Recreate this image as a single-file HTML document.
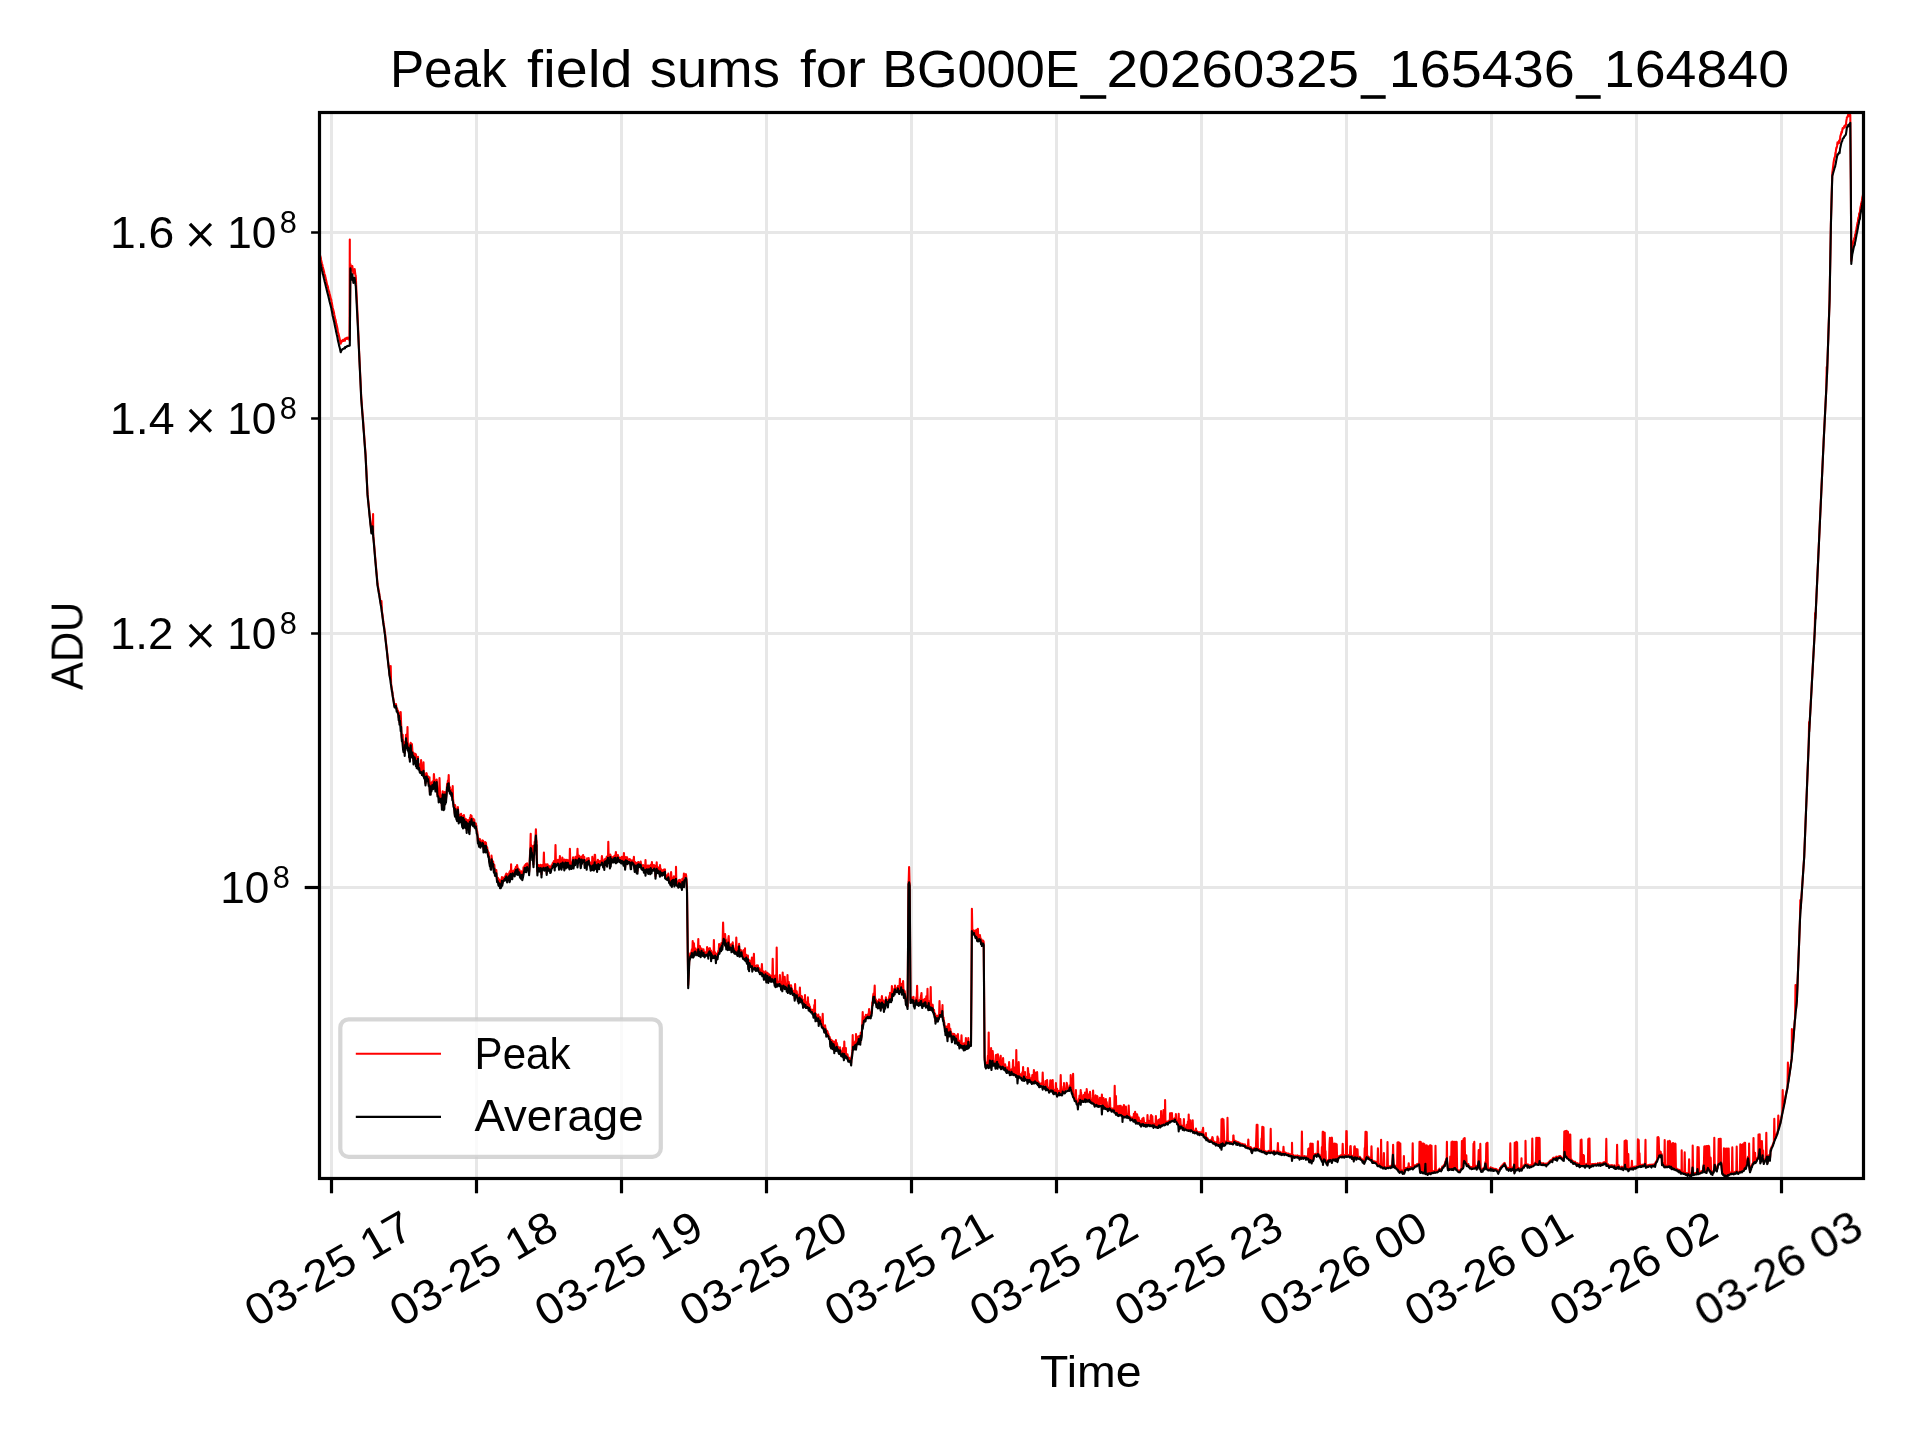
<!DOCTYPE html>
<html><head><meta charset="utf-8"><title>Peak field sums</title>
<style>html,body{margin:0;padding:0;background:#fff;}body{width:1920px;height:1440px;overflow:hidden;font-family:"Liberation Sans",sans-serif;}svg{display:block;}text{font-family:"Liberation Sans",sans-serif;fill:#000;}</style>
</head><body>
<svg width="1920" height="1440" viewBox="0 0 1920 1440">
<rect x="0" y="0" width="1920" height="1440" fill="#ffffff"/>
<defs><clipPath id="ax"><rect x="319.5" y="112.5" width="1544.0" height="1066.0"/></clipPath></defs>
<g stroke="#e7e7e7" stroke-width="3" fill="none" shape-rendering="crispEdges">
<line x1="331.5" y1="112.5" x2="331.5" y2="1178.5"/>
<line x1="476.5" y1="112.5" x2="476.5" y2="1178.5"/>
<line x1="621.5" y1="112.5" x2="621.5" y2="1178.5"/>
<line x1="766.5" y1="112.5" x2="766.5" y2="1178.5"/>
<line x1="911.5" y1="112.5" x2="911.5" y2="1178.5"/>
<line x1="1056.5" y1="112.5" x2="1056.5" y2="1178.5"/>
<line x1="1201.5" y1="112.5" x2="1201.5" y2="1178.5"/>
<line x1="1346.5" y1="112.5" x2="1346.5" y2="1178.5"/>
<line x1="1491.5" y1="112.5" x2="1491.5" y2="1178.5"/>
<line x1="1636.5" y1="112.5" x2="1636.5" y2="1178.5"/>
<line x1="1781.5" y1="112.5" x2="1781.5" y2="1178.5"/>
<line x1="319.5" y1="232.5" x2="1863.5" y2="232.5"/>
<line x1="319.5" y1="418.5" x2="1863.5" y2="418.5"/>
<line x1="319.5" y1="633.5" x2="1863.5" y2="633.5"/>
<line x1="319.5" y1="887.5" x2="1863.5" y2="887.5"/>
</g>
<g clip-path="url(#ax)" fill="none" stroke-linejoin="round" stroke-linecap="butt">
<path stroke="#ff0000" stroke-width="2.1" d="M319.5 254.4L319.9 254.7L320.3 256.2L320.7 257.6L321.1 260.0L321.5 261.7L321.9 263.5L322.3 264.7L322.7 266.8L323.1 268.1L323.5 269.9L323.9 271.0L324.3 273.2L324.7 274.5L325.0 276.2L325.1 275.4L325.5 277.8L325.9 279.3L326.3 280.9L326.7 282.9L327.1 284.9L327.5 285.5L327.9 286.8L328.3 289.0L328.7 290.9L329.1 291.4L329.5 293.9L329.9 294.7L330.3 296.4L330.7 298.5L331.1 299.4L331.2 299.4L331.5 301.4L331.9 303.2L332.3 305.6L332.7 308.0L333.1 309.4L333.5 310.8L333.9 312.2L334.3 314.7L334.7 316.4L335.1 318.8L335.5 319.5L335.9 321.7L336.0 323.1L336.3 323.6L336.7 325.3L337.1 327.1L337.5 329.0L337.9 332.3L338.3 333.1L338.7 334.6L339.1 336.4L339.5 338.1L339.9 339.9L340.3 342.2L340.7 343.8L341.1 342.2L341.5 340.8L341.9 340.7L342.0 341.2L342.3 341.5L342.7 341.2L343.1 339.8L343.5 340.9L343.9 340.1L344.3 340.3L344.7 339.0L345.0 340.8L345.1 338.6L345.5 339.2L345.9 338.4L346.3 338.7L346.7 337.9L347.1 339.0L347.5 337.7L347.9 338.0L348.3 337.8L348.7 338.4L349.1 338.1L349.5 340.2L349.8 239.5L349.9 328.9L350.3 278.0L350.4 264.1L350.7 265.7L351.1 269.7L351.3 270.5L351.5 270.0L351.9 268.3L352.3 266.0L352.7 269.0L353.1 271.4L353.4 273.4L353.5 273.0L353.9 271.2L354.3 270.0L354.6 269.0L354.7 269.0L355.1 272.6L355.5 275.3L355.8 276.8L355.9 278.4L356.3 288.5L356.7 296.9L357.1 305.5L357.5 314.0L357.9 323.1L358.0 325.5L358.3 332.6L358.7 341.8L359.1 351.0L359.5 360.0L359.9 368.2L360.3 376.9L360.7 385.3L361.1 394.3L361.2 396.4L361.5 400.4L361.9 405.6L362.3 411.0L362.7 415.7L363.1 420.6L363.5 426.6L363.9 431.5L364.3 437.3L364.7 442.6L365.1 448.1L365.5 453.1L365.9 461.1L366.3 469.0L366.7 477.1L367.1 484.6L367.5 492.8L367.9 497.1L368.3 501.0L368.7 505.2L369.1 509.1L369.5 513.4L369.9 517.1L370.3 521.1L370.5 522.9L370.7 524.5L371.1 528.3L371.4 531.8L371.5 530.6L371.9 528.3L372.3 526.2L372.6 524.5L372.7 526.0L373.1 514.0L373.2 534.5L373.5 537.8L373.9 542.0L374.3 546.8L374.7 551.4L375.1 556.3L375.5 561.0L375.9 565.3L376.3 570.0L376.7 574.2L377.1 579.0L377.5 583.5L377.9 585.8L378.3 588.1L378.7 590.9L379.1 592.3L379.5 595.4L379.9 597.9L380.3 600.4L380.7 602.8L381.1 604.7L381.2 605.9L381.5 601.0L381.9 611.0L382.3 613.5L382.7 616.8L383.1 619.7L383.5 623.0L383.9 625.3L384.3 628.0L384.7 631.8L385.0 633.1L385.1 634.2L385.5 638.1L385.9 641.6L386.3 644.9L386.7 648.5L387.1 651.8L387.5 655.6L387.9 659.5L388.3 662.9L388.7 666.5L389.1 669.7L389.5 674.1L389.9 675.8L390.3 678.3L390.7 666.0L391.1 684.0L391.5 686.6L391.9 689.8L392.3 691.2L392.7 694.9L393.1 697.2L393.5 699.5L393.9 701.9L394.3 704.8L394.5 705.5L394.7 706.1L395.1 705.6L395.5 705.2L395.9 705.9L396.0 704.1L396.3 706.7L396.7 709.3L397.1 708.4L397.5 710.4L397.9 710.7L398.3 711.7L398.7 717.4L399.1 713.1L399.5 722.1L399.9 720.7L400.0 718.2L400.3 722.3L400.7 712.0L401.1 722.9L401.5 733.8L401.9 738.1L402.3 736.4L402.7 734.8L403.1 746.8L403.5 744.9L403.7 747.2L403.9 747.8L404.3 744.7L404.7 753.1L405.1 741.6L405.5 745.5L405.9 738.9L406.0 734.7L406.3 739.8L406.7 740.1L407.1 741.3L407.5 727.0L407.9 747.6L408.3 743.8L408.7 750.2L409.0 750.5L409.1 753.8L409.5 753.3L409.9 759.7L410.3 747.1L410.7 742.8L411.1 749.2L411.5 754.5L411.9 744.0L412.3 749.0L412.5 754.8L412.7 752.9L413.1 752.3L413.5 761.0L413.9 756.0L414.3 757.5L414.7 753.5L415.1 756.5L415.5 758.5L415.9 754.3L416.3 758.5L416.7 764.9L417.1 758.0L417.5 758.8L417.9 760.4L418.0 756.9L418.3 766.9L418.7 766.5L419.1 764.3L419.5 768.2L419.9 770.4L420.3 770.8L420.7 770.0L421.1 760.0L421.5 768.8L421.9 771.8L422.3 771.9L422.7 770.0L423.1 773.4L423.5 762.4L423.9 775.4L424.3 776.6L424.7 774.3L425.0 777.6L425.1 779.0L425.5 783.2L425.9 779.6L426.3 773.1L426.7 773.5L427.1 777.0L427.5 778.4L427.9 776.2L428.3 778.4L428.7 783.8L429.1 781.7L429.5 777.3L429.9 792.2L430.3 782.5L430.7 791.0L431.0 784.2L431.1 784.3L431.5 789.5L431.9 785.1L432.3 781.5L432.7 783.4L433.1 786.5L433.5 785.5L433.9 774.0L434.3 779.1L434.7 780.4L435.1 785.8L435.5 787.9L435.9 783.4L436.3 788.6L436.7 779.5L437.1 786.6L437.5 794.4L437.9 793.2L438.3 793.8L438.7 795.2L439.1 797.8L439.5 778.0L439.9 789.7L440.3 796.2L440.7 799.1L441.1 799.6L441.5 795.9L441.9 806.3L442.3 804.1L442.7 791.3L443.1 797.9L443.5 801.6L443.7 807.8L443.9 799.2L444.3 805.4L444.7 792.0L445.1 802.4L445.5 800.1L445.9 796.1L446.0 799.6L446.3 795.6L446.7 789.8L447.1 783.9L447.5 784.1L447.9 780.5L448.3 783.0L448.7 775.0L449.1 789.0L449.5 786.5L449.9 791.4L450.0 787.6L450.3 788.8L450.7 790.1L451.1 791.8L451.5 794.1L451.9 791.3L452.3 797.1L452.7 786.0L453.1 799.7L453.5 803.8L453.9 804.8L454.3 807.4L454.7 812.8L455.0 814.4L455.1 805.1L455.5 807.5L455.9 809.3L456.3 816.1L456.7 816.5L457.1 818.3L457.5 817.4L457.9 807.0L458.3 813.5L458.5 816.5L458.7 819.5L459.1 815.7L459.5 816.4L459.9 814.9L460.3 818.6L460.7 817.0L461.1 813.7L461.5 817.6L461.9 822.2L462.3 824.1L462.7 822.7L463.0 823.1L463.1 815.8L463.5 819.3L463.9 815.0L464.3 817.4L464.7 820.0L465.1 825.0L465.5 823.6L465.9 819.1L466.3 823.1L466.7 829.9L467.1 820.6L467.5 822.6L467.9 820.0L468.3 823.4L468.7 820.4L469.1 830.9L469.5 831.2L469.9 817.9L470.0 823.1L470.3 819.0L470.7 815.0L471.1 820.5L471.5 815.7L471.9 819.7L472.3 820.8L472.7 819.5L473.1 824.1L473.5 818.9L473.9 820.3L474.3 820.0L474.6 825.8L474.7 824.2L475.1 823.4L475.5 824.8L475.9 823.5L476.0 826.0L476.3 825.4L476.7 830.6L477.1 831.0L477.5 833.5L477.9 841.4L478.3 838.1L478.7 841.9L479.1 844.7L479.5 841.2L479.9 839.1L480.3 842.6L480.4 844.4L480.7 841.7L481.1 842.0L481.5 842.8L481.9 842.7L482.3 840.3L482.7 841.7L483.1 840.7L483.5 848.9L483.9 843.2L484.3 845.1L484.7 844.0L485.1 842.1L485.5 850.0L485.9 842.5L486.3 846.4L486.7 847.9L487.1 847.1L487.5 849.9L487.9 852.0L488.3 854.6L488.7 852.6L489.1 858.8L489.5 860.0L489.9 863.5L490.3 861.1L490.7 866.5L491.1 867.4L491.5 855.5L491.9 858.9L492.3 863.0L492.7 862.1L493.1 861.4L493.5 866.2L493.9 869.4L494.3 864.9L494.7 869.3L495.0 872.7L495.1 871.4L495.5 873.1L495.9 873.1L496.3 870.1L496.7 876.3L497.1 879.3L497.5 877.7L497.9 877.7L498.3 882.0L498.7 883.3L499.1 880.7L499.5 879.6L499.9 883.0L500.0 884.0L500.3 884.5L500.7 885.4L501.1 885.2L501.5 883.6L501.9 877.1L502.0 877.1L502.3 883.7L502.7 881.0L503.1 878.0L503.5 877.9L503.9 878.2L504.3 877.8L504.7 876.9L505.0 877.0L505.1 878.4L505.5 875.4L505.9 874.8L506.3 873.5L506.7 874.4L507.1 878.7L507.5 874.3L507.9 875.2L508.3 874.4L508.7 874.4L509.1 873.7L509.5 872.1L509.9 874.5L510.3 870.6L510.7 870.4L511.0 874.0L511.1 864.3L511.5 876.3L511.9 875.2L512.3 876.9L512.7 871.2L513.1 871.2L513.5 870.5L513.9 871.4L514.3 872.5L514.7 874.0L515.1 868.8L515.5 869.1L515.9 866.7L516.3 868.1L516.7 872.0L517.1 865.0L517.5 867.4L517.9 871.1L518.0 869.2L518.3 868.6L518.7 870.0L519.1 869.5L519.5 870.1L519.9 874.6L520.3 874.6L520.7 873.9L521.1 876.0L521.5 871.4L521.9 872.1L522.3 877.6L522.7 875.6L523.1 874.6L523.5 867.2L523.9 869.7L524.3 866.9L524.7 865.4L525.0 868.6L525.1 868.5L525.5 868.8L525.9 864.0L526.3 868.9L526.7 867.9L527.1 863.4L527.5 864.9L527.9 866.4L528.3 866.7L528.7 868.5L529.1 872.2L529.5 865.7L529.9 856.3L530.2 851.1L530.3 848.3L530.7 833.7L530.8 849.4L531.1 844.5L531.5 848.9L531.9 850.0L532.0 850.8L532.3 857.6L532.7 854.2L533.1 846.0L533.5 864.5L533.7 858.8L533.9 852.7L534.3 851.5L534.7 841.7L534.8 845.3L535.1 846.6L535.5 838.1L535.9 829.3L536.3 840.2L536.6 841.8L536.7 854.3L537.1 863.8L537.4 871.5L537.5 871.1L537.9 866.0L538.2 865.4L538.3 867.0L538.7 865.1L539.1 867.9L539.5 869.2L539.9 868.7L540.3 867.1L540.7 864.8L541.1 865.5L541.5 874.3L541.9 867.0L542.3 867.4L542.7 864.8L543.1 867.1L543.5 864.2L543.9 852.5L544.3 868.3L544.7 865.5L545.0 864.4L545.1 868.1L545.5 866.6L545.9 864.2L546.3 866.7L546.7 872.9L547.1 866.0L547.5 864.3L547.9 867.0L548.3 865.6L548.7 865.8L549.1 868.3L549.5 867.2L549.9 866.6L550.3 870.3L550.7 870.8L551.1 867.9L551.5 865.4L551.9 866.3L552.3 865.2L552.7 863.1L553.1 862.6L553.5 862.6L553.9 861.1L554.3 863.9L554.7 866.9L555.0 861.7L555.1 862.2L555.5 845.0L555.9 861.9L556.3 862.8L556.7 862.0L557.1 862.6L557.5 861.3L557.9 859.8L558.3 861.8L558.7 863.1L559.1 866.9L559.5 865.7L559.9 856.0L560.3 864.5L560.7 862.1L561.1 859.7L561.5 865.8L561.9 865.2L562.3 857.5L562.7 859.0L563.1 864.7L563.5 860.3L563.9 860.8L564.3 867.3L564.7 859.6L565.0 861.3L565.1 860.1L565.5 860.0L565.9 864.7L566.3 860.8L566.7 859.8L567.1 862.1L567.5 863.6L567.9 860.2L568.3 860.4L568.7 861.3L569.1 865.7L569.5 866.7L569.9 848.7L570.3 863.0L570.7 862.8L571.1 863.8L571.5 867.0L571.9 862.5L572.3 862.4L572.7 860.8L573.1 857.2L573.5 865.6L573.9 862.4L574.3 859.7L574.7 862.8L575.1 861.2L575.5 856.9L575.9 860.5L576.3 859.2L576.7 860.9L577.1 858.4L577.5 848.7L577.9 860.2L578.3 859.2L578.7 857.0L579.1 855.7L579.5 856.9L579.9 858.7L580.3 859.2L580.7 866.0L581.1 862.6L581.5 856.6L581.9 861.4L582.3 857.2L582.7 858.5L583.1 855.0L583.5 858.2L583.9 858.7L584.3 857.0L584.7 865.1L585.1 860.4L585.5 860.4L585.9 862.6L586.3 861.3L586.7 865.9L587.1 858.4L587.5 860.0L587.9 861.5L588.3 861.9L588.7 858.1L589.1 861.6L589.5 862.0L589.9 863.0L590.0 862.2L590.3 865.1L590.7 866.7L591.1 863.9L591.5 863.4L591.9 867.6L592.3 856.9L592.7 862.4L593.1 862.3L593.5 865.2L593.9 867.5L594.3 863.0L594.7 854.8L595.1 855.0L595.5 864.6L595.9 862.9L596.3 862.0L596.7 863.6L597.1 869.1L597.5 862.0L597.9 859.8L598.3 861.7L598.7 862.6L599.1 866.1L599.5 862.1L599.9 861.1L600.3 861.6L600.7 862.4L601.1 860.8L601.5 861.6L601.9 856.0L602.3 859.3L602.7 860.5L603.1 865.4L603.5 862.2L603.9 862.8L604.3 866.6L604.7 859.4L605.1 860.4L605.5 858.9L605.9 862.7L606.3 860.8L606.7 856.9L607.1 863.6L607.5 858.9L607.9 855.0L608.0 857.7L608.3 841.7L608.7 859.5L609.1 858.6L609.5 856.9L609.9 864.7L610.3 854.5L610.7 864.0L611.1 856.4L611.5 856.6L611.9 857.2L612.3 859.0L612.7 859.7L613.1 858.8L613.5 858.8L613.9 856.7L614.3 856.1L614.7 855.5L615.1 860.1L615.5 855.2L615.9 852.0L616.3 856.4L616.7 859.0L617.1 859.7L617.5 856.8L617.9 855.0L618.3 856.7L618.7 858.0L619.1 859.3L619.5 859.3L619.9 857.5L620.3 859.0L620.7 859.6L621.1 861.4L621.5 859.6L621.9 856.8L622.3 859.1L622.7 859.4L623.1 861.0L623.5 861.9L623.9 853.0L624.3 858.8L624.7 858.5L625.1 867.5L625.5 862.9L625.9 857.1L626.3 860.3L626.7 860.7L627.1 857.3L627.5 861.4L627.9 859.2L628.3 859.6L628.7 859.7L629.1 859.3L629.5 859.0L629.9 860.3L630.0 859.2L630.3 862.2L630.7 865.6L631.1 866.8L631.5 860.7L631.9 860.3L632.3 860.6L632.7 862.2L633.1 860.5L633.5 861.1L633.9 856.8L634.3 865.6L634.7 869.1L635.1 862.1L635.5 863.7L635.9 863.1L636.3 864.2L636.7 871.5L637.1 862.8L637.5 871.0L637.9 863.4L638.3 862.1L638.7 863.9L639.1 862.8L639.5 863.5L639.9 863.9L640.0 862.6L640.3 863.3L640.7 861.6L641.1 864.2L641.5 866.9L641.9 866.3L642.3 867.4L642.7 868.0L643.1 865.0L643.5 868.0L643.9 869.3L644.3 867.9L644.7 867.5L645.0 866.3L645.1 868.0L645.5 860.0L645.9 869.1L646.3 869.2L646.7 866.2L647.1 868.0L647.5 865.6L647.9 869.8L648.3 871.2L648.7 865.6L649.1 866.7L649.5 867.2L649.9 866.0L650.3 871.8L650.7 864.9L651.1 865.0L651.5 870.6L651.9 862.0L652.3 867.2L652.7 866.8L653.1 867.3L653.5 867.8L653.9 865.1L654.3 865.2L654.7 865.9L655.1 867.7L655.5 876.1L655.9 871.1L656.3 867.9L656.7 862.2L657.1 871.1L657.5 868.8L657.9 867.2L658.3 870.3L658.7 869.7L659.1 870.4L659.5 871.0L659.9 874.5L660.0 865.0L660.3 868.8L660.7 868.7L661.1 869.6L661.5 871.6L661.9 870.1L662.3 871.7L662.7 872.3L663.1 871.6L663.5 872.6L663.9 869.6L664.3 872.4L664.7 870.2L665.0 869.4L665.1 875.6L665.5 875.2L665.9 877.0L666.3 875.9L666.7 875.4L667.1 877.1L667.5 877.5L667.9 875.7L668.3 873.6L668.7 877.5L669.1 880.8L669.5 879.8L669.9 881.2L670.0 879.9L670.3 882.8L670.7 882.8L671.1 872.0L671.5 877.6L671.9 883.7L672.3 878.4L672.7 878.1L673.1 879.3L673.5 879.7L673.9 876.2L674.3 883.5L674.7 881.7L675.1 877.0L675.5 881.6L675.9 880.1L676.0 866.8L676.3 881.3L676.7 881.3L677.1 881.9L677.5 883.2L677.9 882.8L678.3 885.4L678.7 880.4L679.1 880.1L679.5 882.3L679.9 879.8L680.0 882.5L680.3 884.8L680.7 884.8L681.1 882.2L681.5 882.7L681.9 886.9L682.3 878.7L682.7 880.0L683.1 881.4L683.5 879.9L683.9 873.5L684.0 876.5L684.3 876.8L684.7 876.6L685.1 877.0L685.5 875.0L685.9 874.1L686.2 876.0L686.3 877.3L686.7 883.2L687.0 888.8L687.1 897.1L687.5 928.9L687.9 961.4L688.2 985.3L688.3 982.5L688.7 973.1L689.1 963.7L689.3 958.9L689.5 957.5L689.9 956.4L690.3 953.2L690.5 953.7L690.7 953.7L691.1 954.3L691.5 951.8L691.9 949.3L692.3 952.2L692.7 941.0L693.1 954.9L693.5 953.2L693.9 943.4L694.3 948.4L694.7 951.7L695.1 949.2L695.5 948.5L695.9 951.5L696.3 949.7L696.7 952.1L697.0 952.2L697.1 951.4L697.5 951.3L697.9 951.7L698.3 939.1L698.7 953.5L699.1 947.8L699.5 952.6L699.9 946.0L700.3 949.8L700.7 953.6L701.1 950.9L701.5 948.5L701.9 950.6L702.3 951.0L702.7 952.4L703.1 952.9L703.5 949.3L703.9 952.0L704.3 953.1L704.7 954.6L705.0 952.9L705.1 952.2L705.5 953.4L705.9 953.0L706.3 952.4L706.7 953.0L707.1 947.0L707.5 953.5L707.9 948.2L708.3 954.8L708.7 950.3L709.1 950.8L709.5 949.2L709.9 948.2L710.3 950.9L710.7 953.9L711.0 950.5L711.1 959.2L711.5 952.1L711.9 952.4L712.3 954.8L712.7 953.9L713.1 953.8L713.5 956.1L713.9 940.0L714.3 954.6L714.7 954.4L715.1 952.4L715.5 953.3L715.9 960.0L716.3 953.7L716.7 955.7L717.1 955.4L717.5 957.1L717.9 953.2L718.3 950.8L718.7 951.0L719.1 944.0L719.5 950.2L719.9 949.2L720.3 944.9L720.7 948.2L721.0 947.8L721.1 948.5L721.5 942.9L721.9 942.8L722.3 947.5L722.7 939.6L723.1 922.5L723.5 936.9L723.7 936.8L723.9 938.8L724.3 938.2L724.7 936.6L725.1 934.0L725.5 939.8L725.9 939.5L726.3 947.1L726.7 944.4L727.0 943.4L727.1 945.7L727.5 945.0L727.9 948.0L728.3 938.8L728.7 936.0L729.1 944.7L729.5 946.7L729.9 945.3L730.3 946.4L730.7 947.3L731.1 944.2L731.5 948.6L731.9 947.5L732.3 946.3L732.7 942.3L733.0 944.7L733.1 945.1L733.5 948.1L733.9 949.3L734.3 948.7L734.7 951.3L735.1 949.9L735.5 950.5L735.9 949.4L736.3 937.5L736.7 952.1L737.1 950.6L737.5 952.3L737.9 950.5L738.3 947.1L738.7 949.0L739.1 943.9L739.5 954.4L739.9 951.5L740.0 949.5L740.3 953.4L740.7 951.9L741.1 953.5L741.5 950.2L741.9 953.1L742.3 953.3L742.7 954.6L743.1 956.9L743.5 956.0L743.9 950.0L744.3 956.9L744.7 956.8L745.0 948.2L745.1 957.0L745.5 959.3L745.9 958.6L746.3 954.9L746.7 960.5L747.1 959.8L747.5 958.3L747.9 955.6L748.3 966.7L748.7 961.2L749.1 967.7L749.5 960.2L749.9 963.0L750.0 963.5L750.3 963.1L750.7 964.6L751.1 963.6L751.5 963.9L751.9 957.6L752.3 968.1L752.7 967.2L753.1 966.1L753.5 966.5L753.9 953.7L754.3 965.6L754.7 965.9L755.1 965.9L755.5 966.8L755.9 967.4L756.3 966.0L756.7 965.3L757.1 967.5L757.5 965.7L757.9 965.4L758.0 967.8L758.3 967.5L758.7 967.7L759.1 968.4L759.5 969.0L759.9 970.7L760.3 970.4L760.7 969.5L761.1 971.3L761.5 970.2L761.9 964.0L762.3 972.5L762.7 972.8L763.1 971.2L763.5 972.7L763.9 976.3L764.3 973.8L764.7 974.4L765.1 973.1L765.5 971.2L765.9 974.9L766.3 980.1L766.7 977.8L767.1 972.9L767.5 972.9L767.9 973.9L768.3 979.5L768.7 977.2L769.1 974.2L769.5 975.3L769.9 975.1L770.3 978.0L770.7 975.8L771.1 978.1L771.5 978.2L771.9 977.4L772.3 977.3L772.7 958.7L773.1 977.9L773.5 979.9L773.9 979.6L774.3 980.3L774.7 983.0L775.1 975.5L775.5 984.9L775.9 984.1L776.3 980.4L776.7 947.5L777.1 983.6L777.5 984.0L777.9 983.1L778.0 982.2L778.3 981.8L778.7 981.9L779.1 981.8L779.5 981.1L779.9 975.1L780.3 981.3L780.7 982.2L781.1 987.3L781.5 984.3L781.9 982.9L782.3 988.0L782.7 972.5L783.1 983.1L783.5 982.7L783.9 983.1L784.3 985.8L784.7 976.8L785.1 983.3L785.5 983.8L785.9 985.1L786.3 985.0L786.7 987.8L787.1 988.0L787.5 975.0L787.9 989.4L788.3 986.8L788.7 981.7L789.1 984.5L789.5 984.9L789.9 987.7L790.0 989.4L790.3 991.3L790.7 988.4L791.1 985.4L791.5 988.7L791.9 988.6L792.3 991.0L792.7 992.7L793.1 991.2L793.5 991.8L793.9 990.8L794.3 990.9L794.7 998.7L795.1 984.0L795.5 991.7L795.9 993.5L796.3 993.3L796.7 991.3L797.0 993.9L797.1 993.6L797.5 996.0L797.9 998.7L798.3 995.4L798.7 999.9L799.1 998.2L799.5 994.7L799.9 987.5L800.3 997.9L800.7 999.8L801.1 995.7L801.5 998.5L801.9 996.4L802.3 1000.8L802.7 999.6L803.1 1005.5L803.5 1000.2L803.9 1000.0L804.3 1002.5L804.7 1004.0L805.0 995.0L805.1 1003.8L805.5 1001.5L805.9 1005.4L806.3 1005.8L806.7 1003.4L807.1 1004.2L807.5 1004.0L807.9 997.2L808.3 1004.7L808.7 1006.8L809.1 1004.3L809.5 1008.1L809.9 1006.4L810.3 1009.6L810.7 1010.3L811.1 1010.5L811.5 1009.8L811.9 1009.6L812.3 1009.9L812.7 1011.7L813.1 1011.4L813.5 1014.6L813.9 1014.0L814.3 1005.1L814.7 1011.7L815.0 1000.0L815.1 1012.7L815.5 1017.6L815.9 1013.9L816.3 1016.8L816.7 1015.3L817.1 1016.2L817.5 1018.2L817.9 1016.4L818.3 1014.6L818.7 1022.5L819.1 1017.5L819.5 1016.9L819.9 1017.0L820.3 1019.7L820.7 1020.4L821.1 1020.1L821.5 1023.9L821.9 1024.3L822.3 1024.0L822.7 1013.7L823.1 1026.1L823.5 1026.0L823.9 1027.9L824.3 1029.4L824.7 1029.6L825.0 1028.6L825.1 1025.4L825.5 1029.2L825.9 1028.9L826.3 1034.1L826.7 1034.1L827.1 1030.9L827.5 1031.5L827.9 1034.6L828.3 1033.8L828.7 1035.6L829.1 1037.2L829.5 1036.7L829.9 1037.8L830.3 1044.0L830.7 1040.3L831.1 1046.2L831.5 1039.9L831.9 1041.9L832.3 1040.9L832.5 1042.6L832.7 1046.1L833.1 1042.6L833.5 1041.6L833.9 1041.6L834.3 1050.4L834.7 1044.0L835.1 1045.2L835.5 1047.3L835.9 1040.0L836.3 1048.7L836.7 1042.9L837.1 1044.4L837.5 1047.0L837.9 1046.7L838.3 1048.6L838.7 1049.8L839.1 1051.1L839.5 1049.2L839.9 1048.9L840.0 1047.2L840.3 1050.4L840.7 1051.0L841.1 1053.6L841.5 1051.9L841.9 1052.9L842.3 1053.5L842.7 1050.7L843.1 1048.0L843.5 1053.7L843.9 1057.0L844.3 1041.6L844.7 1053.9L845.1 1054.3L845.5 1053.3L845.9 1048.0L846.0 1054.2L846.3 1055.3L846.7 1054.3L847.1 1054.5L847.5 1054.4L847.9 1057.1L848.3 1057.9L848.7 1059.2L849.1 1057.8L849.5 1058.9L849.9 1058.4L850.3 1058.8L850.7 1059.4L851.1 1063.4L851.2 1062.9L851.5 1056.5L851.9 1055.3L852.3 1051.4L852.7 1035.0L853.0 1047.5L853.1 1043.6L853.5 1043.9L853.9 1047.8L854.3 1046.2L854.7 1043.2L855.1 1041.6L855.5 1041.1L855.9 1045.1L856.0 1034.0L856.3 1045.0L856.7 1036.3L857.1 1041.5L857.5 1040.7L857.9 1038.4L858.3 1040.4L858.7 1036.3L859.1 1037.5L859.5 1037.2L859.9 1035.6L860.3 1042.2L860.7 1032.7L861.0 1035.7L861.1 1037.7L861.5 1036.2L861.9 1030.2L862.3 1023.1L862.7 1012.0L863.1 1023.1L863.5 1021.4L863.9 1018.6L864.3 1018.9L864.7 1018.1L865.1 1016.6L865.5 1018.7L865.9 1014.7L866.3 1016.1L866.7 1015.0L867.1 1015.1L867.5 1015.6L867.9 1014.4L868.0 1014.8L868.3 1014.5L868.7 1014.2L869.1 1009.0L869.5 1015.5L869.9 1013.6L870.3 1014.7L870.7 1016.0L871.1 1012.3L871.5 1013.3L871.9 1008.6L872.3 1002.4L872.7 1003.3L873.1 995.9L873.5 993.6L873.9 994.7L874.3 993.5L874.7 985.5L875.0 997.0L875.1 998.6L875.5 999.2L875.9 999.6L876.3 1002.4L876.5 1004.2L876.7 1004.9L877.1 1001.3L877.5 1002.6L877.9 1005.8L878.3 1003.7L878.7 1000.5L879.1 999.4L879.5 1002.8L879.9 1005.6L880.0 1001.4L880.3 1000.1L880.7 1008.9L881.1 1003.0L881.5 1000.3L881.9 996.0L882.3 1000.5L882.7 1002.8L883.1 1004.3L883.5 1000.5L883.9 1009.2L884.3 1006.8L884.7 1002.6L885.0 1006.0L885.1 1005.9L885.5 1004.0L885.9 997.4L886.3 999.4L886.7 1001.4L887.1 1001.5L887.5 1000.0L887.9 1004.9L888.3 1000.5L888.7 999.7L889.1 997.5L889.5 995.7L889.9 999.3L890.0 992.7L890.3 998.5L890.7 997.0L891.1 999.0L891.5 998.4L891.9 986.0L892.3 991.3L892.7 993.0L893.1 992.4L893.5 993.4L893.9 991.3L894.3 988.9L894.7 992.3L895.0 985.6L895.1 990.0L895.5 988.0L895.9 988.4L896.3 988.7L896.7 988.6L897.1 989.1L897.5 988.1L897.9 986.0L898.3 988.8L898.7 988.0L899.1 990.3L899.5 987.9L899.9 978.7L900.3 989.4L900.7 989.4L901.0 986.8L901.1 983.8L901.5 989.1L901.9 991.9L902.3 987.7L902.7 986.5L903.1 981.0L903.5 990.6L903.9 995.0L904.0 990.0L904.3 991.1L904.7 991.1L905.1 994.8L905.5 997.2L905.9 1001.8L906.3 1000.1L906.7 1002.4L907.1 1003.7L907.5 1005.5L907.6 1006.2L907.9 965.0L908.3 909.1L908.5 881.5L908.7 880.8L909.1 867.0L909.5 882.1L909.7 883.4L909.9 912.2L910.3 970.5L910.5 1000.1L910.7 999.8L911.1 1000.3L911.5 998.2L911.9 997.5L912.3 1000.4L912.7 998.1L913.1 997.8L913.5 996.9L913.9 1004.7L914.3 1002.7L914.7 1006.0L915.0 1001.8L915.1 1002.8L915.5 1000.9L915.9 1000.4L916.3 997.3L916.7 999.8L917.1 985.7L917.5 999.6L917.9 1001.5L918.3 1001.2L918.7 1003.5L919.1 1000.9L919.5 1000.1L919.9 1002.5L920.0 1001.9L920.3 1001.6L920.7 997.8L921.1 995.8L921.5 993.0L921.9 1004.1L922.3 1005.1L922.7 1002.4L923.1 1003.6L923.5 999.8L923.9 1004.1L924.3 1002.2L924.7 999.1L925.0 1000.4L925.1 1001.2L925.5 998.6L925.9 1005.7L926.3 996.4L926.7 998.0L927.1 1003.5L927.5 988.7L927.9 1005.4L928.3 1006.7L928.7 1001.0L929.1 1006.7L929.5 1008.0L929.9 1006.9L930.0 1007.3L930.3 1004.5L930.7 987.0L931.1 1007.0L931.5 1004.3L931.9 1007.2L932.3 1008.7L932.7 1004.8L933.1 1009.8L933.5 1009.6L933.9 1012.5L934.0 1009.7L934.3 1013.2L934.7 1015.7L935.1 1013.6L935.5 1021.2L935.9 1018.6L936.3 1018.3L936.7 1016.3L937.1 1015.7L937.5 1018.6L937.9 1018.2L938.3 1015.7L938.7 1016.0L939.1 1014.9L939.5 1001.0L939.9 1013.4L940.0 1013.1L940.3 1013.0L940.7 1012.4L941.1 1013.2L941.5 1014.2L941.9 1012.9L942.3 1009.1L942.5 1005.0L942.7 1015.4L943.1 1018.6L943.5 1017.4L943.9 1022.5L944.3 1022.3L944.7 1026.1L945.0 1028.6L945.1 1027.5L945.5 1032.2L945.9 1029.7L946.3 1029.5L946.7 1026.5L947.1 1033.3L947.5 1037.6L947.9 1031.2L948.3 1024.1L948.7 1031.0L949.1 1024.0L949.5 1033.7L949.9 1029.0L950.0 1031.6L950.3 1028.7L950.7 1031.8L951.1 1031.9L951.5 1034.3L951.9 1039.8L952.3 1037.1L952.7 1034.9L953.1 1033.8L953.5 1036.8L953.9 1035.2L954.3 1034.1L954.7 1036.1L955.0 1041.0L955.1 1040.4L955.5 1039.3L955.9 1035.6L956.3 1036.8L956.7 1041.2L957.1 1038.6L957.5 1042.0L957.9 1034.0L958.3 1041.6L958.7 1040.2L959.1 1043.4L959.5 1046.1L959.9 1041.5L960.0 1042.9L960.3 1045.5L960.7 1042.6L961.1 1043.8L961.5 1035.4L961.9 1045.2L962.3 1046.1L962.7 1044.9L963.1 1044.0L963.5 1044.8L963.7 1048.3L963.9 1043.3L964.3 1043.3L964.7 1043.5L965.1 1046.4L965.5 1046.8L965.9 1038.0L966.3 1044.6L966.7 1043.9L967.0 1043.4L967.1 1046.1L967.5 1044.8L967.9 1045.2L968.3 1038.0L968.7 1045.1L969.1 1044.0L969.5 1043.4L969.9 1042.4L970.3 1043.4L970.7 1043.9L971.0 1043.5L971.1 1029.9L971.5 978.6L971.9 908.7L972.3 929.3L972.7 929.9L973.1 931.9L973.2 931.0L973.5 930.6L973.9 930.5L974.3 932.2L974.7 931.8L975.1 931.0L975.5 935.8L975.9 936.3L976.3 929.9L976.7 934.8L977.1 937.9L977.5 939.2L977.9 928.8L978.3 937.7L978.7 938.6L979.1 936.7L979.5 938.3L979.9 935.0L980.3 937.7L980.7 938.6L981.0 941.9L981.1 940.8L981.5 939.6L981.9 942.5L982.3 941.0L982.7 940.9L983.1 940.5L983.5 941.5L983.7 942.0L983.9 966.7L984.3 1018.6L984.6 1057.2L984.7 1057.7L985.1 1062.1L985.3 1064.3L985.5 1063.5L985.9 1064.7L986.3 1062.8L986.7 1063.7L987.1 1062.4L987.5 1062.7L987.9 1055.9L988.0 1065.1L988.3 1059.0L988.7 1032.5L989.1 1064.6L989.5 1062.6L989.9 1058.5L990.3 1058.8L990.7 1064.6L991.1 1048.0L991.5 1060.4L991.9 1061.4L992.3 1061.3L992.5 1057.5L992.7 1051.0L993.1 1056.4L993.5 1063.5L993.9 1062.5L994.3 1061.6L994.7 1061.6L995.1 1062.7L995.5 1065.9L995.9 1055.0L996.3 1062.5L996.7 1054.9L997.1 1058.4L997.5 1059.7L997.9 1054.3L998.3 1062.6L998.7 1062.7L999.1 1063.6L999.5 1063.7L999.9 1064.9L1000.0 1064.7L1000.3 1057.4L1000.7 1055.7L1001.1 1067.1L1001.5 1061.3L1001.9 1064.3L1002.3 1063.9L1002.7 1063.3L1003.1 1058.0L1003.5 1066.4L1003.9 1066.4L1004.3 1067.0L1004.7 1067.5L1005.1 1064.3L1005.5 1066.5L1005.9 1068.4L1006.3 1070.5L1006.7 1070.7L1007.1 1067.2L1007.5 1067.8L1007.9 1070.5L1008.3 1070.2L1008.7 1070.1L1009.1 1062.0L1009.5 1069.6L1009.9 1072.9L1010.3 1070.3L1010.7 1072.0L1011.1 1071.6L1011.5 1069.2L1011.9 1072.4L1012.3 1070.1L1012.7 1068.1L1013.1 1060.0L1013.5 1073.3L1013.9 1067.1L1014.3 1071.5L1014.7 1071.3L1015.1 1072.1L1015.5 1073.8L1015.9 1073.2L1016.0 1074.2L1016.3 1050.0L1016.7 1074.3L1017.1 1073.5L1017.5 1074.6L1017.9 1075.2L1018.3 1076.0L1018.7 1062.0L1019.1 1073.8L1019.5 1074.0L1019.9 1074.1L1020.3 1074.3L1020.7 1075.8L1021.1 1075.9L1021.5 1076.0L1021.9 1077.4L1022.3 1072.3L1022.7 1078.3L1023.1 1067.0L1023.5 1078.9L1023.9 1074.3L1024.3 1079.0L1024.7 1076.6L1025.0 1072.0L1025.1 1076.4L1025.5 1076.8L1025.9 1077.1L1026.3 1077.0L1026.7 1076.9L1027.1 1077.5L1027.5 1081.1L1027.9 1068.0L1028.3 1072.2L1028.7 1079.5L1029.1 1074.0L1029.5 1077.7L1029.9 1078.6L1030.3 1078.8L1030.7 1078.4L1031.1 1080.6L1031.5 1079.8L1031.9 1081.7L1032.3 1075.1L1032.7 1079.6L1033.1 1081.5L1033.5 1079.5L1033.9 1070.0L1034.3 1080.2L1034.7 1080.5L1035.0 1079.0L1035.1 1072.5L1035.5 1080.3L1035.9 1081.3L1036.3 1079.6L1036.7 1075.9L1037.1 1072.0L1037.5 1080.2L1037.9 1083.5L1038.3 1082.4L1038.7 1082.2L1039.1 1084.4L1039.5 1084.7L1039.9 1083.7L1040.3 1084.3L1040.7 1083.7L1041.1 1083.3L1041.5 1083.3L1041.9 1084.4L1042.3 1084.7L1042.7 1072.5L1043.1 1084.4L1043.5 1084.8L1043.9 1085.1L1044.3 1084.9L1044.7 1086.3L1045.0 1085.7L1045.1 1086.4L1045.5 1081.1L1045.9 1088.1L1046.3 1087.1L1046.7 1086.9L1047.1 1080.0L1047.5 1087.1L1047.9 1087.3L1048.3 1088.3L1048.7 1089.3L1049.1 1090.3L1049.5 1089.5L1049.9 1089.0L1050.3 1080.4L1050.7 1087.5L1051.1 1087.8L1051.5 1080.9L1051.9 1088.5L1052.3 1089.2L1052.7 1080.0L1053.1 1091.0L1053.5 1089.4L1053.9 1092.2L1054.3 1090.3L1054.7 1089.8L1055.1 1090.4L1055.5 1091.6L1055.9 1083.0L1056.3 1092.0L1056.7 1093.1L1057.1 1088.8L1057.5 1094.3L1057.9 1093.0L1058.3 1092.3L1058.7 1092.2L1059.1 1090.8L1059.5 1092.4L1059.9 1093.2L1060.3 1092.2L1060.7 1075.0L1061.1 1088.9L1061.5 1092.8L1061.9 1092.7L1062.3 1092.0L1062.7 1089.5L1063.1 1090.8L1063.5 1086.5L1063.9 1090.2L1064.0 1083.0L1064.3 1091.1L1064.7 1090.8L1065.1 1090.9L1065.5 1089.6L1065.9 1088.7L1066.3 1089.0L1066.7 1082.9L1067.1 1084.0L1067.5 1088.7L1067.9 1088.6L1068.3 1087.6L1068.7 1088.3L1069.1 1088.2L1069.5 1086.8L1069.9 1085.2L1070.3 1085.7L1070.6 1087.2L1070.7 1075.0L1071.1 1080.8L1071.5 1090.3L1071.9 1087.9L1072.0 1087.5L1072.3 1091.6L1072.7 1093.8L1073.1 1073.7L1073.5 1094.7L1073.9 1095.9L1074.3 1096.7L1074.7 1098.5L1075.1 1099.5L1075.5 1098.6L1075.9 1090.0L1076.3 1100.4L1076.7 1101.6L1077.1 1103.2L1077.5 1102.2L1077.9 1102.7L1078.3 1102.4L1078.7 1099.1L1079.1 1100.1L1079.5 1095.5L1079.9 1098.9L1080.3 1098.2L1080.7 1090.0L1081.0 1099.2L1081.1 1092.6L1081.5 1098.8L1081.9 1099.9L1082.3 1098.2L1082.7 1099.4L1083.1 1099.8L1083.5 1095.0L1083.9 1100.1L1084.3 1099.5L1084.7 1098.8L1085.0 1092.5L1085.1 1098.9L1085.5 1098.8L1085.9 1093.0L1086.3 1099.2L1086.7 1089.0L1087.1 1092.8L1087.5 1098.9L1087.9 1099.9L1088.3 1099.2L1088.7 1099.3L1089.1 1094.3L1089.5 1098.4L1089.9 1099.7L1090.0 1091.8L1090.3 1099.3L1090.7 1101.1L1091.1 1100.5L1091.5 1101.3L1091.9 1100.2L1092.3 1101.1L1092.7 1096.9L1093.1 1090.5L1093.5 1101.2L1093.9 1102.6L1094.3 1103.5L1094.7 1105.2L1095.0 1103.1L1095.1 1104.0L1095.5 1095.3L1095.9 1103.2L1096.3 1103.1L1096.7 1103.2L1097.1 1096.0L1097.5 1096.8L1097.9 1104.8L1098.3 1105.4L1098.7 1103.5L1099.1 1104.6L1099.5 1100.4L1099.9 1097.9L1100.3 1103.6L1100.7 1099.7L1101.1 1098.7L1101.5 1103.6L1101.9 1094.5L1102.3 1105.1L1102.5 1099.4L1102.7 1103.4L1103.1 1104.3L1103.5 1098.1L1103.9 1099.6L1104.3 1106.5L1104.7 1105.5L1105.1 1106.0L1105.5 1106.7L1105.9 1099.0L1106.3 1107.2L1106.7 1102.0L1107.1 1106.8L1107.5 1107.2L1107.9 1106.6L1108.3 1107.0L1108.7 1108.6L1109.0 1107.0L1109.1 1107.5L1109.5 1100.9L1109.9 1098.0L1110.3 1107.1L1110.7 1108.2L1111.1 1108.7L1111.5 1109.8L1111.9 1108.7L1112.3 1109.2L1112.5 1108.7L1112.7 1109.3L1113.1 1108.5L1113.5 1110.0L1113.9 1108.3L1114.3 1110.3L1114.7 1085.7L1115.1 1110.5L1115.5 1102.6L1115.9 1096.0L1116.3 1111.4L1116.7 1111.0L1117.1 1106.0L1117.5 1113.1L1117.9 1113.2L1118.3 1114.5L1118.7 1114.0L1119.1 1105.8L1119.5 1108.7L1119.9 1112.7L1120.3 1113.1L1120.7 1105.7L1121.1 1113.3L1121.5 1113.9L1121.9 1114.6L1122.3 1107.3L1122.5 1114.7L1122.7 1114.9L1123.1 1116.4L1123.5 1107.7L1123.9 1105.0L1124.3 1108.8L1124.7 1115.3L1125.1 1115.4L1125.5 1115.0L1125.9 1106.6L1126.3 1115.5L1126.7 1115.8L1127.1 1114.3L1127.5 1115.8L1127.9 1115.9L1128.3 1116.4L1128.7 1105.5L1129.1 1115.5L1129.5 1115.8L1129.9 1116.7L1130.3 1118.4L1130.7 1117.9L1131.1 1118.0L1131.5 1117.5L1131.9 1117.4L1132.0 1118.0L1132.3 1117.7L1132.7 1118.7L1133.1 1119.1L1133.5 1119.7L1133.9 1113.7L1134.3 1114.2L1134.7 1117.9L1135.1 1111.9L1135.5 1115.0L1135.9 1121.9L1136.0 1114.0L1136.3 1120.3L1136.7 1121.0L1137.1 1114.4L1137.5 1117.0L1137.9 1122.0L1138.3 1121.9L1138.7 1117.6L1139.1 1121.0L1139.5 1122.1L1139.9 1123.0L1140.3 1120.7L1140.7 1123.4L1141.0 1124.1L1141.1 1125.0L1141.5 1122.7L1141.9 1122.8L1142.3 1118.9L1142.7 1122.7L1143.1 1122.4L1143.5 1117.8L1143.9 1121.1L1144.3 1124.3L1144.7 1123.6L1145.1 1123.9L1145.5 1123.0L1145.9 1124.8L1146.3 1123.9L1146.7 1122.8L1147.1 1124.6L1147.5 1115.0L1147.9 1123.3L1148.3 1123.2L1148.7 1120.8L1149.1 1123.5L1149.5 1123.4L1149.9 1124.5L1150.3 1123.9L1150.7 1116.6L1151.1 1115.0L1151.5 1124.8L1151.9 1123.9L1152.3 1116.4L1152.7 1123.9L1153.1 1125.2L1153.5 1126.4L1153.9 1123.9L1154.3 1124.6L1154.7 1125.0L1155.1 1124.9L1155.5 1125.7L1155.9 1116.0L1156.3 1125.7L1156.7 1125.8L1157.1 1126.0L1157.5 1126.6L1157.9 1125.5L1158.3 1120.0L1158.7 1124.0L1159.1 1123.4L1159.5 1119.4L1159.9 1124.8L1160.3 1126.0L1160.7 1124.9L1161.1 1111.0L1161.5 1124.1L1161.9 1124.6L1162.3 1124.0L1162.7 1124.2L1163.1 1123.7L1163.5 1110.0L1163.9 1123.5L1164.3 1123.9L1164.7 1123.4L1165.0 1123.5L1165.1 1100.0L1165.5 1123.4L1165.9 1122.2L1166.3 1122.0L1166.7 1121.8L1167.1 1122.7L1167.5 1121.5L1167.9 1123.2L1168.3 1121.2L1168.7 1121.3L1169.1 1120.8L1169.5 1120.2L1169.9 1120.2L1170.0 1113.4L1170.3 1120.7L1170.7 1113.4L1171.1 1114.3L1171.5 1120.2L1171.9 1113.0L1172.3 1119.1L1172.7 1118.9L1173.1 1119.2L1173.5 1120.0L1173.9 1119.7L1174.3 1120.2L1174.7 1118.2L1175.0 1118.1L1175.1 1119.2L1175.5 1120.3L1175.9 1114.0L1176.3 1120.3L1176.7 1120.8L1177.1 1122.5L1177.5 1122.3L1177.9 1123.1L1178.0 1123.2L1178.3 1124.5L1178.7 1113.7L1179.1 1124.9L1179.5 1126.5L1179.9 1127.5L1180.0 1125.8L1180.3 1119.1L1180.7 1124.7L1181.1 1125.6L1181.5 1125.3L1181.9 1126.7L1182.3 1127.3L1182.7 1128.1L1183.1 1126.5L1183.5 1126.7L1183.9 1119.0L1184.3 1129.1L1184.7 1128.5L1185.1 1128.3L1185.5 1127.9L1185.9 1128.1L1186.3 1128.2L1186.7 1124.8L1187.1 1129.0L1187.5 1129.1L1187.9 1121.5L1188.3 1128.9L1188.7 1114.6L1189.1 1128.7L1189.5 1128.8L1189.9 1128.9L1190.3 1130.1L1190.4 1120.4L1190.7 1128.9L1191.1 1128.5L1191.5 1129.2L1191.9 1129.5L1192.3 1129.6L1192.7 1120.4L1193.1 1131.4L1193.5 1130.8L1193.9 1130.8L1194.3 1130.8L1194.7 1132.1L1195.1 1131.3L1195.5 1131.4L1195.9 1128.5L1196.3 1131.6L1196.7 1131.1L1197.1 1131.4L1197.5 1131.9L1197.9 1132.9L1198.3 1132.7L1198.7 1132.5L1199.1 1132.0L1199.5 1133.8L1199.9 1132.3L1200.3 1132.2L1200.7 1132.3L1201.1 1132.6L1201.5 1133.6L1201.9 1132.9L1202.3 1133.3L1202.5 1130.0L1202.7 1133.8L1203.1 1127.7L1203.5 1135.3L1203.9 1135.0L1204.3 1136.3L1204.7 1135.9L1205.1 1136.8L1205.5 1136.2L1205.9 1133.1L1206.0 1136.7L1206.3 1139.0L1206.7 1138.2L1207.1 1137.8L1207.5 1138.2L1207.9 1139.2L1208.3 1139.7L1208.7 1139.7L1209.1 1140.1L1209.5 1140.3L1209.9 1140.2L1210.3 1140.7L1210.7 1140.1L1211.1 1139.6L1211.5 1140.0L1211.9 1140.8L1212.3 1137.0L1212.7 1137.8L1213.1 1142.3L1213.5 1142.5L1213.9 1141.9L1214.3 1141.5L1214.7 1142.6L1215.1 1143.0L1215.5 1142.7L1215.9 1144.4L1216.0 1142.5L1216.3 1143.3L1216.7 1143.1L1217.1 1143.6L1217.5 1136.5L1217.9 1143.8L1218.3 1138.2L1218.7 1143.8L1219.1 1144.1L1219.5 1145.0L1219.9 1145.1L1220.0 1146.6L1220.3 1144.1L1220.7 1142.5L1221.1 1146.6L1221.5 1119.2L1221.9 1142.7L1222.3 1118.8L1222.5 1145.0L1222.7 1119.4L1223.1 1143.8L1223.5 1119.5L1223.9 1129.7L1224.3 1144.7L1224.7 1143.2L1225.1 1143.9L1225.5 1142.7L1225.9 1142.3L1226.3 1141.2L1226.7 1141.8L1227.1 1142.3L1227.5 1117.7L1227.9 1141.7L1228.3 1141.5L1228.7 1142.0L1229.1 1142.2L1229.5 1141.6L1229.9 1142.3L1230.3 1142.4L1230.7 1142.4L1231.1 1142.1L1231.5 1142.4L1231.9 1142.3L1232.3 1143.0L1232.7 1143.0L1233.1 1142.7L1233.3 1135.6L1233.5 1135.4L1233.9 1141.8L1234.2 1140.6L1234.3 1140.4L1234.7 1141.2L1235.1 1140.9L1235.5 1141.1L1235.9 1141.3L1236.3 1143.6L1236.7 1142.0L1237.1 1142.9L1237.5 1143.4L1237.9 1141.9L1238.3 1142.4L1238.7 1142.9L1239.1 1142.7L1239.5 1144.0L1239.9 1144.4L1240.3 1143.3L1240.7 1144.2L1241.1 1144.3L1241.5 1143.8L1241.9 1143.8L1242.3 1144.0L1242.7 1144.1L1243.1 1144.5L1243.5 1144.5L1243.9 1144.4L1244.3 1144.7L1244.7 1145.4L1245.0 1144.5L1245.1 1145.8L1245.5 1146.2L1245.9 1146.4L1246.3 1146.1L1246.7 1146.3L1247.1 1146.9L1247.5 1146.5L1247.9 1147.0L1248.3 1139.5L1248.7 1146.8L1249.1 1147.1L1249.5 1147.1L1249.9 1147.7L1250.3 1147.2L1250.7 1147.0L1250.8 1147.6L1251.1 1148.7L1251.5 1151.0L1251.9 1151.2L1252.0 1151.8L1252.3 1150.7L1252.7 1149.2L1253.0 1148.6L1253.1 1148.7L1253.5 1148.8L1253.9 1148.2L1254.3 1148.3L1254.7 1148.9L1255.1 1147.7L1255.5 1147.9L1255.9 1149.0L1256.3 1136.4L1256.7 1124.8L1257.1 1148.6L1257.5 1124.9L1257.9 1148.5L1258.3 1149.1L1258.7 1149.0L1259.1 1149.1L1259.5 1150.0L1259.9 1149.7L1260.3 1149.9L1260.7 1150.2L1261.1 1149.4L1261.5 1138.5L1261.7 1150.6L1261.9 1138.0L1262.3 1126.8L1262.7 1150.8L1263.1 1127.1L1263.5 1127.4L1263.9 1151.2L1264.3 1151.6L1264.7 1150.7L1265.1 1152.0L1265.5 1151.4L1265.9 1151.8L1266.3 1152.8L1266.7 1151.7L1267.1 1152.5L1267.5 1151.9L1267.9 1151.8L1268.3 1151.2L1268.7 1150.9L1269.1 1151.4L1269.5 1151.5L1269.9 1151.4L1270.0 1152.0L1270.3 1151.5L1270.7 1128.9L1271.1 1151.5L1271.5 1151.1L1271.9 1151.4L1272.3 1151.8L1272.7 1151.9L1273.1 1152.0L1273.5 1151.8L1273.9 1150.8L1274.3 1153.1L1274.7 1151.4L1275.1 1151.7L1275.5 1152.4L1275.9 1152.5L1276.3 1151.9L1276.7 1151.5L1277.1 1150.9L1277.5 1151.9L1277.9 1143.1L1278.3 1152.5L1278.7 1152.4L1279.1 1152.8L1279.5 1152.6L1279.9 1151.6L1280.3 1153.2L1280.7 1152.8L1281.1 1152.6L1281.5 1152.6L1281.9 1153.8L1282.3 1152.7L1282.7 1152.7L1283.1 1152.5L1283.5 1146.8L1283.9 1153.1L1284.3 1153.9L1284.7 1152.8L1285.1 1152.6L1285.5 1152.5L1285.9 1153.3L1286.3 1153.1L1286.7 1153.7L1287.1 1153.8L1287.5 1153.6L1287.9 1153.7L1288.3 1154.4L1288.7 1153.7L1289.1 1154.9L1289.5 1154.7L1289.9 1154.6L1290.3 1154.2L1290.7 1154.2L1291.1 1155.0L1291.5 1154.9L1291.7 1155.5L1291.9 1158.0L1292.0 1142.8L1292.3 1157.3L1292.6 1154.9L1292.7 1155.4L1293.1 1155.1L1293.5 1155.1L1293.9 1156.1L1294.3 1156.4L1294.7 1156.0L1295.1 1155.9L1295.5 1155.6L1295.9 1156.0L1296.3 1155.8L1296.7 1155.9L1297.1 1155.7L1297.5 1155.4L1297.9 1156.4L1298.3 1156.1L1298.7 1156.3L1299.1 1155.9L1299.5 1158.3L1299.9 1157.4L1300.3 1157.4L1300.7 1156.4L1301.1 1156.5L1301.5 1157.4L1301.9 1131.5L1302.3 1156.5L1302.7 1157.2L1303.1 1157.3L1303.3 1157.4L1303.5 1156.4L1303.9 1156.3L1304.3 1156.5L1304.7 1156.0L1305.1 1156.9L1305.5 1157.3L1305.9 1158.6L1306.3 1156.5L1306.7 1157.7L1307.1 1158.2L1307.5 1157.8L1307.9 1157.1L1308.3 1148.9L1308.7 1158.7L1309.1 1148.4L1309.2 1161.0L1309.5 1148.1L1309.9 1159.8L1310.3 1143.9L1310.5 1158.9L1310.7 1143.5L1311.1 1160.5L1311.5 1144.0L1311.7 1161.9L1311.9 1143.9L1312.3 1160.4L1312.7 1143.8L1313.1 1159.9L1313.5 1158.6L1313.9 1155.7L1314.2 1154.3L1314.3 1154.8L1314.7 1154.9L1315.1 1153.9L1315.5 1153.8L1315.9 1153.7L1316.3 1154.6L1316.7 1155.4L1317.1 1154.3L1317.5 1154.2L1317.9 1141.4L1318.3 1153.7L1318.7 1153.9L1319.0 1155.1L1319.1 1155.0L1319.5 1155.2L1319.9 1155.6L1320.0 1155.4L1320.3 1156.9L1320.7 1157.4L1321.1 1157.8L1321.5 1159.1L1321.9 1147.1L1322.3 1160.8L1322.7 1131.9L1323.0 1163.3L1323.1 1131.8L1323.5 1160.3L1323.9 1132.4L1324.0 1157.7L1324.3 1132.6L1324.7 1132.8L1325.1 1151.4L1325.5 1151.1L1325.9 1161.5L1326.3 1161.5L1326.7 1163.3L1327.1 1163.6L1327.5 1164.3L1327.9 1160.4L1328.3 1161.5L1328.7 1159.5L1329.1 1160.8L1329.5 1144.0L1329.9 1137.7L1330.3 1159.2L1330.7 1138.7L1331.1 1158.7L1331.5 1138.8L1331.9 1137.7L1332.3 1143.6L1332.7 1159.3L1333.0 1143.7L1333.1 1158.3L1333.5 1144.5L1333.9 1158.5L1334.3 1143.6L1334.7 1158.9L1335.1 1143.9L1335.5 1159.4L1335.9 1143.7L1336.3 1159.5L1336.7 1144.4L1337.1 1158.4L1337.5 1160.3L1337.9 1159.3L1338.3 1157.2L1338.7 1156.4L1339.1 1156.7L1339.2 1156.2L1339.5 1156.3L1339.9 1155.8L1340.3 1155.7L1340.7 1155.3L1341.1 1155.3L1341.5 1155.6L1341.9 1156.2L1342.3 1156.1L1342.7 1143.8L1343.1 1155.5L1343.5 1155.8L1343.9 1155.7L1344.3 1156.4L1344.7 1155.1L1345.1 1155.2L1345.5 1155.2L1345.9 1155.0L1346.3 1131.1L1346.7 1131.3L1347.1 1155.0L1347.5 1155.3L1347.9 1155.4L1348.3 1155.1L1348.7 1155.2L1349.1 1155.2L1349.5 1155.3L1349.9 1156.4L1350.3 1146.2L1350.7 1146.1L1351.1 1156.3L1351.5 1155.2L1351.9 1157.4L1352.3 1156.6L1352.7 1156.2L1353.1 1157.2L1353.3 1156.5L1353.5 1158.3L1353.8 1160.1L1353.9 1158.9L1354.3 1146.7L1354.7 1146.3L1355.1 1149.0L1355.5 1157.0L1355.9 1148.8L1356.3 1158.2L1356.7 1149.7L1357.1 1156.5L1357.5 1149.3L1357.9 1157.3L1358.3 1157.2L1358.7 1157.4L1359.1 1157.5L1359.5 1156.9L1359.9 1156.9L1360.0 1157.5L1360.3 1158.2L1360.7 1158.4L1361.1 1158.6L1361.5 1158.6L1361.9 1159.3L1362.3 1160.0L1362.7 1161.2L1363.1 1160.0L1363.5 1161.0L1363.9 1161.7L1364.2 1162.6L1364.3 1162.3L1364.7 1148.2L1365.1 1147.9L1365.5 1131.8L1365.9 1158.6L1366.3 1131.9L1366.7 1132.1L1367.1 1156.0L1367.5 1157.5L1367.9 1156.3L1368.3 1157.7L1368.7 1157.7L1369.1 1157.3L1369.5 1157.9L1369.9 1158.3L1370.3 1158.5L1370.7 1159.2L1371.1 1159.4L1371.5 1146.4L1371.9 1160.3L1372.3 1161.6L1372.5 1161.3L1372.7 1160.6L1373.1 1161.5L1373.5 1161.0L1373.9 1161.6L1374.3 1161.7L1374.7 1161.3L1375.1 1161.8L1375.5 1161.7L1375.9 1161.9L1376.3 1162.4L1376.7 1163.0L1377.1 1163.9L1377.5 1164.6L1377.9 1148.3L1378.3 1164.6L1378.7 1165.0L1379.1 1163.9L1379.5 1164.6L1379.9 1164.4L1380.0 1165.2L1380.3 1165.8L1380.7 1166.2L1381.1 1139.8L1381.5 1165.5L1381.9 1166.1L1382.3 1166.0L1382.7 1167.1L1383.1 1167.0L1383.5 1166.9L1383.9 1153.0L1384.3 1166.2L1384.7 1167.0L1385.0 1167.0L1385.1 1166.9L1385.5 1167.6L1385.9 1167.6L1386.3 1167.4L1386.7 1166.8L1387.1 1166.7L1387.5 1142.1L1387.9 1166.9L1388.3 1166.8L1388.7 1166.6L1389.1 1166.5L1389.5 1166.5L1389.9 1166.2L1390.3 1166.3L1390.7 1166.3L1390.8 1166.6L1391.1 1166.5L1391.5 1165.4L1391.9 1166.0L1392.2 1164.9L1392.3 1163.5L1392.7 1157.1L1392.9 1153.3L1393.1 1144.8L1393.5 1162.5L1393.7 1164.7L1393.9 1166.0L1394.3 1165.8L1394.6 1166.4L1394.7 1165.2L1395.1 1165.9L1395.5 1166.9L1395.9 1167.2L1396.3 1166.8L1396.7 1167.7L1397.1 1168.3L1397.5 1142.6L1397.9 1168.5L1398.3 1142.2L1398.7 1170.0L1399.1 1142.6L1399.5 1144.3L1399.9 1170.4L1400.0 1144.6L1400.3 1143.6L1400.7 1170.9L1401.1 1171.0L1401.5 1171.0L1401.9 1170.4L1402.3 1171.5L1402.7 1172.3L1403.1 1171.5L1403.5 1171.7L1403.9 1156.1L1404.2 1172.2L1404.3 1171.7L1404.7 1170.9L1405.0 1168.9L1405.1 1169.8L1405.5 1168.1L1405.9 1168.2L1406.3 1168.1L1406.7 1168.2L1407.1 1168.3L1407.5 1167.3L1407.9 1168.1L1408.3 1168.9L1408.7 1163.2L1409.1 1168.0L1409.5 1167.5L1409.9 1168.0L1410.3 1167.2L1410.7 1167.7L1411.1 1167.3L1411.5 1167.0L1411.9 1166.9L1412.3 1167.0L1412.7 1143.2L1413.1 1167.7L1413.3 1167.5L1413.5 1167.3L1413.9 1166.9L1414.3 1166.5L1414.7 1165.9L1415.1 1165.1L1415.5 1165.4L1415.9 1165.3L1416.3 1165.0L1416.7 1165.3L1417.1 1164.2L1417.5 1164.6L1417.9 1164.2L1418.3 1163.7L1418.7 1164.2L1419.1 1163.2L1419.2 1163.7L1419.5 1141.9L1419.9 1169.1L1420.0 1142.0L1420.3 1171.6L1420.7 1141.9L1421.1 1143.7L1421.5 1170.6L1421.9 1144.2L1422.3 1171.6L1422.7 1143.6L1423.1 1171.8L1423.5 1143.5L1423.9 1172.1L1424.3 1144.0L1424.7 1145.6L1424.8 1171.6L1425.1 1145.5L1425.4 1162.6L1425.5 1145.6L1425.8 1172.6L1425.9 1146.2L1426.3 1172.3L1426.7 1145.4L1427.1 1172.5L1427.5 1146.0L1427.9 1173.1L1428.3 1146.2L1428.7 1172.5L1429.1 1149.6L1429.5 1171.8L1429.9 1149.2L1430.0 1145.2L1430.3 1172.3L1430.7 1145.4L1431.1 1172.1L1431.5 1145.7L1431.9 1171.6L1432.3 1171.7L1432.7 1171.4L1433.1 1171.4L1433.5 1171.7L1433.9 1171.5L1434.3 1170.8L1434.7 1171.4L1435.1 1171.7L1435.5 1145.7L1435.9 1171.2L1436.3 1170.9L1436.7 1171.2L1437.1 1170.9L1437.5 1170.5L1437.9 1170.8L1438.3 1170.4L1438.7 1170.0L1439.1 1169.3L1439.5 1168.7L1439.9 1169.2L1440.3 1169.4L1440.7 1169.7L1441.1 1170.0L1441.5 1168.8L1441.7 1168.8L1441.9 1168.7L1442.3 1166.5L1442.7 1167.0L1443.1 1166.1L1443.5 1166.2L1443.9 1165.1L1444.3 1164.8L1444.7 1164.1L1445.0 1164.7L1445.1 1162.6L1445.5 1161.7L1445.9 1160.3L1446.3 1159.2L1446.7 1157.7L1446.9 1141.9L1447.1 1160.5L1447.5 1164.2L1447.9 1168.7L1448.3 1168.8L1448.7 1168.2L1449.1 1167.9L1449.5 1168.7L1449.9 1167.8L1450.3 1156.6L1450.7 1168.0L1451.1 1168.2L1451.5 1142.1L1451.9 1167.9L1452.3 1141.5L1452.7 1167.8L1453.1 1142.0L1453.5 1168.6L1453.9 1141.9L1454.3 1142.2L1454.7 1166.5L1455.0 1141.7L1455.1 1167.4L1455.5 1142.4L1455.9 1168.3L1456.3 1141.8L1456.7 1141.9L1457.1 1169.1L1457.5 1169.9L1457.9 1170.4L1458.3 1170.6L1458.7 1170.9L1459.1 1170.8L1459.2 1170.6L1459.5 1171.0L1459.9 1170.9L1460.3 1170.2L1460.7 1169.4L1461.1 1168.9L1461.5 1168.0L1461.9 1141.0L1462.3 1167.8L1462.7 1141.8L1463.1 1167.0L1463.3 1141.5L1463.5 1139.0L1463.9 1160.9L1464.2 1138.3L1464.3 1159.5L1464.7 1138.0L1465.1 1161.1L1465.5 1155.9L1465.9 1162.0L1466.3 1155.4L1466.7 1164.6L1467.1 1164.0L1467.5 1164.6L1467.9 1165.1L1468.3 1164.0L1468.7 1166.0L1469.1 1165.8L1469.5 1166.4L1469.9 1166.7L1470.0 1167.1L1470.3 1167.1L1470.7 1167.0L1471.1 1167.1L1471.5 1167.7L1471.9 1167.3L1472.3 1167.5L1472.7 1167.6L1473.1 1167.1L1473.5 1143.7L1473.9 1144.2L1474.3 1141.9L1474.7 1167.2L1475.1 1166.8L1475.5 1166.8L1475.9 1165.9L1476.3 1166.7L1476.7 1168.4L1477.1 1166.7L1477.5 1167.4L1477.9 1164.6L1478.3 1162.1L1478.7 1150.1L1478.8 1159.8L1479.1 1150.7L1479.5 1150.6L1479.8 1166.8L1479.9 1167.7L1480.3 1143.9L1480.7 1168.8L1481.1 1170.3L1481.2 1170.6L1481.5 1169.5L1481.9 1169.4L1482.3 1169.7L1482.7 1170.2L1483.1 1169.0L1483.5 1168.0L1483.9 1168.3L1484.3 1168.3L1484.5 1167.5L1484.7 1166.8L1485.1 1164.0L1485.4 1162.0L1485.5 1162.8L1485.9 1165.4L1486.3 1143.6L1486.7 1167.9L1487.1 1142.7L1487.5 1142.8L1487.9 1168.3L1488.3 1168.9L1488.7 1168.8L1489.1 1169.2L1489.5 1168.6L1489.9 1168.5L1490.3 1168.7L1490.7 1167.3L1491.1 1169.2L1491.5 1168.6L1491.9 1168.5L1492.3 1169.2L1492.7 1168.1L1493.1 1169.4L1493.5 1169.5L1493.9 1169.5L1494.3 1169.5L1494.7 1168.8L1495.1 1168.7L1495.5 1169.1L1495.9 1169.3L1496.3 1169.1L1496.7 1169.4L1497.1 1170.2L1497.5 1170.7L1497.9 1171.6L1498.3 1172.3L1498.7 1171.2L1499.1 1170.0L1499.5 1169.8L1499.9 1168.9L1500.0 1168.1L1500.3 1167.8L1500.7 1168.0L1501.1 1166.6L1501.5 1166.0L1501.9 1166.2L1502.3 1165.6L1502.7 1164.5L1503.1 1164.8L1503.5 1164.2L1503.9 1164.5L1504.3 1163.0L1504.6 1162.9L1504.7 1163.0L1505.1 1164.6L1505.5 1165.0L1505.9 1166.3L1506.3 1167.1L1506.7 1168.4L1507.1 1168.1L1507.5 1167.7L1507.9 1167.8L1508.3 1168.3L1508.7 1169.4L1509.1 1168.4L1509.5 1168.0L1509.9 1167.9L1510.3 1143.4L1510.7 1167.8L1511.1 1169.5L1511.5 1168.6L1511.9 1168.9L1512.3 1167.7L1512.7 1168.5L1513.1 1168.4L1513.3 1169.0L1513.5 1168.0L1513.9 1165.6L1514.2 1163.5L1514.3 1167.8L1514.4 1172.0L1514.7 1142.7L1515.1 1169.9L1515.5 1142.6L1515.9 1168.6L1516.3 1141.8L1516.7 1169.0L1517.1 1142.4L1517.5 1168.0L1517.9 1168.5L1518.3 1167.7L1518.7 1168.2L1519.1 1168.3L1519.5 1170.0L1519.9 1168.5L1520.3 1168.5L1520.7 1168.2L1521.1 1167.8L1521.5 1158.3L1521.7 1169.3L1521.9 1168.8L1522.3 1167.6L1522.7 1167.0L1523.1 1166.6L1523.5 1166.0L1523.9 1166.6L1524.3 1165.1L1524.7 1164.4L1525.1 1164.5L1525.4 1163.8L1525.5 1140.9L1525.9 1163.8L1526.3 1164.4L1526.7 1164.3L1527.1 1164.2L1527.5 1166.2L1527.9 1164.5L1528.3 1164.6L1528.7 1165.3L1529.1 1165.8L1529.5 1166.3L1529.9 1165.7L1530.0 1165.4L1530.3 1165.8L1530.7 1165.2L1531.1 1165.8L1531.5 1165.6L1531.9 1165.1L1532.3 1138.6L1532.7 1164.9L1533.1 1164.9L1533.5 1164.5L1533.9 1164.2L1534.2 1163.8L1534.3 1163.9L1534.7 1163.7L1535.1 1163.5L1535.5 1162.1L1535.9 1162.7L1536.3 1137.8L1536.7 1163.4L1537.1 1138.5L1537.5 1163.1L1537.9 1137.8L1538.3 1163.4L1538.7 1138.8L1539.0 1162.6L1539.1 1137.8L1539.5 1159.6L1539.6 1138.2L1539.9 1160.8L1540.3 1162.9L1540.7 1163.0L1541.1 1163.6L1541.5 1163.5L1541.9 1163.3L1542.3 1163.9L1542.7 1163.7L1543.1 1163.1L1543.5 1163.5L1543.9 1163.8L1544.3 1164.1L1544.7 1163.7L1545.1 1163.6L1545.5 1163.8L1545.9 1164.0L1546.2 1164.4L1546.3 1164.9L1546.7 1163.5L1547.1 1163.5L1547.5 1163.2L1547.9 1163.4L1548.3 1163.1L1548.7 1162.2L1549.1 1162.0L1549.5 1161.6L1549.9 1160.8L1550.3 1160.5L1550.7 1160.2L1551.1 1160.3L1551.5 1159.8L1551.9 1159.6L1552.3 1160.9L1552.7 1158.8L1553.1 1157.9L1553.3 1158.1L1553.5 1158.1L1553.9 1157.6L1554.3 1158.0L1554.7 1158.5L1555.1 1158.1L1555.5 1158.5L1555.9 1157.4L1556.3 1156.6L1556.7 1157.8L1557.1 1159.6L1557.5 1158.2L1557.9 1156.9L1558.3 1157.0L1558.7 1156.4L1559.1 1156.4L1559.5 1156.2L1559.9 1156.9L1560.3 1156.0L1560.7 1156.6L1560.8 1156.6L1561.1 1157.1L1561.5 1157.9L1561.9 1157.5L1562.3 1158.3L1562.7 1158.8L1563.1 1159.3L1563.5 1159.2L1563.8 1159.5L1563.9 1157.8L1564.3 1131.5L1564.6 1150.5L1564.7 1131.6L1565.1 1155.1L1565.4 1131.1L1565.5 1155.1L1565.9 1131.4L1566.3 1155.3L1566.7 1130.9L1567.1 1156.9L1567.5 1131.7L1567.9 1131.8L1568.3 1135.4L1568.7 1158.2L1569.1 1134.9L1569.5 1159.2L1569.9 1134.6L1570.3 1134.6L1570.7 1159.6L1571.1 1160.8L1571.5 1159.4L1571.9 1160.6L1572.3 1160.9L1572.7 1161.5L1573.1 1162.5L1573.3 1162.6L1573.5 1161.4L1573.9 1162.0L1574.3 1162.1L1574.7 1162.2L1575.1 1161.7L1575.5 1162.8L1575.9 1163.1L1576.3 1163.3L1576.7 1165.0L1577.1 1163.0L1577.5 1163.6L1577.9 1164.1L1578.3 1164.7L1578.7 1163.9L1579.1 1163.5L1579.2 1164.9L1579.5 1166.1L1579.9 1165.2L1580.3 1165.4L1580.7 1140.0L1581.1 1164.8L1581.5 1139.5L1581.9 1154.9L1582.3 1164.6L1582.7 1154.7L1583.1 1164.6L1583.5 1155.1L1583.9 1155.7L1584.3 1164.8L1584.7 1164.8L1585.1 1166.3L1585.5 1164.8L1585.9 1164.6L1586.3 1163.9L1586.7 1164.6L1587.1 1165.3L1587.5 1165.1L1587.9 1165.1L1588.3 1139.1L1588.7 1164.7L1589.1 1138.6L1589.5 1138.5L1589.9 1164.8L1590.0 1165.8L1590.3 1165.2L1590.7 1165.2L1591.1 1165.5L1591.5 1164.8L1591.9 1164.0L1592.3 1164.1L1592.7 1164.6L1593.1 1164.8L1593.5 1164.0L1593.9 1164.4L1594.3 1164.2L1594.7 1164.0L1595.1 1164.0L1595.5 1163.8L1595.9 1164.2L1596.3 1164.2L1596.7 1164.0L1597.1 1164.0L1597.5 1164.1L1597.9 1163.2L1598.3 1164.2L1598.7 1164.2L1599.1 1164.1L1599.5 1163.4L1599.9 1162.9L1600.3 1164.3L1600.7 1164.7L1601.1 1163.8L1601.5 1163.4L1601.9 1163.5L1602.3 1163.7L1602.7 1163.2L1603.1 1163.0L1603.5 1162.3L1603.9 1163.3L1604.3 1162.7L1604.7 1162.4L1605.1 1161.9L1605.5 1162.9L1605.8 1162.6L1605.9 1162.7L1606.3 1138.9L1606.7 1164.1L1607.1 1164.1L1607.5 1164.5L1607.9 1164.0L1608.3 1164.9L1608.7 1165.0L1609.1 1166.7L1609.5 1165.3L1609.9 1165.8L1610.3 1165.3L1610.7 1165.3L1611.1 1165.7L1611.5 1165.8L1611.9 1165.0L1612.3 1165.6L1612.7 1166.0L1613.1 1165.8L1613.5 1165.9L1613.9 1166.8L1614.3 1165.2L1614.7 1167.0L1615.0 1166.0L1615.1 1167.7L1615.5 1166.7L1615.9 1166.7L1616.3 1167.5L1616.7 1166.6L1617.1 1144.7L1617.5 1166.5L1617.9 1165.8L1618.3 1167.4L1618.7 1165.3L1619.1 1167.1L1619.5 1166.9L1619.9 1167.4L1620.3 1167.5L1620.7 1167.3L1621.1 1167.7L1621.5 1167.6L1621.9 1166.7L1622.3 1168.2L1622.7 1167.9L1623.1 1167.8L1623.3 1168.7L1623.5 1167.0L1623.9 1167.2L1624.3 1167.1L1624.6 1141.0L1624.7 1165.8L1625.0 1140.9L1625.1 1164.4L1625.5 1140.5L1625.6 1167.8L1625.9 1140.5L1626.3 1167.8L1626.7 1140.7L1627.1 1154.8L1627.5 1167.9L1627.9 1154.1L1628.3 1154.1L1628.7 1169.5L1629.1 1168.5L1629.5 1167.8L1629.9 1168.3L1630.3 1168.1L1630.7 1167.6L1631.1 1167.5L1631.5 1167.9L1631.9 1160.8L1632.3 1167.0L1632.7 1167.1L1633.1 1168.5L1633.5 1167.2L1633.9 1167.0L1634.2 1166.8L1634.3 1167.2L1634.7 1167.4L1635.1 1166.5L1635.5 1167.2L1635.9 1166.9L1636.3 1166.8L1636.7 1166.2L1637.1 1165.9L1637.5 1166.2L1637.9 1139.4L1638.3 1165.8L1638.7 1140.0L1639.1 1165.0L1639.5 1153.2L1639.9 1165.2L1640.0 1165.0L1640.3 1165.7L1640.7 1165.6L1641.1 1164.9L1641.5 1165.8L1641.9 1164.8L1642.3 1164.8L1642.7 1165.1L1643.1 1164.5L1643.5 1165.1L1643.9 1164.8L1644.3 1164.5L1644.4 1164.3L1644.7 1164.1L1645.0 1162.5L1645.1 1163.4L1645.5 1139.9L1645.8 1166.4L1645.9 1166.3L1646.3 1166.4L1646.7 1165.9L1647.1 1165.4L1647.5 1165.3L1647.9 1165.8L1648.3 1165.6L1648.7 1165.0L1649.1 1164.9L1649.5 1164.8L1649.9 1164.8L1650.3 1165.1L1650.7 1165.3L1651.1 1164.6L1651.5 1166.3L1651.9 1164.9L1652.3 1164.7L1652.7 1164.7L1653.1 1164.5L1653.5 1165.0L1653.9 1164.5L1654.3 1164.3L1654.7 1163.8L1655.0 1163.3L1655.1 1165.6L1655.5 1163.3L1655.9 1161.8L1656.3 1161.4L1656.7 1160.6L1657.1 1160.3L1657.5 1137.3L1657.9 1157.7L1658.3 1137.1L1658.7 1138.2L1659.1 1152.0L1659.2 1154.1L1659.5 1152.0L1659.9 1154.4L1660.3 1151.6L1660.7 1151.9L1661.1 1156.2L1661.5 1153.9L1661.7 1154.3L1661.9 1160.7L1662.0 1164.1L1662.3 1163.4L1662.7 1163.0L1663.1 1163.2L1663.5 1164.4L1663.9 1165.2L1664.3 1165.8L1664.7 1140.1L1665.0 1166.1L1665.1 1165.9L1665.5 1165.4L1665.9 1166.0L1666.3 1165.7L1666.7 1165.4L1667.1 1165.9L1667.5 1166.0L1667.9 1141.2L1668.3 1165.3L1668.7 1141.4L1669.1 1165.1L1669.5 1140.8L1669.9 1165.4L1670.0 1141.3L1670.3 1165.5L1670.7 1144.0L1671.1 1165.4L1671.5 1144.2L1671.9 1166.6L1672.3 1143.4L1672.7 1167.1L1673.1 1143.1L1673.5 1168.3L1673.9 1143.9L1674.3 1167.7L1674.7 1143.7L1675.0 1168.3L1675.1 1143.5L1675.5 1143.9L1675.9 1168.5L1676.3 1168.4L1676.7 1168.7L1677.1 1169.6L1677.5 1170.1L1677.9 1169.5L1678.3 1170.3L1678.7 1169.6L1679.1 1171.1L1679.5 1170.0L1679.9 1171.2L1680.3 1170.4L1680.7 1171.3L1681.1 1172.4L1681.5 1171.9L1681.7 1150.4L1681.9 1171.6L1682.3 1172.3L1682.7 1172.0L1683.1 1172.2L1683.5 1172.4L1683.9 1172.8L1684.3 1172.8L1684.7 1152.4L1685.1 1172.7L1685.5 1173.6L1685.9 1172.9L1686.3 1173.2L1686.7 1173.5L1687.1 1173.3L1687.5 1174.7L1687.9 1174.0L1688.3 1172.9L1688.7 1174.0L1689.1 1159.2L1689.5 1174.6L1689.9 1174.4L1690.0 1174.5L1690.3 1175.0L1690.7 1173.9L1691.1 1174.9L1691.5 1174.7L1691.8 1173.5L1691.9 1172.2L1692.3 1168.6L1692.5 1166.2L1692.7 1145.5L1693.1 1172.2L1693.2 1173.6L1693.5 1173.4L1693.9 1173.7L1694.2 1173.4L1694.3 1173.4L1694.7 1173.4L1695.1 1173.2L1695.5 1173.1L1695.9 1172.9L1696.3 1173.0L1696.7 1172.8L1696.8 1173.0L1697.1 1171.0L1697.5 1147.1L1697.9 1170.8L1698.2 1147.3L1698.3 1172.7L1698.7 1147.4L1699.1 1172.3L1699.5 1172.1L1699.9 1172.3L1700.0 1172.0L1700.3 1171.9L1700.7 1172.0L1701.1 1171.7L1701.5 1171.2L1701.9 1171.4L1702.3 1171.1L1702.7 1171.3L1702.8 1170.6L1703.1 1168.6L1703.5 1165.4L1703.8 1164.0L1703.9 1165.5L1704.3 1146.6L1704.6 1170.0L1704.7 1146.2L1705.1 1170.6L1705.5 1146.6L1705.9 1171.3L1706.3 1146.0L1706.5 1171.7L1706.7 1146.4L1707.1 1169.3L1707.5 1146.0L1707.9 1167.0L1708.0 1146.0L1708.3 1167.7L1708.7 1145.9L1709.1 1146.8L1709.5 1157.1L1709.9 1169.4L1710.3 1157.2L1710.7 1157.9L1711.1 1172.6L1711.5 1171.8L1711.9 1171.5L1712.3 1172.3L1712.5 1173.6L1712.7 1171.5L1713.1 1171.6L1713.5 1171.7L1713.8 1170.6L1713.9 1170.0L1714.3 1137.7L1714.7 1163.6L1715.1 1165.2L1715.5 1167.3L1715.8 1169.2L1715.9 1169.0L1716.3 1169.7L1716.7 1169.9L1716.9 1170.2L1717.1 1168.4L1717.5 1167.5L1717.9 1164.8L1718.0 1164.1L1718.3 1163.8L1718.7 1139.0L1718.8 1162.7L1719.1 1139.0L1719.5 1163.0L1719.9 1138.9L1720.3 1162.1L1720.7 1138.7L1721.1 1162.6L1721.2 1162.2L1721.5 1165.4L1721.9 1169.7L1722.2 1172.8L1722.3 1172.3L1722.7 1172.9L1723.1 1173.6L1723.5 1173.2L1723.9 1148.2L1724.3 1174.5L1724.7 1149.3L1725.0 1174.5L1725.1 1148.9L1725.5 1174.9L1725.9 1148.8L1726.3 1175.6L1726.7 1148.6L1727.1 1174.9L1727.5 1148.8L1727.9 1174.1L1728.0 1149.2L1728.3 1173.6L1728.7 1148.6L1729.1 1173.7L1729.5 1173.3L1729.9 1173.4L1730.3 1172.7L1730.7 1172.9L1731.1 1173.0L1731.2 1172.3L1731.5 1172.3L1731.9 1172.8L1732.3 1147.4L1732.7 1172.5L1733.1 1172.6L1733.5 1172.4L1733.9 1173.1L1734.3 1172.4L1734.7 1172.2L1735.1 1171.8L1735.5 1172.5L1735.9 1172.4L1736.3 1172.3L1736.7 1146.5L1737.1 1171.8L1737.5 1171.7L1737.9 1172.3L1738.3 1172.6L1738.7 1171.7L1739.1 1171.6L1739.5 1171.3L1739.9 1170.9L1740.3 1144.4L1740.7 1171.1L1741.1 1145.0L1741.5 1170.2L1741.9 1144.9L1742.3 1170.5L1742.7 1144.3L1743.1 1169.9L1743.5 1144.6L1743.8 1144.8L1743.9 1169.7L1744.3 1142.9L1744.7 1167.0L1745.1 1142.7L1745.5 1167.2L1745.9 1167.5L1746.2 1166.2L1746.3 1165.8L1746.7 1164.4L1747.1 1162.8L1747.3 1161.8L1747.5 1160.0L1747.9 1157.7L1748.0 1156.9L1748.3 1158.3L1748.7 1161.0L1749.0 1164.5L1749.1 1143.6L1749.5 1167.7L1749.9 1170.2L1750.0 1171.0L1750.3 1170.2L1750.7 1169.0L1751.1 1167.9L1751.2 1167.7L1751.5 1165.9L1751.9 1165.9L1752.3 1164.3L1752.5 1163.6L1752.7 1163.6L1753.1 1162.6L1753.5 1138.0L1753.9 1161.2L1754.3 1152.2L1754.7 1160.8L1755.1 1152.8L1755.5 1161.8L1755.9 1161.2L1756.2 1160.7L1756.3 1160.4L1756.7 1159.6L1757.1 1158.4L1757.5 1158.1L1757.9 1157.0L1758.3 1157.3L1758.5 1134.6L1758.7 1155.1L1759.1 1134.7L1759.5 1149.0L1759.7 1134.3L1759.9 1153.1L1760.3 1141.1L1760.7 1161.0L1761.1 1141.4L1761.5 1158.5L1761.9 1141.0L1762.3 1149.9L1762.5 1153.8L1762.7 1150.2L1763.1 1150.6L1763.5 1160.7L1763.8 1162.5L1763.9 1161.9L1764.3 1161.7L1764.7 1160.4L1765.1 1159.5L1765.5 1159.1L1765.9 1158.1L1766.3 1132.8L1766.7 1155.8L1766.9 1155.2L1767.1 1161.1L1767.2 1162.6L1767.5 1162.7L1767.9 1160.3L1768.3 1158.3L1768.7 1156.9L1768.8 1155.4L1769.1 1157.0L1769.5 1157.1L1769.9 1159.4L1770.0 1158.5L1770.3 1154.7L1770.6 1149.4L1770.7 1150.1L1771.1 1148.9L1771.5 1147.0L1771.9 1146.7L1772.3 1146.0L1772.7 1144.8L1773.1 1143.9L1773.5 1142.5L1773.8 1141.9L1773.9 1141.4L1774.3 1118.7L1774.7 1139.2L1775.1 1137.9L1775.5 1137.2L1775.9 1136.5L1776.3 1135.3L1776.7 1134.2L1777.1 1133.2L1777.5 1132.3L1777.9 1130.3L1778.3 1115.6L1778.7 1128.2L1779.1 1126.7L1779.5 1125.2L1779.9 1123.7L1780.3 1122.6L1780.6 1121.4L1780.7 1120.6L1781.1 1119.0L1781.5 1116.7L1781.9 1114.7L1782.3 1112.6L1782.7 1090.0L1783.0 1109.1L1783.1 1109.0L1783.5 1106.7L1783.9 1105.2L1784.3 1103.1L1784.7 1101.3L1785.0 1099.6L1785.1 1099.1L1785.5 1096.8L1785.9 1094.6L1786.3 1092.6L1786.7 1090.6L1787.1 1089.0L1787.5 1086.7L1787.9 1062.5L1788.3 1081.9L1788.7 1079.2L1789.1 1076.5L1789.5 1073.8L1789.6 1073.2L1789.9 1071.2L1790.3 1068.6L1790.7 1065.9L1791.1 1062.7L1791.5 1059.7L1791.7 1058.3L1791.9 1029.0L1792.3 1051.9L1792.7 1046.8L1793.1 1042.2L1793.3 1040.0L1793.5 1037.6L1793.9 1032.5L1794.3 1027.2L1794.7 1022.1L1794.8 1020.7L1795.1 1018.2L1795.5 985.0L1795.9 1009.9L1796.3 1006.2L1796.7 1002.0L1796.9 1000.0L1797.1 994.8L1797.5 984.3L1797.9 973.8L1798.3 963.3L1798.7 953.1L1799.1 942.8L1799.5 932.1L1799.9 921.5L1800.0 918.9L1800.3 900.0L1800.7 908.3L1801.1 902.4L1801.5 896.5L1801.9 890.8L1802.3 884.8L1802.7 878.8L1803.1 872.7L1803.5 866.8L1803.9 861.0L1804.2 856.5L1804.3 853.8L1804.7 843.9L1805.1 834.0L1805.5 823.8L1805.9 813.8L1806.3 803.9L1806.7 794.0L1807.1 783.7L1807.5 773.9L1807.9 763.9L1808.3 754.0L1808.7 744.0L1809.1 722.0L1809.2 731.6L1809.5 725.9L1809.9 718.8L1810.3 711.6L1810.7 704.4L1811.1 697.0L1811.5 689.8L1811.9 682.1L1812.3 675.0L1812.7 667.9L1813.1 660.7L1813.5 653.6L1813.9 646.4L1814.3 639.1L1814.7 631.7L1815.1 613.0L1815.4 618.7L1815.5 617.1L1815.9 608.2L1816.3 599.6L1816.7 590.7L1817.1 582.4L1817.5 573.5L1817.9 565.3L1818.3 556.4L1818.7 547.8L1819.1 539.2L1819.5 530.6L1819.9 521.9L1820.3 513.2L1820.7 504.8L1821.1 496.3L1821.5 487.2L1821.9 478.9L1822.3 470.3L1822.7 461.5L1823.1 452.7L1823.5 444.7L1823.7 439.6L1823.9 436.1L1824.3 428.1L1824.7 420.3L1825.1 412.4L1825.5 404.5L1825.9 396.6L1826.3 388.6L1826.7 367.0L1827.0 374.8L1827.1 372.0L1827.5 360.5L1827.9 348.8L1828.3 337.3L1828.7 324.9L1829.1 313.6L1829.5 301.9L1829.6 298.5L1829.9 281.3L1830.3 258.4L1830.7 235.3L1830.9 223.5L1831.1 215.8L1831.5 200.9L1831.7 193.6L1831.9 186.9L1832.3 172.9L1832.7 169.8L1833.1 166.6L1833.5 163.0L1833.9 160.6L1834.3 158.1L1834.7 157.5L1835.1 156.0L1835.4 152.9L1835.5 154.7L1835.9 150.8L1836.3 147.8L1836.7 147.8L1837.1 145.5L1837.5 142.3L1837.9 143.1L1838.3 142.4L1838.7 143.3L1839.1 140.6L1839.5 142.6L1839.6 141.0L1839.9 139.8L1840.1 138.6L1840.3 136.2L1840.7 135.3L1841.1 133.9L1841.5 131.9L1841.9 132.6L1842.3 130.0L1842.7 128.0L1843.1 128.6L1843.5 128.3L1843.9 127.3L1844.3 126.2L1844.7 127.3L1845.1 126.1L1845.5 124.9L1845.8 126.0L1845.9 125.0L1846.3 121.1L1846.7 118.9L1846.9 117.4L1847.1 117.5L1847.5 117.1L1847.9 115.9L1848.3 114.1L1848.7 116.0L1849.0 114.1L1849.1 114.1L1849.5 113.5L1849.9 113.4L1850.3 115.3L1850.7 165.5L1850.8 177.6L1851.1 227.4L1851.3 261.0L1851.5 256.8L1851.9 250.4L1852.2 248.6L1852.3 246.9L1852.7 244.9L1853.1 242.9L1853.5 241.1L1853.9 239.7L1854.3 238.1L1854.7 239.2L1855.0 235.3L1855.1 234.6L1855.5 234.9L1855.9 231.2L1856.3 230.1L1856.7 227.0L1857.0 226.3L1857.1 224.9L1857.5 222.7L1857.9 221.9L1858.3 218.0L1858.7 216.9L1859.0 216.8L1859.1 213.8L1859.5 213.0L1859.9 212.2L1860.3 208.4L1860.7 206.3L1861.0 205.2L1861.1 203.6L1861.5 202.7L1861.9 200.7L1862.3 197.8L1862.5 196.8L1862.7 196.4L1863.1 193.9L1863.5 192.0"/>
<path stroke="#000000" stroke-width="2.1" d="M319.5 260.5L319.9 261.5L320.3 263.1L320.7 264.4L321.1 266.4L321.5 268.0L321.9 270.3L322.3 271.4L322.7 273.9L323.1 274.8L323.5 276.4L323.9 278.2L324.3 279.8L324.7 281.7L325.0 282.8L325.1 283.0L325.5 284.8L325.9 286.6L326.3 288.1L326.7 289.7L327.1 291.6L327.5 293.1L327.9 294.6L328.3 296.1L328.7 297.8L329.1 299.4L329.5 301.3L329.9 302.7L330.3 304.3L330.7 305.8L331.1 307.4L331.2 307.4L331.5 309.4L331.9 311.2L332.3 313.5L332.7 316.0L333.1 317.2L333.5 319.4L333.9 320.7L334.3 322.5L334.7 324.7L335.1 326.7L335.5 328.4L335.9 330.4L336.0 331.3L336.3 332.4L336.7 334.3L337.1 335.9L337.5 337.9L337.9 340.3L338.3 341.9L338.7 343.4L339.1 345.7L339.5 346.9L339.9 348.4L340.3 350.6L340.7 352.3L341.1 351.3L341.5 350.1L341.9 349.5L342.0 349.8L342.3 349.6L342.7 349.2L343.1 348.8L343.5 348.8L343.9 348.5L344.3 348.0L344.7 347.7L345.0 348.3L345.1 347.1L345.5 347.3L345.9 346.8L346.3 347.0L346.7 346.3L347.1 346.5L347.5 346.1L347.9 346.0L348.3 345.8L348.7 346.0L349.1 345.7L349.5 345.8L349.8 345.5L349.9 332.8L350.3 281.5L350.4 268.4L350.7 272.0L351.1 277.8L351.3 279.7L351.5 279.3L351.9 276.8L352.3 274.2L352.7 277.3L353.1 280.7L353.4 282.9L353.5 282.7L353.9 280.7L354.3 279.2L354.6 277.8L354.7 278.6L355.1 281.3L355.5 284.7L355.8 286.4L355.9 288.2L356.3 296.6L356.7 304.4L357.1 312.2L357.5 319.9L357.9 327.6L358.0 330.1L358.3 336.1L358.7 344.8L359.1 353.1L359.5 361.9L359.9 370.2L360.3 378.8L360.7 387.3L361.1 396.2L361.2 398.5L361.5 402.4L361.9 407.6L362.3 413.1L362.7 417.7L363.1 422.7L363.5 428.6L363.9 433.5L364.3 439.3L364.7 444.7L365.1 449.9L365.5 455.0L365.9 462.9L366.3 470.9L366.7 478.9L367.1 486.5L367.5 494.9L367.9 499.1L368.3 503.0L368.7 507.0L369.1 510.9L369.5 515.2L369.9 518.8L370.3 522.9L370.5 524.8L370.7 526.3L371.1 530.2L371.4 533.5L371.5 532.5L371.9 530.0L372.3 528.0L372.6 526.3L372.7 527.7L373.1 534.6L373.2 536.4L373.5 539.4L373.9 543.9L374.3 548.5L374.7 553.3L375.1 558.2L375.5 562.6L375.9 567.1L376.3 571.8L376.7 576.0L377.1 580.7L377.5 585.4L377.9 587.6L378.3 589.9L378.7 592.7L379.1 594.1L379.5 597.2L379.9 599.6L380.3 602.2L380.7 604.7L381.1 606.5L381.2 607.5L381.5 609.6L381.9 612.6L382.3 615.2L382.7 618.6L383.1 621.5L383.5 624.7L383.9 627.0L384.3 629.7L384.7 633.4L385.0 634.8L385.1 635.7L385.5 639.7L385.9 643.1L386.3 646.5L386.7 650.0L387.1 653.5L387.5 657.3L387.9 661.0L388.3 664.5L388.7 668.0L389.1 671.2L389.5 675.6L389.9 677.5L390.3 679.8L390.7 683.2L391.1 685.6L391.5 688.1L391.9 691.4L392.3 692.8L392.7 696.4L393.1 698.6L393.5 701.1L393.9 703.5L394.3 706.2L394.5 707.1L394.7 707.5L395.1 707.2L395.5 706.8L395.9 707.8L396.0 706.1L396.3 708.5L396.7 711.5L397.1 711.1L397.5 712.8L397.9 713.0L398.3 715.0L398.7 720.4L399.1 715.9L399.5 724.7L399.9 724.7L400.0 720.8L400.3 725.4L400.7 731.2L401.1 726.8L401.5 736.0L401.9 741.4L402.3 739.8L402.7 745.3L403.1 749.7L403.5 752.0L403.7 750.3L403.9 751.0L404.3 748.2L404.7 756.0L405.1 744.9L405.5 748.5L405.9 742.1L406.0 738.2L406.3 741.9L406.7 742.4L407.1 744.3L407.5 750.0L407.9 750.7L408.3 747.5L408.7 752.8L409.0 752.7L409.1 757.4L409.5 756.5L409.9 761.7L410.3 750.4L410.7 745.4L411.1 752.7L411.5 756.9L411.9 756.0L412.3 752.6L412.5 758.0L412.7 756.9L413.1 755.6L413.5 764.4L413.9 759.2L414.3 761.1L414.7 757.4L415.1 759.6L415.5 761.2L415.9 766.2L416.3 761.1L416.7 768.2L417.1 761.9L417.5 762.7L417.9 764.3L418.0 758.9L418.3 769.4L418.7 769.2L419.1 767.9L419.5 771.1L419.9 772.7L420.3 773.0L420.7 773.1L421.1 772.1L421.5 772.2L421.9 775.0L422.3 774.2L422.7 772.5L423.1 775.9L423.5 770.8L423.9 777.5L424.3 778.7L424.7 776.8L425.0 780.3L425.1 781.1L425.5 785.4L425.9 781.6L426.3 776.5L426.7 776.7L427.1 779.5L427.5 781.2L427.9 779.1L428.3 780.9L428.7 785.9L429.1 785.1L429.5 787.8L429.9 794.8L430.3 786.2L430.7 794.6L431.0 787.9L431.1 786.9L431.5 791.5L431.9 787.2L432.3 785.1L432.7 785.8L433.1 789.1L433.5 788.5L433.9 784.0L434.3 782.1L434.7 783.2L435.1 788.2L435.5 791.5L435.9 786.9L436.3 790.8L436.7 782.1L437.1 789.3L437.5 796.5L437.9 796.1L438.3 796.4L438.7 802.4L439.1 800.2L439.5 798.4L439.9 800.2L440.3 799.9L440.7 802.6L441.1 801.8L441.5 798.6L441.9 809.8L442.3 806.6L442.7 794.3L443.1 801.6L443.5 804.0L443.7 810.3L443.9 801.5L444.3 809.2L444.7 794.5L445.1 804.4L445.5 803.5L445.9 799.3L446.0 802.5L446.3 797.8L446.7 793.7L447.1 787.3L447.5 787.2L447.9 783.9L448.3 786.3L448.7 783.4L449.1 791.5L449.5 790.3L449.9 793.7L450.0 791.2L450.3 791.3L450.7 792.6L451.1 794.9L451.5 796.2L451.9 793.4L452.3 800.1L452.7 800.4L453.1 802.5L453.5 806.8L453.9 807.3L454.3 810.4L454.7 814.9L455.0 816.7L455.1 809.0L455.5 809.9L455.9 813.1L456.3 819.0L456.7 819.9L457.1 821.1L457.5 819.6L457.9 809.6L458.3 815.7L458.5 819.5L458.7 823.4L459.1 819.2L459.5 818.7L459.9 817.6L460.3 822.3L460.7 819.5L461.1 817.0L461.5 820.4L461.9 824.6L462.3 827.0L462.7 825.5L463.0 828.5L463.1 817.8L463.5 822.6L463.9 825.2L464.3 819.9L464.7 824.0L465.1 827.9L465.5 825.6L465.9 821.8L466.3 826.2L466.7 832.9L467.1 823.6L467.5 824.8L467.9 823.4L468.3 825.8L468.7 824.2L469.1 833.0L469.5 834.1L469.9 821.9L470.0 827.0L470.3 821.8L470.7 825.4L471.1 823.5L471.5 819.0L471.9 823.4L472.3 824.0L472.7 823.5L473.1 826.2L473.5 822.6L473.9 823.7L474.3 822.8L474.6 827.7L474.7 827.7L475.1 826.6L475.5 828.4L475.9 826.5L476.0 828.0L476.3 829.1L476.7 833.5L477.1 834.3L477.5 836.5L477.9 843.5L478.3 840.3L478.7 844.8L479.1 846.8L479.5 844.2L479.9 842.2L480.3 846.0L480.4 847.7L480.7 845.6L481.1 845.7L481.5 845.7L481.9 846.1L482.3 842.7L482.7 843.6L483.1 843.6L483.5 852.4L483.9 847.1L484.3 848.9L484.7 847.5L485.1 845.7L485.5 852.5L485.9 845.9L486.3 849.9L486.7 850.2L487.1 849.7L487.5 852.9L487.9 854.9L488.3 857.0L488.7 856.5L489.1 861.3L489.5 863.8L489.9 866.4L490.3 864.2L490.7 869.3L491.1 869.8L491.5 859.3L491.9 861.2L492.3 866.0L492.7 864.3L493.1 864.0L493.5 869.4L493.9 872.6L494.3 868.5L494.7 873.1L495.0 875.8L495.1 874.6L495.5 876.0L495.9 876.1L496.3 873.4L496.7 878.3L497.1 882.1L497.5 880.7L497.9 881.4L498.3 885.0L498.7 885.8L499.1 884.2L499.5 883.4L499.9 885.0L500.0 888.1L500.3 886.9L500.7 888.2L501.1 887.3L501.5 886.5L501.9 880.9L502.0 881.2L502.3 885.7L502.7 883.2L503.1 881.1L503.5 880.6L503.9 880.9L504.3 880.8L504.7 878.9L505.0 880.1L505.1 880.5L505.5 878.9L505.9 878.2L506.3 876.4L506.7 877.5L507.1 882.4L507.5 878.0L507.9 877.6L508.3 878.1L508.7 877.6L509.1 876.0L509.5 882.2L509.9 881.5L510.3 874.3L510.7 873.9L511.0 877.7L511.1 875.3L511.5 879.0L511.9 877.3L512.3 879.3L512.7 873.4L513.1 874.4L513.5 874.2L513.9 874.9L514.3 875.5L514.7 876.3L515.1 872.0L515.5 871.6L515.9 870.1L516.3 870.3L516.7 874.5L517.1 873.0L517.5 869.4L517.9 874.9L518.0 873.2L518.3 871.5L518.7 873.2L519.1 872.5L519.5 873.0L519.9 876.8L520.3 877.8L520.7 876.6L521.1 878.7L521.5 875.2L521.9 874.9L522.3 880.2L522.7 878.5L523.1 876.7L523.5 874.6L523.9 872.1L524.3 870.9L524.7 868.0L525.0 871.3L525.1 870.5L525.5 872.0L525.9 868.0L526.3 872.3L526.7 870.6L527.1 867.1L527.5 868.7L527.9 868.8L528.3 868.9L528.7 870.6L529.1 875.1L529.5 869.4L529.9 859.5L530.2 853.8L530.3 850.6L530.7 848.1L530.8 853.4L531.1 848.5L531.5 852.6L531.9 852.6L532.0 854.4L532.3 860.3L532.7 856.8L533.1 861.4L533.5 867.1L533.7 861.2L533.9 856.4L534.3 854.0L534.7 845.1L534.8 847.8L535.1 850.2L535.5 840.7L535.9 835.5L536.3 843.9L536.6 845.5L536.7 857.6L537.1 867.3L537.4 875.5L537.5 873.8L537.9 869.9L538.2 868.7L538.3 869.9L538.7 868.1L539.1 870.5L539.5 871.6L539.9 870.9L540.3 870.4L540.7 868.0L541.1 869.0L541.5 877.5L541.9 870.3L542.3 870.1L542.7 868.6L543.1 869.7L543.5 867.8L543.9 869.2L544.3 870.7L544.7 869.3L545.0 868.4L545.1 870.2L545.5 870.2L545.9 867.9L546.3 869.5L546.7 875.0L547.1 869.0L547.5 867.1L547.9 870.1L548.3 869.1L548.7 868.8L549.1 871.2L549.5 869.8L549.9 869.9L550.3 873.0L550.7 872.7L551.1 870.7L551.5 868.7L551.9 868.7L552.3 867.5L552.7 866.1L553.1 866.3L553.5 866.6L553.9 863.8L554.3 866.7L554.7 870.5L555.0 865.1L555.1 864.1L555.5 867.2L555.9 864.5L556.3 865.9L556.7 864.7L557.1 865.0L557.5 864.0L557.9 863.6L558.3 863.8L558.7 866.4L559.1 869.8L559.5 868.2L559.9 866.0L560.3 866.9L560.7 864.1L561.1 863.5L561.5 869.7L561.9 867.3L562.3 864.6L562.7 862.5L563.1 866.8L563.5 863.5L563.9 864.8L564.3 870.5L564.7 863.2L565.0 864.3L565.1 863.7L565.5 862.5L565.9 868.4L566.3 864.6L566.7 863.1L567.1 865.9L567.5 867.4L567.9 862.9L568.3 864.1L568.7 865.2L569.1 867.9L569.5 869.5L569.9 866.1L570.3 865.6L570.7 866.2L571.1 867.1L571.5 869.0L571.9 866.1L572.3 865.2L572.7 864.1L573.1 860.1L573.5 868.5L573.9 866.0L574.3 863.4L574.7 865.1L575.1 865.1L575.5 859.7L575.9 863.1L576.3 862.5L576.7 863.2L577.1 860.3L577.5 867.5L577.9 863.7L578.3 862.0L578.7 860.6L579.1 858.5L579.5 859.4L579.9 862.1L580.3 862.9L580.7 868.2L581.1 866.2L581.5 859.6L581.9 863.9L582.3 860.2L582.7 862.0L583.1 860.3L583.5 860.2L583.9 862.4L584.3 860.0L584.7 867.9L585.1 862.6L585.5 864.1L585.9 864.9L586.3 864.5L586.7 869.8L587.1 861.8L587.5 863.0L587.9 863.8L588.3 864.2L588.7 860.7L589.1 864.3L589.5 865.6L589.9 865.3L590.0 865.4L590.3 867.8L590.7 870.6L591.1 867.7L591.5 867.4L591.9 870.1L592.3 865.9L592.7 866.4L593.1 865.3L593.5 868.2L593.9 870.5L594.3 865.6L594.7 862.4L595.1 869.1L595.5 867.3L595.9 865.5L596.3 865.2L596.7 866.0L597.1 871.9L597.5 865.9L597.9 866.7L598.3 864.0L598.7 865.2L599.1 869.2L599.5 865.1L599.9 865.0L600.3 865.4L600.7 864.9L601.1 864.1L601.5 864.7L601.9 862.6L602.3 862.9L602.7 864.5L603.1 867.4L603.5 864.8L603.9 864.9L604.3 870.0L604.7 861.8L605.1 863.4L605.5 861.4L605.9 865.0L606.3 863.2L606.7 860.4L607.1 866.7L607.5 862.0L607.9 857.8L608.0 861.6L608.3 862.9L608.7 861.9L609.1 860.8L609.5 860.0L609.9 868.4L610.3 857.1L610.7 866.6L611.1 860.0L611.5 860.4L611.9 859.2L612.3 862.4L612.7 861.8L613.1 861.8L613.5 862.4L613.9 859.3L614.3 858.1L614.7 858.6L615.1 862.5L615.5 857.9L615.9 863.3L616.3 860.0L616.7 861.7L617.1 862.3L617.5 860.3L617.9 857.6L618.3 860.5L618.7 860.8L619.1 861.7L619.5 862.1L619.9 860.0L620.3 862.1L620.7 862.6L621.1 863.4L621.5 863.4L621.9 860.7L622.3 862.7L622.7 862.9L623.1 863.3L623.5 865.6L623.9 861.7L624.3 861.5L624.7 862.1L625.1 869.6L625.5 864.9L625.9 860.4L626.3 863.8L626.7 862.6L627.1 861.1L627.5 864.2L627.9 863.1L628.3 862.1L628.7 861.8L629.1 861.9L629.5 862.3L629.9 864.0L630.0 862.8L630.3 865.1L630.7 869.1L631.1 869.1L631.5 862.7L631.9 862.3L632.3 863.9L632.7 864.3L633.1 863.3L633.5 864.0L633.9 865.6L634.3 868.7L634.7 871.9L635.1 865.6L635.5 867.6L635.9 866.3L636.3 866.2L636.7 873.5L637.1 865.2L637.5 873.6L637.9 865.4L638.3 864.3L638.7 867.4L639.1 866.3L639.5 866.5L639.9 866.8L640.0 864.6L640.3 866.1L640.7 865.0L641.1 868.0L641.5 869.3L641.9 869.5L642.3 869.8L642.7 870.0L643.1 868.0L643.5 870.4L643.9 872.6L644.3 871.9L644.7 871.4L645.0 870.1L645.1 871.8L645.5 875.6L645.9 872.0L646.3 871.6L646.7 869.4L647.1 871.5L647.5 869.5L647.9 872.6L648.3 873.9L648.7 869.5L649.1 869.3L649.5 870.9L649.9 869.3L650.3 874.3L650.7 868.1L651.1 869.1L651.5 873.3L651.9 870.6L652.3 870.4L652.7 870.6L653.1 869.9L653.5 870.6L653.9 868.9L654.3 868.5L654.7 869.7L655.1 870.4L655.5 878.7L655.9 873.5L656.3 871.5L656.7 868.9L657.1 873.3L657.5 871.7L657.9 870.4L658.3 872.9L658.7 872.9L659.1 873.8L659.5 873.0L659.9 876.7L660.0 871.2L660.3 872.6L660.7 872.6L661.1 873.4L661.5 875.4L661.9 872.8L662.3 875.6L662.7 875.4L663.1 874.6L663.5 874.9L663.9 872.5L664.3 874.6L664.7 873.9L665.0 871.9L665.1 878.5L665.5 878.2L665.9 879.1L666.3 878.9L666.7 878.9L667.1 880.0L667.5 880.1L667.9 879.6L668.3 877.2L668.7 879.6L669.1 882.9L669.5 883.3L669.9 883.6L670.0 882.8L670.3 884.8L670.7 885.5L671.1 882.7L671.5 881.0L671.9 886.9L672.3 881.2L672.7 880.2L673.1 882.9L673.5 882.5L673.9 879.9L674.3 886.5L674.7 885.7L675.1 880.4L675.5 884.2L675.9 883.7L676.0 878.7L676.3 884.8L676.7 885.2L677.1 885.8L677.5 885.5L677.9 886.1L678.3 887.8L678.7 884.3L679.1 883.2L679.5 884.8L679.9 883.7L680.0 885.7L680.3 887.2L680.7 887.5L681.1 885.8L681.5 885.3L681.9 889.9L682.3 882.1L682.7 883.6L683.1 884.1L683.5 883.8L683.9 884.1L684.0 887.3L684.3 880.5L684.7 880.1L685.1 879.9L685.5 878.5L685.9 878.0L686.2 878.9L686.3 879.3L686.7 886.6L687.0 891.8L687.1 899.9L687.5 932.0L687.9 964.3L688.2 988.2L688.3 985.5L688.7 976.1L689.1 966.6L689.3 962.1L689.5 960.5L689.9 959.3L690.3 956.8L690.5 956.3L690.7 957.0L691.1 957.5L691.5 955.0L691.9 953.1L692.3 955.6L692.7 956.7L693.1 957.6L693.5 957.1L693.9 955.9L694.3 952.2L694.7 955.4L695.1 951.5L695.5 951.7L695.9 954.7L696.3 953.7L696.7 954.3L697.0 955.3L697.1 953.4L697.5 954.3L697.9 953.8L698.3 949.3L698.7 955.9L699.1 951.6L699.5 956.1L699.9 955.3L700.3 953.8L700.7 957.2L701.1 953.4L701.5 950.8L701.9 952.9L702.3 954.9L702.7 955.9L703.1 956.1L703.5 952.8L703.9 954.8L704.3 956.1L704.7 957.3L705.0 955.9L705.1 955.2L705.5 955.7L705.9 954.9L706.3 955.7L706.7 955.0L707.1 954.6L707.5 955.9L707.9 954.4L708.3 958.7L708.7 952.3L709.1 953.9L709.5 951.2L709.9 952.0L710.3 954.0L710.7 956.0L711.0 953.4L711.1 961.2L711.5 954.2L711.9 955.7L712.3 958.2L712.7 955.9L713.1 956.4L713.5 958.1L713.9 957.1L714.3 956.6L714.7 957.8L715.1 955.6L715.5 956.9L715.9 963.3L716.3 957.0L716.7 958.0L717.1 958.4L717.5 959.4L717.9 956.1L718.3 954.3L718.7 954.2L719.1 952.9L719.5 953.7L719.9 951.1L720.3 948.3L720.7 950.4L721.0 950.0L721.1 951.1L721.5 946.7L721.9 945.8L722.3 949.7L722.7 943.3L723.1 943.9L723.5 940.4L723.7 938.9L723.9 942.7L724.3 940.2L724.7 940.0L725.1 945.7L725.5 943.4L725.9 943.3L726.3 949.5L726.7 946.3L727.0 945.8L727.1 947.7L727.5 949.0L727.9 950.1L728.3 942.6L728.7 946.2L729.1 948.7L729.5 949.8L729.9 947.4L730.3 948.9L730.7 949.7L731.1 948.0L731.5 952.3L731.9 949.9L732.3 950.1L732.7 945.6L733.0 947.8L733.1 949.0L733.5 952.0L733.9 952.7L734.3 950.6L734.7 953.8L735.1 953.0L735.5 952.4L735.9 952.1L736.3 954.2L736.7 954.6L737.1 954.5L737.5 956.0L737.9 953.6L738.3 950.8L738.7 952.6L739.1 946.4L739.5 956.8L739.9 953.8L740.0 952.7L740.3 956.3L740.7 955.7L741.1 955.7L741.5 952.3L741.9 955.9L742.3 956.4L742.7 957.7L743.1 958.9L743.5 959.0L743.9 959.1L744.3 959.9L744.7 959.0L745.0 958.6L745.1 959.9L745.5 961.2L745.9 961.2L746.3 957.6L746.7 962.8L747.1 963.8L747.5 961.8L747.9 959.2L748.3 969.5L748.7 964.6L749.1 971.2L749.5 963.1L749.9 965.2L750.0 966.5L750.3 966.8L750.7 966.7L751.1 967.1L751.5 967.2L751.9 966.2L752.3 971.6L752.7 969.5L753.1 969.3L753.5 968.9L753.9 968.5L754.3 967.9L754.7 969.6L755.1 968.1L755.5 970.4L755.9 971.0L756.3 968.8L756.7 968.9L757.1 970.6L757.5 968.3L757.9 968.1L758.0 970.8L758.3 969.7L758.7 971.3L759.1 972.3L759.5 972.6L759.9 974.2L760.3 972.4L760.7 973.3L761.1 974.4L761.5 973.5L761.9 973.2L762.3 976.3L762.7 975.7L763.1 974.5L763.5 975.6L763.9 979.8L764.3 976.0L764.7 977.8L765.1 976.9L765.5 974.3L765.9 978.1L766.3 982.5L766.7 981.6L767.1 976.7L767.5 975.9L767.9 977.5L768.3 983.0L768.7 979.4L769.1 978.2L769.5 978.2L769.9 977.2L770.3 981.3L770.7 978.7L771.1 981.9L771.5 980.8L771.9 981.3L772.3 979.3L772.7 979.5L773.1 980.5L773.5 982.2L773.9 982.3L774.3 982.5L774.7 985.8L775.1 978.9L775.5 987.2L775.9 986.6L776.3 984.3L776.7 986.7L777.1 985.5L777.5 986.5L777.9 985.3L778.0 984.4L778.3 985.8L778.7 985.4L779.1 984.6L779.5 983.9L779.9 986.2L780.3 985.2L780.7 985.2L781.1 989.8L781.5 988.2L781.9 986.5L782.3 991.3L782.7 987.4L783.1 986.2L783.5 985.6L783.9 986.6L784.3 988.3L784.7 989.1L785.1 986.8L785.5 987.0L785.9 987.3L786.3 988.0L786.7 991.6L787.1 990.7L787.5 989.7L787.9 993.0L788.3 990.5L788.7 985.2L789.1 987.9L789.5 988.2L789.9 990.9L790.0 992.9L790.3 993.9L790.7 992.0L791.1 988.4L791.5 991.0L791.9 991.1L792.3 994.0L792.7 994.8L793.1 995.1L793.5 993.7L793.9 993.7L794.3 993.7L794.7 1000.7L795.1 998.1L795.5 995.3L795.9 996.2L796.3 997.2L796.7 995.2L797.0 996.0L797.1 996.7L797.5 999.1L797.9 1001.4L798.3 999.4L798.7 1003.4L799.1 1001.1L799.5 997.5L799.9 999.0L800.3 1000.4L800.7 1002.2L801.1 999.2L801.5 1001.8L801.9 1000.2L802.3 1003.8L802.7 1003.4L803.1 1007.8L803.5 1003.6L803.9 1003.9L804.3 1006.4L804.7 1006.9L805.0 1006.3L805.1 1006.2L805.5 1005.0L805.9 1008.0L806.3 1008.0L806.7 1007.3L807.1 1008.0L807.5 1007.0L807.9 1008.0L808.3 1008.3L808.7 1010.5L809.1 1008.1L809.5 1010.9L809.9 1009.6L810.3 1011.6L810.7 1012.3L811.1 1012.5L811.5 1011.9L811.9 1012.0L812.3 1013.8L812.7 1014.4L813.1 1014.2L813.5 1017.6L813.9 1017.3L814.3 1014.6L814.7 1015.2L815.0 1013.3L815.1 1016.6L815.5 1021.3L815.9 1017.0L816.3 1018.7L816.7 1018.4L817.1 1018.7L817.5 1021.0L817.9 1020.2L818.3 1018.2L818.7 1026.0L819.1 1021.3L819.5 1023.1L819.9 1020.6L820.3 1022.5L820.7 1023.9L821.1 1023.9L821.5 1025.8L821.9 1027.5L822.3 1027.8L822.7 1027.3L823.1 1028.7L823.5 1028.5L823.9 1030.5L824.3 1032.6L824.7 1032.7L825.0 1031.1L825.1 1029.2L825.5 1031.3L825.9 1031.0L826.3 1036.6L826.7 1036.1L827.1 1034.6L827.5 1035.4L827.9 1036.5L828.3 1035.9L828.7 1037.8L829.1 1039.2L829.5 1039.2L829.9 1040.3L830.3 1046.8L830.7 1043.2L831.1 1048.5L831.5 1042.1L831.9 1044.1L832.3 1043.8L832.5 1045.1L832.7 1049.1L833.1 1044.8L833.5 1044.1L833.9 1045.1L834.3 1053.3L834.7 1047.4L835.1 1048.5L835.5 1050.0L835.9 1051.0L836.3 1050.8L836.7 1046.7L837.1 1048.4L837.5 1049.1L837.9 1049.4L838.3 1052.0L838.7 1053.3L839.1 1054.0L839.5 1052.7L839.9 1051.8L840.0 1050.2L840.3 1052.9L840.7 1054.4L841.1 1056.1L841.5 1055.1L841.9 1056.3L842.3 1055.7L842.7 1053.5L843.1 1057.3L843.5 1055.6L843.9 1060.3L844.3 1054.0L844.7 1057.7L845.1 1057.7L845.5 1056.2L845.9 1057.0L846.0 1056.3L846.3 1058.4L846.7 1057.2L847.1 1057.5L847.5 1058.0L847.9 1060.2L848.3 1061.7L848.7 1061.5L849.1 1060.9L849.5 1061.6L849.9 1060.9L850.3 1062.6L850.7 1061.8L851.1 1065.5L851.2 1065.4L851.5 1059.8L851.9 1058.1L852.3 1054.8L852.7 1050.6L853.0 1049.5L853.1 1046.8L853.5 1046.9L853.9 1049.8L854.3 1049.1L854.7 1046.3L855.1 1045.5L855.5 1044.8L855.9 1047.4L856.0 1049.6L856.3 1047.4L856.7 1044.2L857.1 1044.2L857.5 1043.2L857.9 1042.3L858.3 1044.3L858.7 1039.0L859.1 1039.5L859.5 1040.6L859.9 1039.2L860.3 1044.8L860.7 1035.7L861.0 1039.1L861.1 1040.4L861.5 1038.1L861.9 1033.5L862.3 1025.3L862.7 1028.8L863.1 1025.7L863.5 1023.7L863.9 1020.8L864.3 1021.8L864.7 1021.6L865.1 1019.7L865.5 1021.4L865.9 1018.5L866.3 1018.1L866.7 1018.2L867.1 1017.3L867.5 1017.8L867.9 1017.0L868.0 1016.7L868.3 1018.2L868.7 1017.6L869.1 1018.1L869.5 1017.8L869.9 1016.8L870.3 1017.4L870.7 1018.3L871.1 1015.3L871.5 1015.9L871.9 1012.0L872.3 1006.3L872.7 1005.2L873.1 998.7L873.5 996.9L873.9 998.2L874.3 996.7L874.7 1002.7L875.0 1000.8L875.1 1001.4L875.5 1001.9L875.9 1003.2L876.3 1005.3L876.5 1007.1L876.7 1007.1L877.1 1004.2L877.5 1004.7L877.9 1008.5L878.3 1005.9L878.7 1002.4L879.1 1002.8L879.5 1006.1L879.9 1008.2L880.0 1004.5L880.3 1003.9L880.7 1010.8L881.1 1004.9L881.5 1003.2L881.9 1002.5L882.3 1003.9L882.7 1006.6L883.1 1008.0L883.5 1004.3L883.9 1012.0L884.3 1009.9L884.7 1005.1L885.0 1008.2L885.1 1008.8L885.5 1006.2L885.9 999.8L886.3 1001.8L886.7 1003.5L887.1 1005.2L887.5 1002.0L887.9 1007.4L888.3 1003.0L888.7 1002.5L889.1 1000.5L889.5 999.5L889.9 1002.1L890.0 1001.7L890.3 1000.7L890.7 999.2L891.1 1002.2L891.5 1000.7L891.9 1000.6L892.3 994.1L892.7 995.2L893.1 996.1L893.5 995.9L893.9 994.2L894.3 991.3L894.7 994.4L895.0 989.2L895.1 992.1L895.5 990.9L895.9 990.5L896.3 991.9L896.7 992.3L897.1 992.3L897.5 990.0L897.9 988.4L898.3 991.2L898.7 990.5L899.1 994.0L899.5 991.1L899.9 992.1L900.3 991.4L900.7 992.0L901.0 990.1L901.1 987.4L901.5 991.0L901.9 994.6L902.3 991.4L902.7 990.0L903.1 990.5L903.5 992.5L903.9 997.9L904.0 993.8L904.3 993.9L904.7 994.2L905.1 997.5L905.5 999.5L905.9 1005.0L906.3 1002.9L906.7 1005.6L907.1 1006.8L907.5 1008.5L907.6 1009.0L907.9 967.8L908.3 911.9L908.5 884.3L908.7 883.5L909.1 882.3L909.5 884.9L909.7 886.2L909.9 915.0L910.3 973.5L910.5 1002.9L910.7 1002.9L911.1 1002.8L911.5 1002.0L911.9 999.7L912.3 1002.7L912.7 1000.4L913.1 1000.8L913.5 1000.5L913.9 1006.8L914.3 1005.7L914.7 1008.5L915.0 1005.5L915.1 1004.9L915.5 1003.1L915.9 1003.2L916.3 1000.2L916.7 1001.8L917.1 1004.9L917.5 1003.2L917.9 1004.9L918.3 1004.2L918.7 1005.9L919.1 1002.9L919.5 1003.6L919.9 1004.4L920.0 1005.1L920.3 1004.4L920.7 1001.1L921.1 1000.9L921.5 1005.0L921.9 1006.0L922.3 1008.0L922.7 1005.8L923.1 1006.0L923.5 1003.5L923.9 1006.0L924.3 1004.6L924.7 1002.8L925.0 1002.4L925.1 1003.8L925.5 1002.4L925.9 1007.6L926.3 1006.7L926.7 1006.2L927.1 1006.6L927.5 1005.8L927.9 1007.6L928.3 1010.2L928.7 1003.0L929.1 1009.9L929.5 1010.0L929.9 1010.0L930.0 1009.4L930.3 1007.2L930.7 1009.7L931.1 1009.8L931.5 1007.7L931.9 1010.6L932.3 1010.8L932.7 1008.6L933.1 1012.6L933.5 1012.7L933.9 1014.6L934.0 1013.0L934.3 1015.8L934.7 1017.9L935.1 1017.0L935.5 1023.6L935.9 1021.0L936.3 1021.6L936.7 1019.5L937.1 1018.2L937.5 1020.7L937.9 1021.6L938.3 1019.4L938.7 1019.6L939.1 1017.7L939.5 1017.0L939.9 1015.8L940.0 1015.0L940.3 1015.6L940.7 1015.0L941.1 1016.7L941.5 1016.5L941.9 1016.0L942.3 1011.0L942.5 1015.0L942.7 1018.6L943.1 1021.0L943.5 1020.4L943.9 1024.9L944.3 1025.6L944.7 1028.7L945.0 1031.7L945.1 1029.6L945.5 1035.1L945.9 1032.2L946.3 1031.4L946.7 1029.0L947.1 1035.5L947.5 1041.1L947.9 1033.8L948.3 1032.4L948.7 1034.4L949.1 1033.8L949.5 1036.4L949.9 1032.6L950.0 1034.9L950.3 1031.5L950.7 1035.1L951.1 1035.7L951.5 1037.9L951.9 1042.3L952.3 1039.8L952.7 1038.4L953.1 1036.2L953.5 1039.4L953.9 1038.5L954.3 1036.7L954.7 1039.8L955.0 1043.5L955.1 1043.6L955.5 1041.7L955.9 1038.5L956.3 1039.3L956.7 1043.3L957.1 1042.2L957.5 1044.2L957.9 1045.0L958.3 1044.9L958.7 1042.5L959.1 1046.1L959.5 1048.5L959.9 1045.0L960.0 1044.9L960.3 1047.7L960.7 1045.2L961.1 1046.1L961.5 1045.9L961.9 1047.2L962.3 1048.5L962.7 1048.2L963.1 1046.0L963.5 1047.9L963.7 1050.4L963.9 1046.6L964.3 1046.8L964.7 1045.5L965.1 1050.1L965.5 1049.4L965.9 1049.0L966.3 1047.8L966.7 1047.1L967.0 1045.9L967.1 1048.9L967.5 1048.0L967.9 1048.7L968.3 1041.7L968.7 1047.6L969.1 1047.6L969.5 1045.6L969.9 1045.8L970.3 1045.4L970.7 1046.0L971.0 1046.0L971.1 1032.7L971.5 981.8L971.9 931.0L972.3 932.3L972.7 933.5L973.1 934.3L973.2 934.4L973.5 933.9L973.9 933.0L974.3 934.6L974.7 935.5L975.1 936.3L975.5 938.1L975.9 938.2L976.3 936.9L976.7 937.8L977.1 940.8L977.5 941.3L977.9 940.5L978.3 940.4L978.7 941.3L979.1 939.1L979.5 940.8L979.9 939.5L980.3 939.8L980.7 941.1L981.0 944.1L981.1 943.3L981.5 943.0L981.9 946.0L982.3 944.7L982.7 944.4L983.1 943.5L983.5 944.4L983.7 945.3L983.9 970.0L984.3 1021.7L984.6 1059.8L984.7 1060.7L985.1 1065.0L985.3 1067.1L985.5 1066.5L985.9 1068.5L986.3 1065.5L986.7 1066.5L987.1 1065.4L987.5 1065.1L987.9 1067.6L988.0 1067.0L988.3 1066.8L988.7 1068.1L989.1 1066.9L989.5 1066.1L989.9 1060.6L990.3 1060.9L990.7 1067.7L991.1 1067.1L991.5 1070.0L991.9 1064.7L992.3 1063.9L992.5 1060.7L992.7 1063.1L993.1 1063.8L993.5 1065.7L993.9 1065.4L994.3 1063.8L994.7 1063.6L995.1 1065.3L995.5 1068.7L995.9 1066.6L996.3 1065.5L996.7 1062.2L997.1 1061.8L997.5 1068.8L997.9 1066.5L998.3 1064.4L998.7 1066.4L999.1 1066.7L999.5 1066.8L999.9 1067.4L1000.0 1067.8L1000.3 1066.6L1000.7 1067.0L1001.1 1069.2L1001.5 1067.4L1001.9 1067.8L1002.3 1067.3L1002.7 1066.6L1003.1 1067.7L1003.5 1069.4L1003.9 1069.5L1004.3 1069.9L1004.7 1070.4L1005.1 1068.0L1005.5 1069.5L1005.9 1071.3L1006.3 1072.5L1006.7 1072.9L1007.1 1070.2L1007.5 1071.5L1007.9 1072.7L1008.3 1072.8L1008.7 1072.7L1009.1 1071.6L1009.5 1073.1L1009.9 1075.3L1010.3 1073.2L1010.7 1074.0L1011.1 1074.8L1011.5 1071.7L1011.9 1074.7L1012.3 1073.2L1012.7 1074.2L1013.1 1074.6L1013.5 1075.1L1013.9 1074.2L1014.3 1074.4L1014.7 1074.8L1015.1 1075.3L1015.5 1075.6L1015.9 1075.0L1016.0 1076.9L1016.3 1076.6L1016.7 1076.5L1017.1 1076.0L1017.5 1083.5L1017.9 1078.0L1018.3 1078.4L1018.7 1076.3L1019.1 1076.3L1019.5 1076.7L1019.9 1077.5L1020.3 1077.5L1020.7 1078.5L1021.1 1077.8L1021.5 1078.5L1021.9 1080.3L1022.3 1080.4L1022.7 1080.3L1023.1 1080.7L1023.5 1080.7L1023.9 1076.6L1024.3 1081.0L1024.7 1079.7L1025.0 1078.4L1025.1 1078.9L1025.5 1079.4L1025.9 1079.5L1026.3 1080.4L1026.7 1080.1L1027.1 1079.8L1027.5 1083.7L1027.9 1080.1L1028.3 1080.9L1028.7 1082.2L1029.1 1080.0L1029.5 1079.9L1029.9 1081.8L1030.3 1081.1L1030.7 1081.8L1031.1 1082.8L1031.5 1082.0L1031.9 1084.0L1032.3 1083.2L1032.7 1082.6L1033.1 1083.5L1033.5 1082.9L1033.9 1082.2L1034.3 1083.4L1034.7 1082.7L1035.0 1081.2L1035.1 1082.2L1035.5 1083.1L1035.9 1083.2L1036.3 1082.6L1036.7 1082.7L1037.1 1084.1L1037.5 1083.0L1037.9 1085.3L1038.3 1085.3L1038.7 1084.1L1039.1 1087.2L1039.5 1087.2L1039.9 1086.8L1040.3 1086.9L1040.7 1085.9L1041.1 1086.2L1041.5 1086.3L1041.9 1086.6L1042.3 1087.7L1042.7 1089.6L1043.1 1086.4L1043.5 1086.9L1043.9 1087.4L1044.3 1087.2L1044.7 1088.2L1045.0 1088.8L1045.1 1089.2L1045.5 1086.8L1045.9 1090.5L1046.3 1089.2L1046.7 1088.8L1047.1 1089.9L1047.5 1089.9L1047.9 1089.5L1048.3 1090.5L1048.7 1091.2L1049.1 1092.7L1049.5 1091.4L1049.9 1091.2L1050.3 1091.6L1050.7 1090.4L1051.1 1090.7L1051.5 1090.4L1051.9 1091.3L1052.3 1091.9L1052.7 1090.8L1053.1 1093.6L1053.5 1092.1L1053.9 1094.3L1054.3 1092.7L1054.7 1092.7L1055.1 1092.8L1055.5 1093.7L1055.9 1092.8L1056.3 1093.7L1056.7 1095.3L1057.1 1096.8L1057.5 1096.0L1057.9 1095.2L1058.3 1094.9L1058.7 1094.7L1059.1 1092.7L1059.5 1094.4L1059.9 1095.4L1060.3 1094.4L1060.7 1094.2L1061.1 1094.3L1061.5 1095.0L1061.9 1095.4L1062.3 1094.8L1062.7 1091.5L1063.1 1092.7L1063.5 1092.3L1063.9 1092.9L1064.0 1092.6L1064.3 1093.5L1064.7 1092.6L1065.1 1093.1L1065.5 1091.5L1065.9 1091.3L1066.3 1091.7L1066.7 1091.4L1067.1 1091.2L1067.5 1090.9L1067.9 1090.6L1068.3 1090.2L1068.7 1090.1L1069.1 1091.0L1069.5 1088.6L1069.9 1087.6L1070.3 1087.5L1070.6 1089.0L1070.7 1089.4L1071.1 1090.3L1071.5 1092.0L1071.9 1093.9L1072.0 1093.3L1072.3 1093.6L1072.7 1095.8L1073.1 1097.2L1073.5 1097.4L1073.9 1098.2L1074.3 1099.4L1074.7 1101.0L1075.1 1101.2L1075.5 1101.3L1075.9 1101.1L1076.3 1102.7L1076.7 1104.4L1077.1 1105.0L1077.5 1104.9L1077.9 1109.5L1078.3 1105.1L1078.7 1103.6L1079.1 1102.8L1079.5 1102.4L1079.9 1101.3L1080.3 1099.9L1080.7 1104.8L1081.0 1101.8L1081.1 1102.0L1081.5 1101.0L1081.9 1101.8L1082.3 1100.8L1082.7 1101.6L1083.1 1101.9L1083.5 1101.6L1083.9 1101.9L1084.3 1101.5L1084.7 1100.8L1085.0 1099.2L1085.1 1100.6L1085.5 1101.0L1085.9 1102.1L1086.3 1101.4L1086.7 1099.8L1087.1 1100.8L1087.5 1101.1L1087.9 1101.7L1088.3 1101.0L1088.7 1101.0L1089.1 1099.8L1089.5 1100.7L1089.9 1102.3L1090.0 1102.0L1090.3 1101.5L1090.7 1102.8L1091.1 1102.6L1091.5 1103.3L1091.9 1102.7L1092.3 1103.6L1092.7 1103.5L1093.1 1103.7L1093.5 1103.6L1093.9 1104.2L1094.3 1105.3L1094.7 1106.8L1095.0 1105.5L1095.1 1106.1L1095.5 1105.7L1095.9 1105.6L1096.3 1104.8L1096.7 1104.9L1097.1 1106.5L1097.5 1106.0L1097.9 1106.4L1098.3 1107.0L1098.7 1105.9L1099.1 1106.8L1099.5 1106.7L1099.9 1106.2L1100.3 1106.0L1100.7 1106.2L1101.1 1106.2L1101.5 1106.0L1101.9 1114.5L1102.3 1107.4L1102.5 1108.8L1102.7 1105.5L1103.1 1106.5L1103.5 1108.8L1103.9 1107.0L1104.3 1108.7L1104.7 1107.8L1105.1 1108.2L1105.5 1109.0L1105.9 1108.6L1106.3 1109.3L1106.7 1109.5L1107.1 1108.9L1107.5 1108.9L1107.9 1111.1L1108.3 1109.3L1108.7 1110.6L1109.0 1108.7L1109.1 1109.1L1109.5 1108.4L1109.9 1108.8L1110.3 1109.3L1110.7 1110.1L1111.1 1110.7L1111.5 1111.7L1111.9 1111.0L1112.3 1111.0L1112.5 1110.4L1112.7 1111.4L1113.1 1110.4L1113.5 1111.8L1113.9 1110.6L1114.3 1112.6L1114.7 1112.3L1115.1 1112.8L1115.5 1112.7L1115.9 1114.7L1116.3 1113.3L1116.7 1113.1L1117.1 1113.7L1117.5 1115.4L1117.9 1114.8L1118.3 1116.1L1118.7 1115.6L1119.1 1115.7L1119.5 1114.8L1119.9 1114.9L1120.3 1115.3L1120.7 1115.1L1121.1 1115.0L1121.5 1116.1L1121.9 1116.5L1122.3 1116.1L1122.5 1122.0L1122.7 1117.1L1123.1 1118.0L1123.5 1116.9L1123.9 1116.7L1124.3 1116.7L1124.7 1117.5L1125.1 1116.9L1125.5 1117.0L1125.9 1116.8L1126.3 1117.5L1126.7 1117.7L1127.1 1115.9L1127.5 1117.6L1127.9 1117.5L1128.3 1118.1L1128.7 1116.9L1129.1 1117.6L1129.5 1117.8L1129.9 1118.2L1130.3 1120.4L1130.7 1120.0L1131.1 1120.1L1131.5 1119.5L1131.9 1119.4L1132.0 1119.8L1132.3 1119.4L1132.7 1120.2L1133.1 1121.0L1133.5 1121.6L1133.9 1121.4L1134.3 1121.4L1134.7 1120.0L1135.1 1122.2L1135.5 1120.3L1135.9 1123.7L1136.0 1122.5L1136.3 1122.1L1136.7 1122.5L1137.1 1122.7L1137.5 1122.7L1137.9 1123.8L1138.3 1123.7L1138.7 1123.7L1139.1 1122.9L1139.5 1123.7L1139.9 1124.8L1140.3 1125.4L1140.7 1125.0L1141.0 1125.8L1141.1 1126.6L1141.5 1124.2L1141.9 1124.8L1142.3 1125.4L1142.7 1124.2L1143.1 1124.0L1143.5 1124.9L1143.9 1126.2L1144.3 1126.0L1144.7 1125.2L1145.1 1125.8L1145.5 1124.9L1145.9 1126.7L1146.3 1125.4L1146.7 1124.8L1147.1 1126.5L1147.5 1125.3L1147.9 1125.4L1148.3 1124.8L1148.7 1125.7L1149.1 1125.1L1149.5 1125.4L1149.9 1126.2L1150.3 1125.3L1150.7 1125.5L1151.1 1125.5L1151.5 1126.2L1151.9 1125.7L1152.3 1125.3L1152.7 1125.4L1153.1 1126.8L1153.5 1127.9L1153.9 1125.3L1154.3 1126.3L1154.7 1126.5L1155.1 1126.6L1155.5 1127.3L1155.9 1127.4L1156.3 1127.0L1156.7 1127.2L1157.1 1127.5L1157.5 1128.0L1157.9 1127.3L1158.3 1127.9L1158.7 1125.8L1159.1 1125.3L1159.5 1125.9L1159.9 1126.2L1160.3 1127.5L1160.7 1126.6L1161.1 1125.6L1161.5 1125.4L1161.9 1126.1L1162.3 1125.5L1162.7 1125.5L1163.1 1125.1L1163.5 1124.6L1163.9 1125.3L1164.3 1125.4L1164.7 1124.9L1165.0 1125.1L1165.1 1125.1L1165.5 1124.9L1165.9 1123.5L1166.3 1123.8L1166.7 1123.4L1167.1 1124.0L1167.5 1123.2L1167.9 1124.6L1168.3 1122.7L1168.7 1123.1L1169.1 1122.7L1169.5 1121.9L1169.9 1121.6L1170.0 1122.7L1170.3 1122.3L1170.7 1122.0L1171.1 1121.3L1171.5 1121.5L1171.9 1121.2L1172.3 1120.7L1172.7 1120.7L1173.1 1121.1L1173.5 1121.4L1173.9 1121.4L1174.3 1121.9L1174.7 1119.8L1175.0 1119.5L1175.1 1120.7L1175.5 1121.6L1175.9 1121.6L1176.3 1122.0L1176.7 1122.3L1177.1 1124.2L1177.5 1123.9L1177.9 1124.9L1178.0 1124.5L1178.3 1125.8L1178.7 1131.5L1179.1 1126.4L1179.5 1127.9L1179.9 1128.9L1180.0 1127.6L1180.3 1127.8L1180.7 1126.5L1181.1 1127.2L1181.5 1126.8L1181.9 1128.0L1182.3 1128.6L1182.7 1129.8L1183.1 1128.1L1183.5 1128.3L1183.9 1129.7L1184.3 1130.4L1184.7 1129.7L1185.1 1129.9L1185.5 1129.4L1185.9 1129.7L1186.3 1129.9L1186.7 1130.4L1187.1 1130.2L1187.5 1130.6L1187.9 1130.3L1188.3 1130.4L1188.7 1131.0L1189.1 1130.4L1189.5 1130.5L1189.9 1130.4L1190.3 1131.5L1190.4 1130.9L1190.7 1130.2L1191.1 1130.2L1191.5 1130.7L1191.9 1131.1L1192.3 1131.3L1192.7 1131.8L1193.1 1132.8L1193.5 1132.1L1193.9 1132.4L1194.3 1132.1L1194.7 1133.3L1195.1 1132.8L1195.5 1133.0L1195.9 1132.5L1196.3 1133.3L1196.7 1132.3L1197.1 1132.6L1197.5 1133.3L1197.9 1134.6L1198.3 1134.1L1198.7 1133.8L1199.1 1133.5L1199.5 1135.2L1199.9 1133.7L1200.3 1133.8L1200.7 1133.8L1201.1 1134.1L1201.5 1134.9L1201.9 1134.2L1202.3 1134.9L1202.5 1135.1L1202.7 1135.0L1203.1 1134.6L1203.5 1136.7L1203.9 1136.4L1204.3 1137.6L1204.7 1137.1L1205.1 1138.4L1205.5 1137.7L1205.9 1139.2L1206.0 1137.8L1206.3 1140.3L1206.7 1139.8L1207.1 1139.3L1207.5 1139.5L1207.9 1140.4L1208.3 1141.3L1208.7 1141.1L1209.1 1141.5L1209.5 1141.8L1209.9 1141.4L1210.3 1141.9L1210.7 1141.5L1211.1 1141.3L1211.5 1141.6L1211.9 1142.2L1212.3 1142.7L1212.7 1142.7L1213.1 1143.6L1213.5 1143.6L1213.9 1143.4L1214.3 1143.1L1214.7 1144.3L1215.1 1144.2L1215.5 1144.2L1215.9 1145.6L1216.0 1143.7L1216.3 1144.5L1216.7 1144.3L1217.1 1145.0L1217.5 1145.2L1217.9 1145.2L1218.3 1145.8L1218.7 1144.9L1219.1 1145.6L1219.5 1146.3L1219.9 1146.3L1220.0 1147.8L1220.3 1145.6L1220.7 1144.2L1221.1 1147.6L1221.5 1149.7L1221.9 1143.7L1222.3 1146.6L1222.5 1146.2L1222.7 1143.4L1223.1 1145.3L1223.5 1145.1L1223.9 1144.6L1224.3 1145.8L1224.7 1145.0L1225.1 1145.3L1225.5 1144.2L1225.9 1143.9L1226.3 1142.4L1226.7 1143.5L1227.1 1143.5L1227.5 1143.0L1227.9 1143.0L1228.3 1143.0L1228.7 1143.3L1229.1 1143.5L1229.5 1143.1L1229.9 1143.9L1230.3 1143.8L1230.7 1143.6L1231.1 1143.3L1231.5 1143.9L1231.9 1143.9L1232.3 1144.2L1232.7 1144.5L1233.1 1144.3L1233.3 1144.2L1233.5 1143.6L1233.9 1143.3L1234.2 1142.1L1234.3 1141.9L1234.7 1142.8L1235.1 1142.5L1235.5 1142.6L1235.9 1142.7L1236.3 1144.7L1236.7 1143.6L1237.1 1144.3L1237.5 1144.9L1237.9 1143.3L1238.3 1144.0L1238.7 1144.3L1239.1 1144.0L1239.5 1145.3L1239.9 1145.6L1240.3 1144.6L1240.7 1145.5L1241.1 1145.7L1241.5 1145.4L1241.9 1145.3L1242.3 1145.5L1242.7 1145.3L1243.1 1146.0L1243.5 1145.9L1243.9 1145.7L1244.3 1146.2L1244.7 1146.7L1245.0 1146.1L1245.1 1147.1L1245.5 1147.6L1245.9 1147.6L1246.3 1147.5L1246.7 1147.7L1247.1 1148.2L1247.5 1147.9L1247.9 1148.3L1248.3 1148.5L1248.7 1148.2L1249.1 1148.5L1249.5 1148.5L1249.9 1149.2L1250.3 1148.8L1250.7 1148.6L1250.8 1148.9L1251.1 1150.0L1251.5 1152.4L1251.9 1152.6L1252.0 1153.2L1252.3 1152.3L1252.7 1150.8L1253.0 1150.0L1253.1 1149.9L1253.5 1150.3L1253.9 1149.5L1254.3 1149.6L1254.7 1150.5L1255.1 1148.9L1255.5 1149.3L1255.9 1150.6L1256.3 1149.4L1256.7 1148.9L1257.1 1150.2L1257.5 1149.4L1257.9 1150.0L1258.3 1150.5L1258.7 1150.2L1259.1 1150.6L1259.5 1151.2L1259.9 1151.2L1260.3 1151.5L1260.7 1151.5L1261.1 1150.7L1261.5 1151.6L1261.7 1151.9L1261.9 1152.1L1262.3 1152.3L1262.7 1152.3L1263.1 1152.3L1263.5 1151.6L1263.9 1152.4L1264.3 1152.8L1264.7 1152.2L1265.1 1153.5L1265.5 1152.9L1265.9 1153.1L1266.3 1154.2L1266.7 1152.9L1267.1 1153.7L1267.5 1153.3L1267.9 1153.0L1268.3 1152.6L1268.7 1152.4L1269.1 1152.7L1269.5 1152.8L1269.9 1152.9L1270.0 1153.2L1270.3 1152.9L1270.7 1153.0L1271.1 1152.7L1271.5 1152.4L1271.9 1152.6L1272.3 1152.9L1272.7 1153.1L1273.1 1153.5L1273.5 1153.1L1273.9 1152.0L1274.3 1154.6L1274.7 1152.6L1275.1 1153.1L1275.5 1153.9L1275.9 1153.7L1276.3 1153.2L1276.7 1153.0L1277.1 1152.3L1277.5 1153.1L1277.9 1152.7L1278.3 1153.9L1278.7 1153.8L1279.1 1154.1L1279.5 1153.7L1279.9 1153.0L1280.3 1154.7L1280.7 1154.2L1281.1 1154.0L1281.5 1153.9L1281.9 1155.1L1282.3 1154.1L1282.7 1154.0L1283.1 1153.9L1283.5 1154.0L1283.9 1154.6L1284.3 1155.2L1284.7 1154.2L1285.1 1154.0L1285.5 1154.0L1285.9 1154.8L1286.3 1154.7L1286.7 1155.2L1287.1 1155.2L1287.5 1155.2L1287.9 1155.0L1288.3 1155.9L1288.7 1155.1L1289.1 1156.2L1289.5 1155.9L1289.9 1156.1L1290.3 1155.7L1290.7 1155.7L1291.1 1156.4L1291.5 1156.2L1291.7 1156.6L1291.9 1159.5L1292.0 1160.9L1292.3 1158.8L1292.6 1156.5L1292.7 1157.0L1293.1 1156.5L1293.5 1156.5L1293.9 1157.6L1294.3 1157.8L1294.7 1157.2L1295.1 1157.2L1295.5 1157.1L1295.9 1157.6L1296.3 1157.2L1296.7 1157.3L1297.1 1157.2L1297.5 1157.0L1297.9 1157.9L1298.3 1157.4L1298.7 1157.7L1299.1 1157.5L1299.5 1159.6L1299.9 1158.7L1300.3 1158.8L1300.7 1157.7L1301.1 1158.1L1301.5 1158.9L1301.9 1157.6L1302.3 1157.8L1302.7 1158.4L1303.1 1158.7L1303.3 1158.8L1303.5 1157.8L1303.9 1157.8L1304.3 1158.1L1304.7 1157.6L1305.1 1158.3L1305.5 1158.5L1305.9 1159.8L1306.3 1157.8L1306.7 1159.1L1307.1 1159.5L1307.5 1159.2L1307.9 1158.6L1308.3 1158.7L1308.7 1159.9L1309.1 1161.7L1309.2 1162.2L1309.5 1162.3L1309.9 1161.3L1310.3 1161.7L1310.5 1160.1L1310.7 1160.9L1311.1 1161.8L1311.5 1163.2L1311.7 1163.4L1311.9 1161.8L1312.3 1161.5L1312.7 1160.4L1313.1 1161.1L1313.5 1160.0L1313.9 1156.9L1314.2 1155.8L1314.3 1156.3L1314.7 1156.1L1315.1 1155.3L1315.5 1155.1L1315.9 1155.2L1316.3 1155.8L1316.7 1156.8L1317.1 1155.8L1317.5 1155.5L1317.9 1154.1L1318.3 1155.1L1318.7 1155.1L1319.0 1156.3L1319.1 1156.5L1319.5 1156.5L1319.9 1157.1L1320.0 1156.8L1320.3 1158.2L1320.7 1158.9L1321.1 1159.3L1321.5 1160.7L1321.9 1160.9L1322.3 1162.1L1322.7 1161.9L1323.0 1164.9L1323.1 1163.4L1323.5 1161.5L1323.9 1159.7L1324.0 1159.3L1324.3 1159.7L1324.7 1159.8L1325.1 1160.5L1325.5 1161.9L1325.9 1162.7L1326.3 1163.0L1326.7 1164.5L1327.1 1164.8L1327.5 1165.5L1327.9 1161.3L1328.3 1162.5L1328.7 1160.5L1329.1 1161.7L1329.5 1161.0L1329.9 1160.0L1330.3 1160.6L1330.7 1160.1L1331.1 1160.3L1331.5 1162.2L1331.9 1162.9L1332.3 1161.1L1332.7 1160.3L1333.0 1159.5L1333.1 1159.4L1333.5 1160.2L1333.9 1160.2L1334.3 1160.4L1334.7 1160.7L1335.1 1159.4L1335.5 1161.0L1335.9 1159.3L1336.3 1161.2L1336.7 1159.9L1337.1 1159.4L1337.5 1162.1L1337.9 1160.5L1338.3 1158.8L1338.7 1158.0L1339.1 1157.9L1339.2 1157.7L1339.5 1157.6L1339.9 1157.0L1340.3 1157.1L1340.7 1156.7L1341.1 1156.8L1341.5 1157.0L1341.9 1157.5L1342.3 1157.3L1342.7 1156.5L1343.1 1156.8L1343.5 1157.2L1343.9 1157.1L1344.3 1157.7L1344.7 1156.6L1345.1 1156.5L1345.5 1156.5L1345.9 1156.3L1346.3 1157.0L1346.7 1156.6L1347.1 1156.5L1347.5 1156.6L1347.9 1156.9L1348.3 1156.4L1348.7 1156.7L1349.1 1156.6L1349.5 1156.7L1349.9 1157.7L1350.3 1156.9L1350.7 1157.1L1351.1 1157.6L1351.5 1156.5L1351.9 1158.9L1352.3 1157.8L1352.7 1157.6L1353.1 1158.7L1353.3 1157.8L1353.5 1159.9L1353.8 1161.5L1353.9 1160.4L1354.3 1158.1L1354.7 1157.4L1355.1 1157.3L1355.5 1158.4L1355.9 1157.9L1356.3 1159.7L1356.7 1158.0L1357.1 1157.6L1357.5 1158.5L1357.9 1158.7L1358.3 1158.7L1358.7 1158.8L1359.1 1159.0L1359.5 1158.5L1359.9 1158.2L1360.0 1158.8L1360.3 1159.6L1360.7 1159.8L1361.1 1159.9L1361.5 1160.2L1361.9 1160.7L1362.3 1161.3L1362.7 1162.6L1363.1 1161.2L1363.5 1162.5L1363.9 1163.0L1364.2 1163.8L1364.3 1163.5L1364.7 1162.5L1365.1 1161.7L1365.5 1160.8L1365.9 1159.9L1366.3 1157.9L1366.7 1157.2L1367.1 1157.4L1367.5 1158.7L1367.9 1157.8L1368.3 1158.9L1368.7 1159.1L1369.1 1158.8L1369.5 1159.3L1369.9 1159.8L1370.3 1159.8L1370.7 1160.4L1371.1 1160.8L1371.5 1160.0L1371.9 1161.7L1372.3 1162.9L1372.5 1162.8L1372.7 1161.8L1373.1 1162.8L1373.5 1162.4L1373.9 1162.9L1374.3 1162.9L1374.7 1162.6L1375.1 1163.1L1375.5 1163.0L1375.9 1163.4L1376.3 1163.9L1376.7 1164.5L1377.1 1165.1L1377.5 1166.1L1377.9 1166.3L1378.3 1166.1L1378.7 1166.2L1379.1 1165.5L1379.5 1165.8L1379.9 1165.8L1380.0 1166.6L1380.3 1167.1L1380.7 1167.5L1381.1 1166.9L1381.5 1166.8L1381.9 1167.4L1382.3 1167.5L1382.7 1168.4L1383.1 1168.3L1383.5 1168.4L1383.9 1167.8L1384.3 1167.4L1384.7 1168.4L1385.0 1168.5L1385.1 1168.3L1385.5 1168.9L1385.9 1168.8L1386.3 1168.7L1386.7 1168.0L1387.1 1167.9L1387.5 1167.8L1387.9 1168.1L1388.3 1168.2L1388.7 1168.0L1389.1 1167.8L1389.5 1167.7L1389.9 1167.5L1390.3 1167.5L1390.7 1167.5L1390.8 1168.1L1391.1 1167.8L1391.5 1166.7L1391.9 1167.5L1392.2 1166.2L1392.3 1165.1L1392.7 1158.5L1392.9 1154.7L1393.1 1157.8L1393.5 1163.8L1393.7 1166.1L1393.9 1167.3L1394.3 1167.4L1394.6 1167.7L1394.7 1166.4L1395.1 1167.3L1395.5 1168.4L1395.9 1168.4L1396.3 1168.3L1396.7 1169.0L1397.1 1169.7L1397.5 1170.0L1397.9 1169.9L1398.3 1171.6L1398.7 1171.2L1399.1 1172.1L1399.5 1172.8L1399.9 1172.0L1400.0 1171.8L1400.3 1171.7L1400.7 1172.2L1401.1 1172.5L1401.5 1172.3L1401.9 1171.6L1402.3 1172.7L1402.7 1173.9L1403.1 1172.8L1403.5 1172.9L1403.9 1173.8L1404.2 1173.7L1404.3 1173.2L1404.7 1172.4L1405.0 1170.2L1405.1 1171.2L1405.5 1169.7L1405.9 1169.7L1406.3 1169.5L1406.7 1169.4L1407.1 1169.7L1407.5 1168.8L1407.9 1169.3L1408.3 1170.3L1408.7 1169.7L1409.1 1169.2L1409.5 1169.0L1409.9 1169.4L1410.3 1168.7L1410.7 1169.0L1411.1 1168.6L1411.5 1168.4L1411.9 1168.2L1412.3 1168.3L1412.7 1169.4L1413.1 1169.0L1413.3 1168.8L1413.5 1168.6L1413.9 1168.2L1414.3 1167.8L1414.7 1167.2L1415.1 1166.4L1415.5 1166.7L1415.9 1166.5L1416.3 1166.4L1416.7 1166.5L1417.1 1165.6L1417.5 1165.8L1417.9 1165.4L1418.3 1165.1L1418.7 1165.6L1419.1 1164.4L1419.2 1165.1L1419.5 1167.4L1419.9 1170.7L1420.0 1172.0L1420.3 1173.0L1420.7 1172.1L1421.1 1172.0L1421.5 1172.0L1421.9 1172.2L1422.3 1173.1L1422.7 1173.1L1423.1 1173.2L1423.5 1172.7L1423.9 1173.5L1424.3 1173.6L1424.7 1173.4L1424.8 1172.9L1425.1 1168.7L1425.4 1163.9L1425.5 1166.5L1425.8 1174.1L1425.9 1173.6L1426.3 1173.8L1426.7 1173.6L1427.1 1173.8L1427.5 1175.0L1427.9 1174.5L1428.3 1173.5L1428.7 1173.8L1429.1 1173.3L1429.5 1173.2L1429.9 1173.5L1430.0 1173.9L1430.3 1173.8L1430.7 1174.2L1431.1 1173.4L1431.5 1173.1L1431.9 1172.9L1432.3 1173.1L1432.7 1172.8L1433.1 1172.9L1433.5 1173.1L1433.9 1173.0L1434.3 1172.2L1434.7 1172.7L1435.1 1172.9L1435.5 1172.7L1435.9 1172.6L1436.3 1172.3L1436.7 1172.5L1437.1 1172.4L1437.5 1172.0L1437.9 1172.0L1438.3 1171.6L1438.7 1171.4L1439.1 1170.9L1439.5 1169.9L1439.9 1170.7L1440.3 1170.8L1440.7 1171.1L1441.1 1171.3L1441.5 1170.3L1441.7 1170.1L1441.9 1170.1L1442.3 1168.0L1442.7 1168.2L1443.1 1167.4L1443.5 1167.5L1443.9 1166.6L1444.3 1166.0L1444.7 1165.6L1445.0 1166.0L1445.1 1164.1L1445.5 1163.2L1445.9 1161.6L1446.3 1160.6L1446.7 1159.1L1446.9 1158.3L1447.1 1161.8L1447.5 1165.5L1447.9 1170.1L1448.3 1170.3L1448.7 1169.5L1449.1 1169.2L1449.5 1169.9L1449.9 1169.3L1450.3 1169.6L1450.7 1169.2L1451.1 1169.4L1451.5 1169.8L1451.9 1169.2L1452.3 1170.0L1452.7 1169.3L1453.1 1168.8L1453.5 1170.1L1453.9 1168.6L1454.3 1168.5L1454.7 1168.0L1455.0 1168.1L1455.1 1168.6L1455.5 1168.8L1455.9 1169.5L1456.3 1170.0L1456.7 1170.1L1457.1 1170.5L1457.5 1171.2L1457.9 1171.6L1458.3 1171.9L1458.7 1172.2L1459.1 1172.3L1459.2 1172.1L1459.5 1172.2L1459.9 1172.4L1460.3 1171.4L1460.7 1170.7L1461.1 1170.2L1461.5 1169.3L1461.9 1169.0L1462.3 1169.1L1462.7 1168.6L1463.1 1168.2L1463.3 1167.7L1463.5 1166.4L1463.9 1162.2L1464.2 1160.9L1464.3 1161.0L1464.7 1161.7L1465.1 1162.3L1465.5 1163.0L1465.9 1163.6L1466.3 1164.4L1466.7 1166.1L1467.1 1165.3L1467.5 1166.1L1467.9 1166.3L1468.3 1165.6L1468.7 1167.2L1469.1 1167.1L1469.5 1167.7L1469.9 1167.9L1470.0 1168.5L1470.3 1168.3L1470.7 1168.4L1471.1 1168.6L1471.5 1169.2L1471.9 1168.5L1472.3 1168.9L1472.7 1168.9L1473.1 1168.7L1473.5 1168.5L1473.9 1168.5L1474.3 1168.7L1474.7 1168.6L1475.1 1168.1L1475.5 1168.1L1475.9 1167.4L1476.3 1168.0L1476.7 1169.7L1477.1 1167.9L1477.5 1168.8L1477.9 1166.2L1478.3 1163.4L1478.7 1161.6L1478.8 1161.2L1479.1 1163.0L1479.5 1165.8L1479.8 1168.3L1479.9 1169.0L1480.3 1169.3L1480.7 1170.3L1481.1 1171.6L1481.2 1171.9L1481.5 1170.8L1481.9 1170.7L1482.3 1171.1L1482.7 1171.7L1483.1 1170.3L1483.5 1169.2L1483.9 1169.7L1484.3 1169.5L1484.5 1169.0L1484.7 1168.0L1485.1 1165.2L1485.4 1163.5L1485.5 1164.0L1485.9 1166.7L1486.3 1169.2L1486.7 1169.4L1487.1 1169.4L1487.5 1169.9L1487.9 1169.7L1488.3 1170.4L1488.7 1170.2L1489.1 1170.4L1489.5 1170.1L1489.9 1169.8L1490.3 1170.2L1490.7 1168.8L1491.1 1170.7L1491.5 1169.9L1491.9 1169.9L1492.3 1170.6L1492.7 1169.5L1493.1 1170.5L1493.5 1170.9L1493.9 1170.8L1494.3 1170.8L1494.7 1170.2L1495.1 1170.0L1495.5 1170.3L1495.9 1170.5L1496.3 1170.6L1496.7 1170.7L1497.1 1171.4L1497.5 1172.0L1497.9 1173.0L1498.3 1173.8L1498.7 1172.4L1499.1 1171.5L1499.5 1171.2L1499.9 1170.1L1500.0 1169.5L1500.3 1169.1L1500.7 1169.2L1501.1 1167.9L1501.5 1167.3L1501.9 1167.4L1502.3 1167.0L1502.7 1166.1L1503.1 1166.2L1503.5 1165.7L1503.9 1166.0L1504.3 1164.2L1504.6 1164.3L1504.7 1164.4L1505.1 1166.0L1505.5 1166.2L1505.9 1167.7L1506.3 1168.3L1506.7 1169.8L1507.1 1169.6L1507.5 1169.2L1507.9 1169.2L1508.3 1169.8L1508.7 1170.8L1509.1 1169.8L1509.5 1169.3L1509.9 1169.3L1510.3 1169.4L1510.7 1169.1L1511.1 1170.9L1511.5 1169.8L1511.9 1170.1L1512.3 1169.0L1512.7 1169.8L1513.1 1169.7L1513.3 1170.5L1513.5 1169.2L1513.9 1166.8L1514.2 1164.7L1514.3 1169.2L1514.4 1173.4L1514.7 1172.6L1515.1 1171.3L1515.5 1170.0L1515.9 1169.9L1516.3 1170.1L1516.7 1170.4L1517.1 1170.0L1517.5 1169.4L1517.9 1169.7L1518.3 1168.8L1518.7 1169.5L1519.1 1169.7L1519.5 1171.3L1519.9 1169.7L1520.3 1170.0L1520.7 1169.7L1521.1 1169.2L1521.5 1170.7L1521.7 1170.7L1521.9 1170.2L1522.3 1169.1L1522.7 1168.3L1523.1 1167.9L1523.5 1167.2L1523.9 1167.7L1524.3 1166.5L1524.7 1165.8L1525.1 1165.9L1525.4 1165.0L1525.5 1165.1L1525.9 1165.2L1526.3 1165.7L1526.7 1165.6L1527.1 1165.3L1527.5 1167.7L1527.9 1166.0L1528.3 1166.1L1528.7 1166.7L1529.1 1167.3L1529.5 1167.8L1529.9 1167.2L1530.0 1166.7L1530.3 1167.3L1530.7 1166.6L1531.1 1167.1L1531.5 1166.8L1531.9 1166.4L1532.3 1166.5L1532.7 1166.4L1533.1 1166.3L1533.5 1166.0L1533.9 1165.5L1534.2 1165.3L1534.3 1165.1L1534.7 1165.1L1535.1 1164.7L1535.5 1163.4L1535.9 1164.2L1536.3 1164.1L1536.7 1164.6L1537.1 1164.5L1537.5 1164.6L1537.9 1164.9L1538.3 1164.9L1538.7 1164.2L1539.0 1164.1L1539.1 1164.7L1539.5 1161.0L1539.6 1161.7L1539.9 1162.2L1540.3 1164.2L1540.7 1164.4L1541.1 1165.0L1541.5 1164.8L1541.9 1164.8L1542.3 1165.1L1542.7 1164.9L1543.1 1164.3L1543.5 1164.7L1543.9 1165.2L1544.3 1165.3L1544.7 1165.0L1545.1 1164.9L1545.5 1165.0L1545.9 1165.4L1546.2 1165.6L1546.3 1166.4L1546.7 1165.1L1547.1 1164.9L1547.5 1164.6L1547.9 1164.7L1548.3 1164.2L1548.7 1163.6L1549.1 1163.1L1549.5 1163.0L1549.9 1162.1L1550.3 1161.8L1550.7 1161.4L1551.1 1161.6L1551.5 1161.3L1551.9 1161.1L1552.3 1162.2L1552.7 1160.0L1553.1 1159.4L1553.3 1159.5L1553.5 1159.4L1553.9 1158.9L1554.3 1159.5L1554.7 1159.6L1555.1 1159.3L1555.5 1160.0L1555.9 1158.8L1556.3 1158.2L1556.7 1159.0L1557.1 1160.8L1557.5 1159.5L1557.9 1158.2L1558.3 1158.3L1558.7 1157.8L1559.1 1157.9L1559.5 1157.4L1559.9 1158.1L1560.3 1157.5L1560.7 1157.9L1560.8 1157.8L1561.1 1158.3L1561.5 1159.0L1561.9 1158.8L1562.3 1159.8L1562.7 1160.0L1563.1 1160.6L1563.5 1160.5L1563.8 1160.9L1563.9 1159.3L1564.3 1155.3L1564.6 1151.9L1564.7 1152.5L1565.1 1156.5L1565.4 1156.4L1565.5 1156.4L1565.9 1157.0L1566.3 1156.5L1566.7 1158.0L1567.1 1158.3L1567.5 1158.6L1567.9 1158.7L1568.3 1159.1L1568.7 1159.4L1569.1 1160.2L1569.5 1160.5L1569.9 1160.2L1570.3 1160.7L1570.7 1161.0L1571.1 1162.1L1571.5 1160.7L1571.9 1162.1L1572.3 1162.4L1572.7 1162.9L1573.1 1163.7L1573.3 1164.0L1573.5 1162.8L1573.9 1163.2L1574.3 1163.6L1574.7 1163.3L1575.1 1163.2L1575.5 1164.3L1575.9 1164.5L1576.3 1164.6L1576.7 1166.1L1577.1 1164.5L1577.5 1165.1L1577.9 1165.5L1578.3 1166.0L1578.7 1165.2L1579.1 1164.7L1579.2 1166.3L1579.5 1167.3L1579.9 1166.6L1580.3 1166.9L1580.7 1165.9L1581.1 1166.2L1581.5 1166.1L1581.9 1166.0L1582.3 1166.1L1582.7 1166.0L1583.1 1166.1L1583.5 1166.5L1583.9 1166.1L1584.3 1166.2L1584.7 1166.0L1585.1 1167.8L1585.5 1166.1L1585.9 1165.7L1586.3 1165.2L1586.7 1165.9L1587.1 1166.5L1587.5 1166.3L1587.9 1166.2L1588.3 1165.8L1588.7 1166.1L1589.1 1166.5L1589.5 1168.1L1589.9 1166.2L1590.0 1166.9L1590.3 1166.5L1590.7 1166.6L1591.1 1166.8L1591.5 1166.0L1591.9 1165.5L1592.3 1165.4L1592.7 1166.0L1593.1 1166.3L1593.5 1165.4L1593.9 1165.6L1594.3 1165.4L1594.7 1165.5L1595.1 1165.3L1595.5 1165.1L1595.9 1165.4L1596.3 1165.7L1596.7 1165.5L1597.1 1165.3L1597.5 1165.2L1597.9 1164.4L1598.3 1165.3L1598.7 1165.6L1599.1 1165.5L1599.5 1164.7L1599.9 1164.4L1600.3 1165.8L1600.7 1165.9L1601.1 1165.0L1601.5 1164.6L1601.9 1164.7L1602.3 1165.1L1602.7 1164.5L1603.1 1164.2L1603.5 1163.6L1603.9 1164.6L1604.3 1163.8L1604.7 1164.0L1605.1 1163.3L1605.5 1164.1L1605.8 1163.7L1605.9 1164.0L1606.3 1165.9L1606.7 1165.3L1607.1 1165.6L1607.5 1166.0L1607.9 1165.4L1608.3 1166.3L1608.7 1166.5L1609.1 1168.0L1609.5 1166.5L1609.9 1167.0L1610.3 1166.6L1610.7 1166.5L1611.1 1166.9L1611.5 1166.9L1611.9 1166.4L1612.3 1167.1L1612.7 1167.2L1613.1 1167.3L1613.5 1167.4L1613.9 1168.1L1614.3 1166.4L1614.7 1168.4L1615.0 1167.4L1615.1 1169.0L1615.5 1168.0L1615.9 1168.0L1616.3 1168.8L1616.7 1167.7L1617.1 1168.2L1617.5 1168.0L1617.9 1167.2L1618.3 1168.7L1618.7 1166.8L1619.1 1168.6L1619.5 1168.3L1619.9 1168.6L1620.3 1168.7L1620.7 1168.8L1621.1 1169.2L1621.5 1168.8L1621.9 1168.0L1622.3 1169.5L1622.7 1169.0L1623.1 1169.2L1623.3 1170.1L1623.5 1168.5L1623.9 1168.6L1624.3 1168.5L1624.6 1168.7L1624.7 1167.0L1625.0 1164.8L1625.1 1165.9L1625.5 1168.5L1625.6 1169.2L1625.9 1168.5L1626.3 1169.1L1626.7 1169.5L1627.1 1169.0L1627.5 1169.4L1627.9 1169.3L1628.3 1171.3L1628.7 1170.9L1629.1 1169.6L1629.5 1169.2L1629.9 1169.5L1630.3 1169.3L1630.7 1168.7L1631.1 1168.9L1631.5 1169.3L1631.9 1168.7L1632.3 1168.4L1632.7 1168.3L1633.1 1169.7L1633.5 1168.4L1633.9 1168.2L1634.2 1168.2L1634.3 1168.4L1634.7 1168.6L1635.1 1167.9L1635.5 1168.6L1635.9 1168.0L1636.3 1168.2L1636.7 1167.4L1637.1 1167.0L1637.5 1167.5L1637.9 1167.4L1638.3 1167.1L1638.7 1166.6L1639.1 1166.4L1639.5 1166.6L1639.9 1166.7L1640.0 1166.3L1640.3 1167.0L1640.7 1167.1L1641.1 1166.2L1641.5 1167.0L1641.9 1166.3L1642.3 1166.1L1642.7 1166.4L1643.1 1165.6L1643.5 1166.3L1643.9 1166.1L1644.3 1165.8L1644.4 1165.8L1644.7 1165.5L1645.0 1164.0L1645.1 1164.7L1645.5 1166.1L1645.8 1167.8L1645.9 1167.5L1646.3 1167.6L1646.7 1167.1L1647.1 1166.5L1647.5 1166.5L1647.9 1167.1L1648.3 1167.0L1648.7 1166.3L1649.1 1166.2L1649.5 1166.2L1649.9 1166.2L1650.3 1166.3L1650.7 1166.6L1651.1 1166.0L1651.5 1167.6L1651.9 1166.1L1652.3 1165.9L1652.7 1166.0L1653.1 1165.8L1653.5 1166.3L1653.9 1166.0L1654.3 1165.6L1654.7 1165.3L1655.0 1164.8L1655.1 1166.9L1655.5 1164.5L1655.9 1163.2L1656.3 1162.6L1656.7 1162.1L1657.1 1161.6L1657.5 1160.1L1657.9 1159.1L1658.3 1158.0L1658.7 1157.7L1659.1 1156.5L1659.2 1155.5L1659.5 1155.6L1659.9 1155.7L1660.3 1155.2L1660.7 1156.5L1661.1 1157.5L1661.5 1155.2L1661.7 1155.5L1661.9 1161.9L1662.0 1165.3L1662.3 1164.7L1662.7 1164.3L1663.1 1164.7L1663.5 1165.8L1663.9 1166.5L1664.3 1167.3L1664.7 1167.3L1665.0 1167.4L1665.1 1167.1L1665.5 1166.6L1665.9 1167.2L1666.3 1166.9L1666.7 1166.8L1667.1 1167.3L1667.5 1167.2L1667.9 1166.5L1668.3 1166.7L1668.7 1167.0L1669.1 1166.4L1669.5 1166.9L1669.9 1166.6L1670.0 1167.8L1670.3 1166.7L1670.7 1167.8L1671.1 1166.8L1671.5 1169.1L1671.9 1167.8L1672.3 1168.9L1672.7 1168.4L1673.1 1169.0L1673.5 1169.5L1673.9 1168.6L1674.3 1169.1L1674.7 1169.4L1675.0 1169.7L1675.1 1170.1L1675.5 1170.3L1675.9 1169.9L1676.3 1169.9L1676.7 1169.9L1677.1 1170.8L1677.5 1171.3L1677.9 1170.8L1678.3 1171.5L1678.7 1170.8L1679.1 1172.5L1679.5 1171.3L1679.9 1172.4L1680.3 1171.6L1680.7 1172.6L1681.1 1173.8L1681.5 1173.4L1681.7 1173.5L1681.9 1173.1L1682.3 1173.5L1682.7 1173.3L1683.1 1173.5L1683.5 1173.9L1683.9 1174.0L1684.3 1173.9L1684.7 1173.7L1685.1 1174.0L1685.5 1174.9L1685.9 1174.4L1686.3 1174.5L1686.7 1174.9L1687.1 1174.6L1687.5 1175.9L1687.9 1175.3L1688.3 1174.2L1688.7 1175.3L1689.1 1175.2L1689.5 1175.8L1689.9 1175.7L1690.0 1175.9L1690.3 1176.4L1690.7 1175.0L1691.1 1176.1L1691.5 1175.8L1691.8 1174.7L1691.9 1173.5L1692.3 1169.8L1692.5 1167.6L1692.7 1169.2L1693.1 1173.4L1693.2 1175.1L1693.5 1174.6L1693.9 1174.9L1694.2 1174.9L1694.3 1174.6L1694.7 1174.7L1695.1 1174.4L1695.5 1174.5L1695.9 1174.4L1696.3 1174.3L1696.7 1174.0L1696.8 1174.3L1697.1 1172.3L1697.5 1169.1L1697.9 1172.2L1698.2 1174.3L1698.3 1174.1L1698.7 1174.1L1699.1 1173.7L1699.5 1173.5L1699.9 1173.6L1700.0 1173.3L1700.3 1173.4L1700.7 1173.2L1701.1 1172.9L1701.5 1172.6L1701.9 1172.8L1702.3 1172.5L1702.7 1172.5L1702.8 1171.8L1703.1 1169.9L1703.5 1166.8L1703.8 1165.5L1703.9 1166.9L1704.3 1170.7L1704.6 1171.4L1704.7 1172.2L1705.1 1171.9L1705.5 1172.3L1705.9 1172.7L1706.3 1173.0L1706.5 1173.0L1706.7 1171.8L1707.1 1170.5L1707.5 1169.2L1707.9 1168.3L1708.0 1167.9L1708.3 1169.1L1708.7 1169.2L1709.1 1170.1L1709.5 1171.6L1709.9 1170.7L1710.3 1172.6L1710.7 1171.7L1711.1 1174.1L1711.5 1173.1L1711.9 1172.7L1712.3 1173.6L1712.5 1174.9L1712.7 1172.8L1713.1 1173.1L1713.5 1172.9L1713.8 1172.1L1713.9 1171.2L1714.3 1168.1L1714.7 1164.7L1715.1 1166.5L1715.5 1168.6L1715.8 1170.5L1715.9 1170.4L1716.3 1170.9L1716.7 1171.1L1716.9 1171.5L1717.1 1169.5L1717.5 1168.8L1717.9 1166.0L1718.0 1165.3L1718.3 1165.0L1718.7 1164.5L1718.8 1164.1L1719.1 1164.5L1719.5 1164.3L1719.9 1164.0L1720.3 1163.4L1720.7 1162.5L1721.1 1163.8L1721.2 1163.4L1721.5 1166.6L1721.9 1171.0L1722.2 1174.0L1722.3 1173.6L1722.7 1174.2L1723.1 1174.8L1723.5 1174.6L1723.9 1175.6L1724.3 1175.7L1724.7 1176.5L1725.0 1175.8L1725.1 1175.7L1725.5 1176.0L1725.9 1175.7L1726.3 1176.7L1726.7 1176.6L1727.1 1176.1L1727.5 1176.7L1727.9 1175.5L1728.0 1175.0L1728.3 1174.9L1728.7 1175.5L1729.1 1175.1L1729.5 1174.7L1729.9 1174.6L1730.3 1174.0L1730.7 1174.1L1731.1 1174.2L1731.2 1173.8L1731.5 1173.6L1731.9 1174.2L1732.3 1173.9L1732.7 1173.7L1733.1 1174.0L1733.5 1173.7L1733.9 1174.4L1734.3 1173.6L1734.7 1173.5L1735.1 1173.3L1735.5 1173.8L1735.9 1173.6L1736.3 1173.5L1736.7 1171.8L1737.1 1173.3L1737.5 1173.0L1737.9 1173.5L1738.3 1174.0L1738.7 1173.1L1739.1 1172.9L1739.5 1172.5L1739.9 1172.1L1740.3 1172.6L1740.7 1172.4L1741.1 1172.2L1741.5 1171.6L1741.9 1172.3L1742.3 1171.7L1742.7 1171.4L1743.1 1171.3L1743.5 1170.6L1743.8 1170.7L1743.9 1170.8L1744.3 1169.6L1744.7 1168.3L1745.1 1168.4L1745.5 1168.5L1745.9 1168.8L1746.2 1167.3L1746.3 1167.1L1746.7 1165.7L1747.1 1164.3L1747.3 1163.2L1747.5 1161.4L1747.9 1159.1L1748.0 1158.4L1748.3 1159.4L1748.7 1162.4L1749.0 1165.9L1749.1 1165.9L1749.5 1168.8L1749.9 1171.7L1750.0 1172.3L1750.3 1171.4L1750.7 1170.1L1751.1 1169.3L1751.2 1169.2L1751.5 1167.1L1751.9 1167.3L1752.3 1165.5L1752.5 1165.0L1752.7 1165.0L1753.1 1163.8L1753.5 1164.2L1753.9 1162.6L1754.3 1163.0L1754.7 1162.2L1755.1 1162.7L1755.5 1163.1L1755.9 1162.5L1756.2 1162.0L1756.3 1161.7L1756.7 1161.1L1757.1 1159.7L1757.5 1159.3L1757.9 1158.3L1758.3 1158.6L1758.5 1158.0L1758.7 1156.6L1759.1 1154.1L1759.5 1150.5L1759.7 1149.2L1759.9 1154.3L1760.3 1163.5L1760.7 1162.3L1761.1 1161.5L1761.5 1159.6L1761.9 1158.2L1762.3 1156.8L1762.5 1155.2L1762.7 1157.7L1763.1 1160.4L1763.5 1162.2L1763.8 1164.0L1763.9 1163.2L1764.3 1162.8L1764.7 1161.9L1765.1 1160.7L1765.5 1160.3L1765.9 1159.4L1766.3 1159.0L1766.7 1157.2L1766.9 1156.5L1767.1 1162.4L1767.2 1164.1L1767.5 1163.8L1767.9 1161.5L1768.3 1159.7L1768.7 1158.2L1768.8 1156.9L1769.1 1158.4L1769.5 1158.6L1769.9 1160.8L1770.0 1159.6L1770.3 1156.0L1770.6 1150.7L1770.7 1151.5L1771.1 1150.2L1771.5 1148.4L1771.9 1147.9L1772.3 1147.1L1772.7 1146.1L1773.1 1145.2L1773.5 1143.8L1773.8 1143.2L1773.9 1142.7L1774.3 1141.4L1774.7 1140.6L1775.1 1139.3L1775.5 1138.6L1775.9 1137.7L1776.3 1136.6L1776.7 1135.6L1777.1 1134.5L1777.5 1133.7L1777.9 1131.6L1778.3 1130.5L1778.7 1129.5L1779.1 1128.0L1779.5 1126.4L1779.9 1125.0L1780.3 1123.9L1780.6 1122.7L1780.7 1121.8L1781.1 1120.2L1781.5 1117.9L1781.9 1115.9L1782.3 1113.8L1782.7 1111.7L1783.0 1110.3L1783.1 1110.1L1783.5 1107.8L1783.9 1106.3L1784.3 1104.1L1784.7 1102.2L1785.0 1100.5L1785.1 1100.1L1785.5 1097.6L1785.9 1095.5L1786.3 1093.5L1786.7 1091.5L1787.1 1089.8L1787.5 1087.5L1787.9 1084.8L1788.3 1082.6L1788.7 1079.8L1789.1 1077.1L1789.5 1074.4L1789.6 1073.8L1789.9 1071.8L1790.3 1069.2L1790.7 1066.5L1791.1 1063.2L1791.5 1060.3L1791.7 1058.9L1791.9 1056.7L1792.3 1052.5L1792.7 1047.4L1793.1 1042.8L1793.3 1040.5L1793.5 1038.2L1793.9 1033.1L1794.3 1027.8L1794.7 1022.7L1794.8 1021.3L1795.1 1018.8L1795.5 1014.5L1795.9 1010.5L1796.3 1006.7L1796.7 1002.6L1796.9 1000.6L1797.1 995.4L1797.5 984.9L1797.9 974.3L1798.3 963.8L1798.7 953.8L1799.1 943.4L1799.5 932.6L1799.9 922.1L1800.0 919.5L1800.3 914.8L1800.7 908.9L1801.1 902.9L1801.5 897.0L1801.9 891.4L1802.3 885.3L1802.7 879.3L1803.1 873.3L1803.5 867.3L1803.9 861.6L1804.2 857.1L1804.3 854.4L1804.7 844.5L1805.1 834.5L1805.5 824.4L1805.9 814.4L1806.3 804.4L1806.7 794.5L1807.1 784.3L1807.5 774.4L1807.9 764.5L1808.3 754.5L1808.7 744.5L1809.1 735.0L1809.2 732.1L1809.5 726.4L1809.9 719.3L1810.3 712.1L1810.7 704.9L1811.1 697.5L1811.5 690.4L1811.9 682.6L1812.3 675.6L1812.7 668.5L1813.1 661.2L1813.5 654.1L1813.9 646.9L1814.3 639.6L1814.7 632.2L1815.1 624.7L1815.4 619.3L1815.5 617.7L1815.9 608.8L1816.3 600.1L1816.7 591.3L1817.1 582.9L1817.5 574.1L1817.9 565.9L1818.3 556.9L1818.7 548.4L1819.1 539.7L1819.5 531.1L1819.9 522.4L1820.3 513.8L1820.7 505.3L1821.1 496.8L1821.5 487.7L1821.9 479.4L1822.3 470.8L1822.7 462.0L1823.1 453.2L1823.5 445.2L1823.7 440.2L1823.9 436.6L1824.3 428.7L1824.7 420.8L1825.1 412.9L1825.5 405.0L1825.9 397.1L1826.3 389.1L1826.7 381.2L1827.0 375.3L1827.1 372.5L1827.5 361.0L1827.9 349.3L1828.3 337.9L1828.7 325.7L1829.1 314.6L1829.5 303.1L1829.6 299.8L1829.9 282.7L1830.3 259.9L1830.7 237.0L1830.9 225.4L1831.1 217.8L1831.5 203.1L1831.7 195.9L1831.9 189.3L1832.3 176.0L1832.7 174.6L1833.1 173.3L1833.5 171.8L1833.9 170.5L1834.3 168.9L1834.7 167.3L1835.1 166.9L1835.4 164.9L1835.5 164.9L1835.9 162.5L1836.3 160.2L1836.7 158.3L1837.1 156.2L1837.5 154.3L1837.9 154.7L1838.3 153.8L1838.7 153.5L1839.1 152.3L1839.5 153.2L1839.6 153.1L1839.9 150.5L1840.1 148.6L1840.3 147.7L1840.7 146.1L1841.1 143.9L1841.5 142.4L1841.9 141.6L1842.3 140.8L1842.7 138.8L1843.1 138.3L1843.5 138.1L1843.9 137.6L1844.3 136.4L1844.7 136.1L1845.1 135.7L1845.5 135.0L1845.8 134.7L1845.9 134.3L1846.3 131.8L1846.7 129.0L1846.9 127.5L1847.1 127.1L1847.5 127.0L1847.9 126.7L1848.3 124.8L1848.7 125.9L1849.0 124.7L1849.1 124.9L1849.5 124.5L1849.9 123.3L1850.3 122.8L1850.7 168.5L1850.8 179.8L1851.1 229.6L1851.3 263.9L1851.5 261.2L1851.9 257.5L1852.2 255.1L1852.3 254.2L1852.7 252.4L1853.1 250.5L1853.5 248.6L1853.9 246.8L1854.3 245.6L1854.7 245.0L1855.0 242.8L1855.1 242.2L1855.5 240.7L1855.9 238.3L1856.3 236.4L1856.7 233.9L1857.0 232.8L1857.1 232.3L1857.5 230.1L1857.9 228.0L1858.3 225.3L1858.7 224.0L1859.0 222.3L1859.1 220.8L1859.5 219.7L1859.9 219.0L1860.3 214.9L1860.7 212.8L1861.0 211.3L1861.1 210.6L1861.5 208.9L1861.9 206.7L1862.3 204.2L1862.5 202.5L1862.7 201.9L1863.1 200.0L1863.5 198.4"/>
</g>
<rect x="319.5" y="112.5" width="1544.0" height="1066.0" fill="none" stroke="#000" stroke-width="3.2"/>
<g stroke="#000" fill="none">
<line x1="331.5" y1="1178.5" x2="331.5" y2="1193.3" stroke-width="3.2"/>
<line x1="476.5" y1="1178.5" x2="476.5" y2="1193.3" stroke-width="3.2"/>
<line x1="621.5" y1="1178.5" x2="621.5" y2="1193.3" stroke-width="3.2"/>
<line x1="766.5" y1="1178.5" x2="766.5" y2="1193.3" stroke-width="3.2"/>
<line x1="911.5" y1="1178.5" x2="911.5" y2="1193.3" stroke-width="3.2"/>
<line x1="1056.5" y1="1178.5" x2="1056.5" y2="1193.3" stroke-width="3.2"/>
<line x1="1201.5" y1="1178.5" x2="1201.5" y2="1193.3" stroke-width="3.2"/>
<line x1="1346.5" y1="1178.5" x2="1346.5" y2="1193.3" stroke-width="3.2"/>
<line x1="1491.5" y1="1178.5" x2="1491.5" y2="1193.3" stroke-width="3.2"/>
<line x1="1636.5" y1="1178.5" x2="1636.5" y2="1193.3" stroke-width="3.2"/>
<line x1="1781.5" y1="1178.5" x2="1781.5" y2="1193.3" stroke-width="3.2"/>
<line x1="319.5" y1="887.5" x2="304.7" y2="887.5" stroke-width="3.2"/>
<line x1="319.5" y1="232.5" x2="311.1" y2="232.5" stroke-width="2.5"/>
<line x1="319.5" y1="418.5" x2="311.1" y2="418.5" stroke-width="2.5"/>
<line x1="319.5" y1="633.5" x2="311.1" y2="633.5" stroke-width="2.5"/>
</g>
<rect x="340.3" y="1019.4" width="320.5" height="137.4" rx="8.3" ry="8.3" fill="#ffffff" fill-opacity="0.8" stroke="#cccccc" stroke-opacity="0.8" stroke-width="4.2"/>
<line x1="355.8" y1="1053.7" x2="441.0" y2="1053.7" stroke="#ff0000" stroke-width="2.1"/>
<line x1="355.8" y1="1116.9" x2="441.0" y2="1116.9" stroke="#000000" stroke-width="2.1"/>
<g opacity="0.999">
<text x="389.90" y="86.75" font-size="52.6" textLength="116.80" lengthAdjust="spacingAndGlyphs">Peak</text>
<text x="527.00" y="86.75" font-size="52.6" textLength="105.63" lengthAdjust="spacingAndGlyphs">field</text>
<text x="649.85" y="86.75" font-size="52.6" textLength="130.10" lengthAdjust="spacingAndGlyphs">sums</text>
<text x="800.00" y="86.75" font-size="52.6" textLength="65.88" lengthAdjust="spacingAndGlyphs">for</text>
<text x="882.17" y="86.75" font-size="52.6" textLength="197.32" lengthAdjust="spacingAndGlyphs">BG000E</text>
<text x="1106.54" y="86.75" font-size="52.6" textLength="252.56" lengthAdjust="spacingAndGlyphs">20260325</text>
<text x="1388.71" y="86.75" font-size="52.6" textLength="186.15" lengthAdjust="spacingAndGlyphs">165436</text>
<text x="1603.83" y="86.75" font-size="52.6" textLength="185.25" lengthAdjust="spacingAndGlyphs">164840</text>
<text x="109.91" y="248.30" font-size="44.0" textLength="64.37" lengthAdjust="spacingAndGlyphs">1.6</text>
<text x="227.24" y="248.30" font-size="44.0" textLength="49.16" lengthAdjust="spacingAndGlyphs">10</text>
<text x="279.84" y="232.50" font-size="30.8" textLength="17.11" lengthAdjust="spacingAndGlyphs">8</text>
<text x="109.89" y="434.30" font-size="44.0" textLength="64.67" lengthAdjust="spacingAndGlyphs">1.4</text>
<text x="227.24" y="434.30" font-size="44.0" textLength="49.16" lengthAdjust="spacingAndGlyphs">10</text>
<text x="279.84" y="418.50" font-size="30.8" textLength="17.11" lengthAdjust="spacingAndGlyphs">8</text>
<text x="109.94" y="649.30" font-size="44.0" textLength="63.51" lengthAdjust="spacingAndGlyphs">1.2</text>
<text x="227.24" y="649.30" font-size="44.0" textLength="49.16" lengthAdjust="spacingAndGlyphs">10</text>
<text x="279.84" y="633.50" font-size="30.8" textLength="17.11" lengthAdjust="spacingAndGlyphs">8</text>
<text x="220.24" y="903.30" font-size="44.0" textLength="49.16" lengthAdjust="spacingAndGlyphs">10</text>
<text x="272.84" y="887.50" font-size="30.8" textLength="17.11" lengthAdjust="spacingAndGlyphs">8</text>
<text x="1040.07" y="1386.80" font-size="44.0" textLength="101.41" lengthAdjust="spacingAndGlyphs">Time</text>
<text x="474.61" y="1068.80" font-size="44.0" textLength="95.93" lengthAdjust="spacingAndGlyphs">Peak</text>
<text x="474.40" y="1130.90" font-size="44.0" textLength="169.25" lengthAdjust="spacingAndGlyphs">Average</text>
<text transform="translate(82.6,690.0) rotate(-90)" x="0.00" y="0.00" font-size="44.0" textLength="88.26" lengthAdjust="spacingAndGlyphs">ADU</text>
<text transform="translate(328.3,1268.6) rotate(-30)" x="-92.16" y="15.20" font-size="44.0" textLength="184.76" lengthAdjust="spacingAndGlyphs">03-25 17</text>
<text transform="translate(473.3,1268.6) rotate(-30)" x="-92.16" y="15.20" font-size="44.0" textLength="184.76" lengthAdjust="spacingAndGlyphs">03-25 18</text>
<text transform="translate(618.3,1268.6) rotate(-30)" x="-92.16" y="15.20" font-size="44.0" textLength="184.76" lengthAdjust="spacingAndGlyphs">03-25 19</text>
<text transform="translate(763.3,1268.6) rotate(-30)" x="-92.16" y="15.20" font-size="44.0" textLength="184.02" lengthAdjust="spacingAndGlyphs">03-25 20</text>
<text transform="translate(908.3,1268.6) rotate(-30)" x="-92.16" y="15.20" font-size="44.0" textLength="184.76" lengthAdjust="spacingAndGlyphs">03-25 21</text>
<text transform="translate(1053.3,1268.6) rotate(-30)" x="-92.16" y="15.20" font-size="44.0" textLength="184.76" lengthAdjust="spacingAndGlyphs">03-25 22</text>
<text transform="translate(1198.3,1268.6) rotate(-30)" x="-92.16" y="15.20" font-size="44.0" textLength="184.76" lengthAdjust="spacingAndGlyphs">03-25 23</text>
<text transform="translate(1343.3,1268.6) rotate(-30)" x="-92.16" y="15.20" font-size="44.0" textLength="184.02" lengthAdjust="spacingAndGlyphs">03-26 00</text>
<text transform="translate(1488.3,1268.6) rotate(-30)" x="-92.16" y="15.20" font-size="44.0" textLength="184.76" lengthAdjust="spacingAndGlyphs">03-26 01</text>
<text transform="translate(1633.3,1268.6) rotate(-30)" x="-92.16" y="15.20" font-size="44.0" textLength="184.76" lengthAdjust="spacingAndGlyphs">03-26 02</text>
<text transform="translate(1778.3,1268.6) rotate(-30)" x="-92.16" y="15.20" font-size="44.0" textLength="184.76" lengthAdjust="spacingAndGlyphs">03-26 03</text>
</g>
<rect x="1080.1" y="95.2" width="26.15" height="3.6" fill="#000"/>
<rect x="1360.6" y="95.2" width="25.10" height="3.6" fill="#000"/>
<rect x="1575.7" y="95.2" width="25.00" height="3.6" fill="#000"/>
<path d="M189.9 223.89999999999998L210.9 245.5M189.9 245.5L210.9 223.89999999999998" stroke="#000" stroke-width="3.3" fill="none"/>
<path d="M189.9 409.9L210.9 431.5M189.9 431.5L210.9 409.9" stroke="#000" stroke-width="3.3" fill="none"/>
<path d="M189.9 624.9000000000001L210.9 646.5M189.9 646.5L210.9 624.9000000000001" stroke="#000" stroke-width="3.3" fill="none"/>
</svg></body></html>
